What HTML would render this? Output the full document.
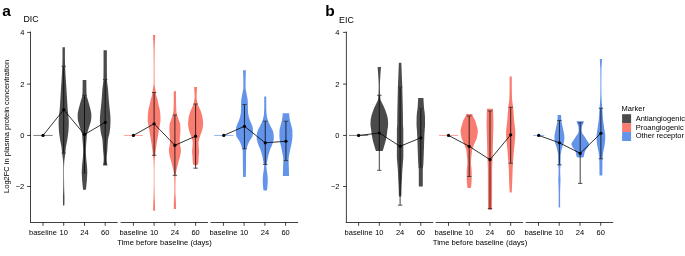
<!DOCTYPE html>
<html><head><meta charset="utf-8"><style>
html,body{margin:0;padding:0;background:#fff;overflow:hidden;}
svg{display:block;will-change:transform;}
text{font-family:"Liberation Sans",sans-serif;fill:#000;}
</style></head><body>
<svg width="685" height="256" viewBox="0 0 685 256">
<rect width="685" height="256" fill="#fff"/>
<line x1="33.30" y1="135.45" x2="52.70" y2="135.45" stroke="#4b4b4b" stroke-width="0.7"/>
<path d="M64.95,47.20 L64.94,47.60 L64.94,48.00 L64.93,48.40 L64.93,48.80 L64.92,49.20 L64.92,49.60 L64.92,50.00 L64.91,50.40 L64.91,50.80 L64.91,51.20 L64.91,51.60 L64.90,52.00 L64.90,52.40 L64.90,52.80 L64.90,53.20 L64.90,53.60 L64.90,54.00 L64.90,54.40 L64.90,54.80 L64.90,55.20 L64.90,55.60 L64.90,56.00 L64.90,56.40 L64.91,56.80 L64.91,57.20 L64.92,57.60 L64.92,58.00 L64.93,58.40 L64.93,58.80 L64.94,59.20 L64.95,59.60 L64.95,60.00 L64.96,60.40 L64.97,60.80 L64.98,61.20 L64.99,61.60 L65.00,62.00 L65.01,62.40 L65.02,62.80 L65.03,63.20 L65.04,63.60 L65.05,64.00 L65.06,64.40 L65.07,64.80 L65.08,65.20 L65.09,65.60 L65.10,66.00 L65.11,66.40 L65.12,66.80 L65.14,67.20 L65.15,67.60 L65.17,68.00 L65.19,68.40 L65.20,68.80 L65.22,69.20 L65.24,69.60 L65.26,70.00 L65.28,70.40 L65.30,70.80 L65.32,71.20 L65.35,71.60 L65.37,72.00 L65.39,72.40 L65.42,72.80 L65.44,73.20 L65.46,73.60 L65.49,74.00 L65.51,74.40 L65.53,74.80 L65.55,75.20 L65.58,75.60 L65.60,76.00 L65.62,76.40 L65.65,76.80 L65.67,77.20 L65.69,77.60 L65.72,78.00 L65.74,78.40 L65.77,78.80 L65.79,79.20 L65.82,79.60 L65.84,80.00 L65.87,80.40 L65.89,80.80 L65.92,81.20 L65.95,81.60 L65.97,82.00 L66.00,82.40 L66.03,82.80 L66.05,83.20 L66.08,83.60 L66.11,84.00 L66.13,84.40 L66.16,84.80 L66.19,85.20 L66.21,85.60 L66.24,86.00 L66.27,86.40 L66.29,86.80 L66.32,87.20 L66.35,87.60 L66.37,88.00 L66.40,88.40 L66.42,88.80 L66.45,89.20 L66.48,89.60 L66.50,90.00 L66.52,90.40 L66.55,90.80 L66.57,91.20 L66.60,91.60 L66.62,92.00 L66.65,92.40 L66.67,92.80 L66.69,93.20 L66.72,93.60 L66.74,94.00 L66.77,94.40 L66.79,94.80 L66.81,95.20 L66.84,95.60 L66.86,96.00 L66.88,96.40 L66.91,96.80 L66.93,97.20 L66.96,97.60 L66.98,98.00 L67.00,98.40 L67.03,98.80 L67.05,99.20 L67.08,99.60 L67.10,100.00 L67.12,100.40 L67.15,100.80 L67.17,101.20 L67.20,101.60 L67.22,102.00 L67.24,102.40 L67.27,102.80 L67.29,103.20 L67.31,103.60 L67.34,104.00 L67.36,104.40 L67.38,104.80 L67.41,105.20 L67.43,105.60 L67.46,106.00 L67.49,106.40 L67.51,106.80 L67.54,107.20 L67.57,107.60 L67.60,108.00 L67.63,108.40 L67.66,108.80 L67.70,109.20 L67.73,109.60 L67.77,110.00 L67.81,110.40 L67.85,110.80 L67.89,111.20 L67.93,111.60 L67.97,112.00 L68.01,112.40 L68.05,112.80 L68.09,113.20 L68.13,113.60 L68.17,114.00 L68.21,114.40 L68.24,114.80 L68.28,115.20 L68.32,115.60 L68.35,116.00 L68.38,116.40 L68.42,116.80 L68.46,117.20 L68.50,117.60 L68.54,118.00 L68.58,118.40 L68.62,118.80 L68.66,119.20 L68.69,119.60 L68.72,120.00 L68.75,120.40 L68.77,120.80 L68.79,121.20 L68.80,121.60 L68.80,122.00 L68.80,122.40 L68.80,122.80 L68.79,123.20 L68.78,123.60 L68.78,124.00 L68.77,124.40 L68.75,124.80 L68.74,125.20 L68.73,125.60 L68.71,126.00 L68.69,126.40 L68.68,126.80 L68.66,127.20 L68.64,127.60 L68.62,128.00 L68.60,128.40 L68.58,128.80 L68.56,129.20 L68.54,129.60 L68.52,130.00 L68.49,130.40 L68.46,130.80 L68.42,131.20 L68.39,131.60 L68.35,132.00 L68.30,132.40 L68.26,132.80 L68.21,133.20 L68.17,133.60 L68.12,134.00 L68.06,134.40 L68.01,134.80 L67.96,135.20 L67.90,135.60 L67.84,136.00 L67.79,136.40 L67.73,136.80 L67.67,137.20 L67.61,137.60 L67.56,138.00 L67.50,138.40 L67.44,138.80 L67.38,139.20 L67.32,139.60 L67.25,140.00 L67.18,140.40 L67.11,140.80 L67.04,141.20 L66.96,141.60 L66.88,142.00 L66.80,142.40 L66.72,142.80 L66.64,143.20 L66.56,143.60 L66.48,144.00 L66.40,144.40 L66.32,144.80 L66.25,145.20 L66.17,145.60 L66.10,146.00 L66.03,146.40 L65.97,146.80 L65.91,147.20 L65.85,147.60 L65.80,148.00 L65.75,148.40 L65.71,148.80 L65.67,149.20 L65.63,149.60 L65.59,150.00 L65.55,150.40 L65.51,150.80 L65.48,151.20 L65.44,151.60 L65.40,152.00 L65.36,152.40 L65.32,152.80 L65.28,153.20 L65.23,153.60 L65.18,154.00 L65.13,154.40 L65.08,154.80 L65.03,155.20 L64.97,155.60 L64.92,156.00 L64.87,156.40 L64.82,156.80 L64.78,157.20 L64.73,157.60 L64.68,158.00 L64.62,158.40 L64.57,158.80 L64.52,159.20 L64.47,159.60 L64.42,160.00 L64.38,160.40 L64.34,160.80 L64.30,161.20 L64.27,161.60 L64.25,162.00 L64.23,162.40 L64.21,162.80 L64.19,163.20 L64.17,163.60 L64.15,164.00 L64.14,164.40 L64.12,164.80 L64.10,165.20 L64.09,165.60 L64.07,166.00 L64.06,166.40 L64.05,166.80 L64.04,167.20 L64.03,167.60 L64.02,168.00 L64.01,168.40 L64.01,168.80 L64.00,169.20 L64.00,169.60 L64.00,170.00 L64.00,170.40 L64.00,170.80 L64.00,171.20 L64.00,171.60 L64.00,172.00 L64.00,172.40 L64.01,172.80 L64.01,173.20 L64.01,173.60 L64.01,174.00 L64.01,174.40 L64.01,174.80 L64.02,175.20 L64.02,175.60 L64.02,176.00 L64.02,176.40 L64.03,176.80 L64.03,177.20 L64.03,177.60 L64.04,178.00 L64.04,178.40 L64.04,178.80 L64.04,179.20 L64.05,179.60 L64.05,180.00 L64.05,180.40 L64.06,180.80 L64.06,181.20 L64.06,181.60 L64.07,182.00 L64.07,182.40 L64.08,182.80 L64.08,183.20 L64.09,183.60 L64.09,184.00 L64.10,184.40 L64.11,184.80 L64.11,185.20 L64.12,185.60 L64.12,186.00 L64.13,186.40 L64.14,186.80 L64.15,187.20 L64.15,187.60 L64.16,188.00 L64.17,188.40 L64.18,188.80 L64.18,189.20 L64.19,189.60 L64.20,190.00 L64.21,190.40 L64.22,190.80 L64.23,191.20 L64.25,191.60 L64.26,192.00 L64.28,192.40 L64.29,192.80 L64.31,193.20 L64.33,193.60 L64.35,194.00 L64.36,194.40 L64.38,194.80 L64.39,195.20 L64.41,195.60 L64.42,196.00 L64.43,196.40 L64.44,196.80 L64.44,197.20 L64.45,197.60 L64.45,198.00 L64.45,198.40 L64.45,198.80 L64.45,199.20 L64.45,199.60 L64.45,200.00 L64.44,200.40 L64.44,200.80 L64.44,201.20 L64.44,201.60 L64.43,202.00 L64.43,202.40 L64.42,202.80 L64.41,203.20 L64.40,203.60 L64.40,204.00 L64.39,204.40 L64.38,204.80 L64.36,205.20 L64.35,205.60 L63.05,205.60 L63.04,205.20 L63.02,204.80 L63.01,204.40 L63.00,204.00 L63.00,203.60 L62.99,203.20 L62.98,202.80 L62.97,202.40 L62.97,202.00 L62.96,201.60 L62.96,201.20 L62.96,200.80 L62.96,200.40 L62.95,200.00 L62.95,199.60 L62.95,199.20 L62.95,198.80 L62.95,198.40 L62.95,198.00 L62.95,197.60 L62.96,197.20 L62.96,196.80 L62.97,196.40 L62.98,196.00 L62.99,195.60 L63.01,195.20 L63.02,194.80 L63.04,194.40 L63.05,194.00 L63.07,193.60 L63.09,193.20 L63.11,192.80 L63.12,192.40 L63.14,192.00 L63.15,191.60 L63.17,191.20 L63.18,190.80 L63.19,190.40 L63.20,190.00 L63.21,189.60 L63.22,189.20 L63.22,188.80 L63.23,188.40 L63.24,188.00 L63.25,187.60 L63.25,187.20 L63.26,186.80 L63.27,186.40 L63.28,186.00 L63.28,185.60 L63.29,185.20 L63.29,184.80 L63.30,184.40 L63.31,184.00 L63.31,183.60 L63.32,183.20 L63.32,182.80 L63.33,182.40 L63.33,182.00 L63.34,181.60 L63.34,181.20 L63.34,180.80 L63.35,180.40 L63.35,180.00 L63.35,179.60 L63.36,179.20 L63.36,178.80 L63.36,178.40 L63.36,178.00 L63.37,177.60 L63.37,177.20 L63.37,176.80 L63.38,176.40 L63.38,176.00 L63.38,175.60 L63.38,175.20 L63.39,174.80 L63.39,174.40 L63.39,174.00 L63.39,173.60 L63.39,173.20 L63.39,172.80 L63.40,172.40 L63.40,172.00 L63.40,171.60 L63.40,171.20 L63.40,170.80 L63.40,170.40 L63.40,170.00 L63.40,169.60 L63.40,169.20 L63.39,168.80 L63.39,168.40 L63.38,168.00 L63.37,167.60 L63.36,167.20 L63.35,166.80 L63.34,166.40 L63.33,166.00 L63.31,165.60 L63.30,165.20 L63.28,164.80 L63.26,164.40 L63.25,164.00 L63.23,163.60 L63.21,163.20 L63.19,162.80 L63.17,162.40 L63.15,162.00 L63.13,161.60 L63.10,161.20 L63.06,160.80 L63.02,160.40 L62.98,160.00 L62.93,159.60 L62.88,159.20 L62.83,158.80 L62.78,158.40 L62.72,158.00 L62.67,157.60 L62.62,157.20 L62.58,156.80 L62.53,156.40 L62.48,156.00 L62.43,155.60 L62.37,155.20 L62.32,154.80 L62.27,154.40 L62.22,154.00 L62.17,153.60 L62.12,153.20 L62.08,152.80 L62.04,152.40 L62.00,152.00 L61.96,151.60 L61.92,151.20 L61.89,150.80 L61.85,150.40 L61.81,150.00 L61.77,149.60 L61.73,149.20 L61.69,148.80 L61.65,148.40 L61.60,148.00 L61.55,147.60 L61.49,147.20 L61.43,146.80 L61.37,146.40 L61.30,146.00 L61.23,145.60 L61.15,145.20 L61.08,144.80 L61.00,144.40 L60.92,144.00 L60.84,143.60 L60.76,143.20 L60.68,142.80 L60.60,142.40 L60.52,142.00 L60.44,141.60 L60.36,141.20 L60.29,140.80 L60.22,140.40 L60.15,140.00 L60.08,139.60 L60.02,139.20 L59.96,138.80 L59.90,138.40 L59.84,138.00 L59.79,137.60 L59.73,137.20 L59.67,136.80 L59.61,136.40 L59.56,136.00 L59.50,135.60 L59.44,135.20 L59.39,134.80 L59.34,134.40 L59.28,134.00 L59.23,133.60 L59.19,133.20 L59.14,132.80 L59.10,132.40 L59.05,132.00 L59.01,131.60 L58.98,131.20 L58.94,130.80 L58.91,130.40 L58.88,130.00 L58.86,129.60 L58.84,129.20 L58.82,128.80 L58.80,128.40 L58.78,128.00 L58.76,127.60 L58.74,127.20 L58.72,126.80 L58.71,126.40 L58.69,126.00 L58.67,125.60 L58.66,125.20 L58.65,124.80 L58.63,124.40 L58.62,124.00 L58.62,123.60 L58.61,123.20 L58.60,122.80 L58.60,122.40 L58.60,122.00 L58.60,121.60 L58.61,121.20 L58.63,120.80 L58.65,120.40 L58.68,120.00 L58.71,119.60 L58.74,119.20 L58.78,118.80 L58.82,118.40 L58.86,118.00 L58.90,117.60 L58.94,117.20 L58.98,116.80 L59.02,116.40 L59.05,116.00 L59.08,115.60 L59.12,115.20 L59.16,114.80 L59.19,114.40 L59.23,114.00 L59.27,113.60 L59.31,113.20 L59.35,112.80 L59.39,112.40 L59.43,112.00 L59.47,111.60 L59.51,111.20 L59.55,110.80 L59.59,110.40 L59.63,110.00 L59.67,109.60 L59.70,109.20 L59.74,108.80 L59.77,108.40 L59.80,108.00 L59.83,107.60 L59.86,107.20 L59.89,106.80 L59.91,106.40 L59.94,106.00 L59.97,105.60 L59.99,105.20 L60.02,104.80 L60.04,104.40 L60.06,104.00 L60.09,103.60 L60.11,103.20 L60.13,102.80 L60.16,102.40 L60.18,102.00 L60.20,101.60 L60.23,101.20 L60.25,100.80 L60.28,100.40 L60.30,100.00 L60.32,99.60 L60.35,99.20 L60.37,98.80 L60.40,98.40 L60.42,98.00 L60.44,97.60 L60.47,97.20 L60.49,96.80 L60.52,96.40 L60.54,96.00 L60.56,95.60 L60.59,95.20 L60.61,94.80 L60.63,94.40 L60.66,94.00 L60.68,93.60 L60.71,93.20 L60.73,92.80 L60.75,92.40 L60.78,92.00 L60.80,91.60 L60.83,91.20 L60.85,90.80 L60.88,90.40 L60.90,90.00 L60.92,89.60 L60.95,89.20 L60.98,88.80 L61.00,88.40 L61.03,88.00 L61.05,87.60 L61.08,87.20 L61.11,86.80 L61.13,86.40 L61.16,86.00 L61.19,85.60 L61.21,85.20 L61.24,84.80 L61.27,84.40 L61.29,84.00 L61.32,83.60 L61.35,83.20 L61.37,82.80 L61.40,82.40 L61.43,82.00 L61.45,81.60 L61.48,81.20 L61.51,80.80 L61.53,80.40 L61.56,80.00 L61.58,79.60 L61.61,79.20 L61.63,78.80 L61.66,78.40 L61.68,78.00 L61.71,77.60 L61.73,77.20 L61.75,76.80 L61.78,76.40 L61.80,76.00 L61.82,75.60 L61.85,75.20 L61.87,74.80 L61.89,74.40 L61.91,74.00 L61.94,73.60 L61.96,73.20 L61.98,72.80 L62.01,72.40 L62.03,72.00 L62.05,71.60 L62.08,71.20 L62.10,70.80 L62.12,70.40 L62.14,70.00 L62.16,69.60 L62.18,69.20 L62.20,68.80 L62.21,68.40 L62.23,68.00 L62.25,67.60 L62.26,67.20 L62.28,66.80 L62.29,66.40 L62.30,66.00 L62.31,65.60 L62.32,65.20 L62.33,64.80 L62.34,64.40 L62.35,64.00 L62.36,63.60 L62.37,63.20 L62.38,62.80 L62.39,62.40 L62.40,62.00 L62.41,61.60 L62.42,61.20 L62.43,60.80 L62.44,60.40 L62.45,60.00 L62.45,59.60 L62.46,59.20 L62.47,58.80 L62.47,58.40 L62.48,58.00 L62.48,57.60 L62.49,57.20 L62.49,56.80 L62.50,56.40 L62.50,56.00 L62.50,55.60 L62.50,55.20 L62.50,54.80 L62.50,54.40 L62.50,54.00 L62.50,53.60 L62.50,53.20 L62.50,52.80 L62.50,52.40 L62.50,52.00 L62.49,51.60 L62.49,51.20 L62.49,50.80 L62.49,50.40 L62.48,50.00 L62.48,49.60 L62.48,49.20 L62.47,48.80 L62.47,48.40 L62.46,48.00 L62.46,47.60 L62.45,47.20Z" fill="#4b4b4b"/>
<path d="M86.35,80.00 L86.35,80.40 L86.35,80.80 L86.35,81.20 L86.35,81.60 L86.36,82.00 L86.36,82.40 L86.36,82.80 L86.36,83.20 L86.37,83.60 L86.37,84.00 L86.37,84.40 L86.38,84.80 L86.38,85.20 L86.39,85.60 L86.39,86.00 L86.40,86.40 L86.40,86.80 L86.41,87.20 L86.41,87.60 L86.42,88.00 L86.42,88.40 L86.43,88.80 L86.44,89.20 L86.44,89.60 L86.45,90.00 L86.46,90.40 L86.46,90.80 L86.47,91.20 L86.48,91.60 L86.49,92.00 L86.51,92.40 L86.52,92.80 L86.53,93.20 L86.55,93.60 L86.57,94.00 L86.59,94.40 L86.61,94.80 L86.64,95.20 L86.67,95.60 L86.72,96.00 L86.80,96.40 L86.89,96.80 L87.00,97.20 L87.12,97.60 L87.25,98.00 L87.39,98.40 L87.52,98.80 L87.66,99.20 L87.78,99.60 L87.90,100.00 L88.01,100.40 L88.12,100.80 L88.23,101.20 L88.35,101.60 L88.46,102.00 L88.57,102.40 L88.68,102.80 L88.80,103.20 L88.91,103.60 L89.02,104.00 L89.13,104.40 L89.24,104.80 L89.36,105.20 L89.47,105.60 L89.58,106.00 L89.69,106.40 L89.80,106.80 L89.91,107.20 L90.02,107.60 L90.13,108.00 L90.23,108.40 L90.33,108.80 L90.43,109.20 L90.52,109.60 L90.60,110.00 L90.68,110.40 L90.76,110.80 L90.84,111.20 L90.92,111.60 L91.00,112.00 L91.08,112.40 L91.15,112.80 L91.21,113.20 L91.26,113.60 L91.30,114.00 L91.33,114.40 L91.35,114.80 L91.35,115.20 L91.35,115.60 L91.34,116.00 L91.34,116.40 L91.33,116.80 L91.32,117.20 L91.31,117.60 L91.30,118.00 L91.28,118.40 L91.25,118.80 L91.20,119.20 L91.14,119.60 L91.08,120.00 L91.01,120.40 L90.94,120.80 L90.86,121.20 L90.78,121.60 L90.68,122.00 L90.56,122.40 L90.45,122.80 L90.32,123.20 L90.19,123.60 L90.06,124.00 L89.93,124.40 L89.81,124.80 L89.69,125.20 L89.57,125.60 L89.45,126.00 L89.33,126.40 L89.20,126.80 L89.08,127.20 L88.95,127.60 L88.83,128.00 L88.71,128.40 L88.58,128.80 L88.46,129.20 L88.34,129.60 L88.21,130.00 L88.07,130.40 L87.93,130.80 L87.78,131.20 L87.64,131.60 L87.50,132.00 L87.37,132.40 L87.24,132.80 L87.13,133.20 L87.04,133.60 L86.96,134.00 L86.90,134.40 L86.86,134.80 L86.82,135.20 L86.78,135.60 L86.75,136.00 L86.72,136.40 L86.70,136.80 L86.67,137.20 L86.65,137.60 L86.63,138.00 L86.60,138.40 L86.58,138.80 L86.56,139.20 L86.53,139.60 L86.50,140.00 L86.47,140.40 L86.44,140.80 L86.40,141.20 L86.37,141.60 L86.33,142.00 L86.30,142.40 L86.26,142.80 L86.23,143.20 L86.20,143.60 L86.17,144.00 L86.14,144.40 L86.11,144.80 L86.09,145.20 L86.06,145.60 L86.04,146.00 L86.02,146.40 L85.99,146.80 L85.97,147.20 L85.95,147.60 L85.93,148.00 L85.91,148.40 L85.90,148.80 L85.88,149.20 L85.88,149.60 L85.88,150.00 L85.88,150.40 L85.88,150.80 L85.88,151.20 L85.89,151.60 L85.90,152.00 L85.91,152.40 L85.92,152.80 L85.94,153.20 L85.95,153.60 L85.96,154.00 L85.98,154.40 L85.99,154.80 L86.01,155.20 L86.03,155.60 L86.05,156.00 L86.07,156.40 L86.10,156.80 L86.13,157.20 L86.17,157.60 L86.20,158.00 L86.23,158.40 L86.27,158.80 L86.30,159.20 L86.34,159.60 L86.38,160.00 L86.41,160.40 L86.45,160.80 L86.49,161.20 L86.53,161.60 L86.58,162.00 L86.62,162.40 L86.67,162.80 L86.71,163.20 L86.75,163.60 L86.79,164.00 L86.83,164.40 L86.86,164.80 L86.89,165.20 L86.92,165.60 L86.95,166.00 L86.98,166.40 L87.01,166.80 L87.04,167.20 L87.06,167.60 L87.09,168.00 L87.12,168.40 L87.14,168.80 L87.17,169.20 L87.19,169.60 L87.20,170.00 L87.22,170.40 L87.23,170.80 L87.24,171.20 L87.25,171.60 L87.25,172.00 L87.25,172.40 L87.24,172.80 L87.23,173.20 L87.22,173.60 L87.21,174.00 L87.19,174.40 L87.18,174.80 L87.16,175.20 L87.14,175.60 L87.11,176.00 L87.09,176.40 L87.07,176.80 L87.05,177.20 L87.02,177.60 L87.00,178.00 L86.98,178.40 L86.95,178.80 L86.92,179.20 L86.89,179.60 L86.86,180.00 L86.83,180.40 L86.79,180.80 L86.76,181.20 L86.72,181.60 L86.68,182.00 L86.65,182.40 L86.61,182.80 L86.57,183.20 L86.54,183.60 L86.50,184.00 L86.46,184.40 L86.43,184.80 L86.39,185.20 L86.35,185.60 L86.32,186.00 L86.28,186.40 L86.24,186.80 L86.20,187.20 L86.16,187.60 L86.12,188.00 L86.08,188.40 L86.04,188.80 L86.00,189.20 L85.96,189.60 L85.95,189.70 L83.05,189.70 L83.04,189.60 L83.00,189.20 L82.96,188.80 L82.92,188.40 L82.88,188.00 L82.84,187.60 L82.80,187.20 L82.76,186.80 L82.72,186.40 L82.68,186.00 L82.65,185.60 L82.61,185.20 L82.57,184.80 L82.54,184.40 L82.50,184.00 L82.46,183.60 L82.43,183.20 L82.39,182.80 L82.35,182.40 L82.32,182.00 L82.28,181.60 L82.24,181.20 L82.21,180.80 L82.17,180.40 L82.14,180.00 L82.11,179.60 L82.08,179.20 L82.05,178.80 L82.02,178.40 L82.00,178.00 L81.98,177.60 L81.95,177.20 L81.93,176.80 L81.91,176.40 L81.89,176.00 L81.86,175.60 L81.84,175.20 L81.82,174.80 L81.81,174.40 L81.79,174.00 L81.78,173.60 L81.77,173.20 L81.76,172.80 L81.75,172.40 L81.75,172.00 L81.75,171.60 L81.76,171.20 L81.77,170.80 L81.78,170.40 L81.80,170.00 L81.81,169.60 L81.83,169.20 L81.86,168.80 L81.88,168.40 L81.91,168.00 L81.94,167.60 L81.96,167.20 L81.99,166.80 L82.02,166.40 L82.05,166.00 L82.08,165.60 L82.11,165.20 L82.14,164.80 L82.17,164.40 L82.21,164.00 L82.25,163.60 L82.29,163.20 L82.33,162.80 L82.38,162.40 L82.42,162.00 L82.47,161.60 L82.51,161.20 L82.55,160.80 L82.59,160.40 L82.62,160.00 L82.66,159.60 L82.70,159.20 L82.73,158.80 L82.77,158.40 L82.80,158.00 L82.83,157.60 L82.87,157.20 L82.90,156.80 L82.93,156.40 L82.95,156.00 L82.97,155.60 L82.99,155.20 L83.01,154.80 L83.02,154.40 L83.04,154.00 L83.05,153.60 L83.06,153.20 L83.08,152.80 L83.09,152.40 L83.10,152.00 L83.11,151.60 L83.12,151.20 L83.12,150.80 L83.12,150.40 L83.12,150.00 L83.12,149.60 L83.12,149.20 L83.10,148.80 L83.09,148.40 L83.07,148.00 L83.05,147.60 L83.03,147.20 L83.01,146.80 L82.98,146.40 L82.96,146.00 L82.94,145.60 L82.91,145.20 L82.89,144.80 L82.86,144.40 L82.83,144.00 L82.80,143.60 L82.77,143.20 L82.74,142.80 L82.70,142.40 L82.67,142.00 L82.63,141.60 L82.60,141.20 L82.56,140.80 L82.53,140.40 L82.50,140.00 L82.47,139.60 L82.44,139.20 L82.42,138.80 L82.40,138.40 L82.37,138.00 L82.35,137.60 L82.33,137.20 L82.30,136.80 L82.28,136.40 L82.25,136.00 L82.22,135.60 L82.18,135.20 L82.14,134.80 L82.10,134.40 L82.04,134.00 L81.96,133.60 L81.87,133.20 L81.76,132.80 L81.63,132.40 L81.50,132.00 L81.36,131.60 L81.22,131.20 L81.07,130.80 L80.93,130.40 L80.79,130.00 L80.66,129.60 L80.54,129.20 L80.42,128.80 L80.29,128.40 L80.17,128.00 L80.05,127.60 L79.92,127.20 L79.80,126.80 L79.67,126.40 L79.55,126.00 L79.43,125.60 L79.31,125.20 L79.19,124.80 L79.07,124.40 L78.94,124.00 L78.81,123.60 L78.68,123.20 L78.55,122.80 L78.44,122.40 L78.32,122.00 L78.22,121.60 L78.14,121.20 L78.06,120.80 L77.99,120.40 L77.92,120.00 L77.86,119.60 L77.80,119.20 L77.75,118.80 L77.72,118.40 L77.70,118.00 L77.69,117.60 L77.68,117.20 L77.67,116.80 L77.66,116.40 L77.66,116.00 L77.65,115.60 L77.65,115.20 L77.65,114.80 L77.67,114.40 L77.70,114.00 L77.74,113.60 L77.79,113.20 L77.85,112.80 L77.92,112.40 L78.00,112.00 L78.08,111.60 L78.16,111.20 L78.24,110.80 L78.32,110.40 L78.40,110.00 L78.48,109.60 L78.57,109.20 L78.67,108.80 L78.77,108.40 L78.87,108.00 L78.98,107.60 L79.09,107.20 L79.20,106.80 L79.31,106.40 L79.42,106.00 L79.53,105.60 L79.64,105.20 L79.76,104.80 L79.87,104.40 L79.98,104.00 L80.09,103.60 L80.20,103.20 L80.32,102.80 L80.43,102.40 L80.54,102.00 L80.65,101.60 L80.77,101.20 L80.88,100.80 L80.99,100.40 L81.10,100.00 L81.22,99.60 L81.34,99.20 L81.48,98.80 L81.61,98.40 L81.75,98.00 L81.88,97.60 L82.00,97.20 L82.11,96.80 L82.20,96.40 L82.28,96.00 L82.33,95.60 L82.36,95.20 L82.39,94.80 L82.41,94.40 L82.43,94.00 L82.45,93.60 L82.47,93.20 L82.48,92.80 L82.49,92.40 L82.51,92.00 L82.52,91.60 L82.53,91.20 L82.54,90.80 L82.54,90.40 L82.55,90.00 L82.56,89.60 L82.56,89.20 L82.57,88.80 L82.58,88.40 L82.58,88.00 L82.59,87.60 L82.59,87.20 L82.60,86.80 L82.60,86.40 L82.61,86.00 L82.61,85.60 L82.62,85.20 L82.62,84.80 L82.63,84.40 L82.63,84.00 L82.63,83.60 L82.64,83.20 L82.64,82.80 L82.64,82.40 L82.64,82.00 L82.65,81.60 L82.65,81.20 L82.65,80.80 L82.65,80.40 L82.65,80.00Z" fill="#4b4b4b"/>
<path d="M106.85,50.30 L106.85,50.70 L106.85,51.10 L106.85,51.50 L106.85,51.90 L106.85,52.30 L106.85,52.70 L106.85,53.10 L106.85,53.50 L106.85,53.90 L106.85,54.30 L106.85,54.70 L106.85,55.10 L106.85,55.50 L106.85,55.90 L106.85,56.30 L106.85,56.70 L106.85,57.10 L106.85,57.50 L106.85,57.90 L106.85,58.30 L106.85,58.70 L106.85,59.10 L106.85,59.50 L106.85,59.90 L106.85,60.30 L106.85,60.70 L106.85,61.10 L106.85,61.50 L106.85,61.90 L106.85,62.30 L106.85,62.70 L106.85,63.10 L106.85,63.50 L106.85,63.90 L106.85,64.30 L106.85,64.70 L106.85,65.10 L106.85,65.50 L106.85,65.90 L106.85,66.30 L106.85,66.70 L106.86,67.10 L106.86,67.50 L106.86,67.90 L106.86,68.30 L106.87,68.70 L106.87,69.10 L106.87,69.50 L106.88,69.90 L106.88,70.30 L106.89,70.70 L106.89,71.10 L106.90,71.50 L106.90,71.90 L106.90,72.30 L106.91,72.70 L106.91,73.10 L106.92,73.50 L106.92,73.90 L106.93,74.30 L106.93,74.70 L106.94,75.10 L106.94,75.50 L106.95,75.90 L106.95,76.30 L106.96,76.70 L106.96,77.10 L106.97,77.50 L106.97,77.90 L106.98,78.30 L106.98,78.70 L106.99,79.10 L107.00,79.50 L107.01,79.90 L107.03,80.30 L107.05,80.70 L107.08,81.10 L107.11,81.50 L107.14,81.90 L107.18,82.30 L107.22,82.70 L107.26,83.10 L107.30,83.50 L107.35,83.90 L107.40,84.30 L107.45,84.70 L107.50,85.10 L107.55,85.50 L107.60,85.90 L107.66,86.30 L107.71,86.70 L107.76,87.10 L107.81,87.50 L107.86,87.90 L107.90,88.30 L107.95,88.70 L107.99,89.10 L108.03,89.50 L108.07,89.90 L108.10,90.30 L108.13,90.70 L108.16,91.10 L108.19,91.50 L108.22,91.90 L108.25,92.30 L108.28,92.70 L108.31,93.10 L108.34,93.50 L108.37,93.90 L108.39,94.30 L108.42,94.70 L108.45,95.10 L108.47,95.50 L108.50,95.90 L108.53,96.30 L108.55,96.70 L108.58,97.10 L108.61,97.50 L108.64,97.90 L108.67,98.30 L108.70,98.70 L108.73,99.10 L108.76,99.50 L108.79,99.90 L108.83,100.30 L108.86,100.70 L108.90,101.10 L108.93,101.50 L108.97,101.90 L109.01,102.30 L109.04,102.70 L109.08,103.10 L109.12,103.50 L109.16,103.90 L109.20,104.30 L109.24,104.70 L109.28,105.10 L109.32,105.50 L109.36,105.90 L109.40,106.30 L109.44,106.70 L109.48,107.10 L109.52,107.50 L109.56,107.90 L109.61,108.30 L109.65,108.70 L109.69,109.10 L109.74,109.50 L109.78,109.90 L109.83,110.30 L109.88,110.70 L109.92,111.10 L109.97,111.50 L110.01,111.90 L110.05,112.30 L110.09,112.70 L110.13,113.10 L110.16,113.50 L110.19,113.90 L110.22,114.30 L110.25,114.70 L110.28,115.10 L110.30,115.50 L110.33,115.90 L110.36,116.30 L110.38,116.70 L110.41,117.10 L110.43,117.50 L110.45,117.90 L110.46,118.30 L110.48,118.70 L110.49,119.10 L110.50,119.50 L110.50,119.90 L110.50,120.30 L110.50,120.70 L110.49,121.10 L110.48,121.50 L110.47,121.90 L110.46,122.30 L110.45,122.70 L110.43,123.10 L110.42,123.50 L110.40,123.90 L110.38,124.30 L110.36,124.70 L110.35,125.10 L110.33,125.50 L110.31,125.90 L110.28,126.30 L110.26,126.70 L110.23,127.10 L110.20,127.50 L110.16,127.90 L110.12,128.30 L110.08,128.70 L110.03,129.10 L109.98,129.50 L109.94,129.90 L109.88,130.30 L109.83,130.70 L109.78,131.10 L109.72,131.50 L109.66,131.90 L109.60,132.30 L109.54,132.70 L109.48,133.10 L109.40,133.50 L109.31,133.90 L109.22,134.30 L109.12,134.70 L109.02,135.10 L108.92,135.50 L108.81,135.90 L108.71,136.30 L108.60,136.70 L108.50,137.10 L108.40,137.50 L108.31,137.90 L108.22,138.30 L108.14,138.70 L108.07,139.10 L108.01,139.50 L107.96,139.90 L107.92,140.30 L107.88,140.70 L107.85,141.10 L107.82,141.50 L107.79,141.90 L107.76,142.30 L107.73,142.70 L107.71,143.10 L107.68,143.50 L107.66,143.90 L107.64,144.30 L107.62,144.70 L107.59,145.10 L107.57,145.50 L107.55,145.90 L107.53,146.30 L107.51,146.70 L107.49,147.10 L107.47,147.50 L107.45,147.90 L107.43,148.30 L107.41,148.70 L107.38,149.10 L107.36,149.50 L107.33,149.90 L107.30,150.30 L107.27,150.70 L107.24,151.10 L107.20,151.50 L107.16,151.90 L107.12,152.30 L107.08,152.70 L107.04,153.10 L106.99,153.50 L106.95,153.90 L106.91,154.30 L106.88,154.70 L106.84,155.10 L106.81,155.50 L106.78,155.90 L106.75,156.30 L106.73,156.70 L106.72,157.10 L106.70,157.50 L106.70,157.90 L106.70,158.30 L106.70,158.70 L106.71,159.10 L106.71,159.50 L106.72,159.90 L106.73,160.30 L106.75,160.70 L106.76,161.10 L106.78,161.50 L106.80,161.90 L106.83,162.30 L106.91,162.70 L107.01,163.10 L107.11,163.50 L107.18,163.90 L107.19,164.30 L106.96,164.70 L106.70,165.00 L103.70,165.00 L103.44,164.70 L103.21,164.30 L103.22,163.90 L103.29,163.50 L103.39,163.10 L103.49,162.70 L103.57,162.30 L103.60,161.90 L103.62,161.50 L103.64,161.10 L103.65,160.70 L103.67,160.30 L103.68,159.90 L103.69,159.50 L103.69,159.10 L103.70,158.70 L103.70,158.30 L103.70,157.90 L103.70,157.50 L103.68,157.10 L103.67,156.70 L103.65,156.30 L103.62,155.90 L103.59,155.50 L103.56,155.10 L103.52,154.70 L103.49,154.30 L103.45,153.90 L103.41,153.50 L103.36,153.10 L103.32,152.70 L103.28,152.30 L103.24,151.90 L103.20,151.50 L103.16,151.10 L103.13,150.70 L103.10,150.30 L103.07,149.90 L103.04,149.50 L103.02,149.10 L102.99,148.70 L102.97,148.30 L102.95,147.90 L102.93,147.50 L102.91,147.10 L102.89,146.70 L102.87,146.30 L102.85,145.90 L102.83,145.50 L102.81,145.10 L102.78,144.70 L102.76,144.30 L102.74,143.90 L102.72,143.50 L102.69,143.10 L102.67,142.70 L102.64,142.30 L102.61,141.90 L102.58,141.50 L102.55,141.10 L102.52,140.70 L102.48,140.30 L102.44,139.90 L102.39,139.50 L102.33,139.10 L102.26,138.70 L102.18,138.30 L102.09,137.90 L102.00,137.50 L101.90,137.10 L101.80,136.70 L101.69,136.30 L101.59,135.90 L101.48,135.50 L101.38,135.10 L101.28,134.70 L101.18,134.30 L101.09,133.90 L101.00,133.50 L100.92,133.10 L100.86,132.70 L100.80,132.30 L100.74,131.90 L100.68,131.50 L100.62,131.10 L100.57,130.70 L100.52,130.30 L100.46,129.90 L100.42,129.50 L100.37,129.10 L100.32,128.70 L100.28,128.30 L100.24,127.90 L100.20,127.50 L100.17,127.10 L100.14,126.70 L100.12,126.30 L100.09,125.90 L100.07,125.50 L100.05,125.10 L100.04,124.70 L100.02,124.30 L100.00,123.90 L99.98,123.50 L99.97,123.10 L99.95,122.70 L99.94,122.30 L99.93,121.90 L99.92,121.50 L99.91,121.10 L99.90,120.70 L99.90,120.30 L99.90,119.90 L99.90,119.50 L99.91,119.10 L99.92,118.70 L99.94,118.30 L99.95,117.90 L99.97,117.50 L99.99,117.10 L100.02,116.70 L100.04,116.30 L100.07,115.90 L100.10,115.50 L100.12,115.10 L100.15,114.70 L100.18,114.30 L100.21,113.90 L100.24,113.50 L100.27,113.10 L100.31,112.70 L100.35,112.30 L100.39,111.90 L100.43,111.50 L100.48,111.10 L100.52,110.70 L100.57,110.30 L100.62,109.90 L100.66,109.50 L100.71,109.10 L100.75,108.70 L100.79,108.30 L100.84,107.90 L100.88,107.50 L100.92,107.10 L100.96,106.70 L101.00,106.30 L101.04,105.90 L101.08,105.50 L101.12,105.10 L101.16,104.70 L101.20,104.30 L101.24,103.90 L101.28,103.50 L101.32,103.10 L101.36,102.70 L101.39,102.30 L101.43,101.90 L101.47,101.50 L101.50,101.10 L101.54,100.70 L101.57,100.30 L101.61,99.90 L101.64,99.50 L101.67,99.10 L101.70,98.70 L101.73,98.30 L101.76,97.90 L101.79,97.50 L101.82,97.10 L101.85,96.70 L101.87,96.30 L101.90,95.90 L101.93,95.50 L101.95,95.10 L101.98,94.70 L102.01,94.30 L102.03,93.90 L102.06,93.50 L102.09,93.10 L102.12,92.70 L102.15,92.30 L102.18,91.90 L102.21,91.50 L102.24,91.10 L102.27,90.70 L102.30,90.30 L102.33,89.90 L102.37,89.50 L102.41,89.10 L102.45,88.70 L102.50,88.30 L102.54,87.90 L102.59,87.50 L102.64,87.10 L102.69,86.70 L102.74,86.30 L102.80,85.90 L102.85,85.50 L102.90,85.10 L102.95,84.70 L103.00,84.30 L103.05,83.90 L103.10,83.50 L103.14,83.10 L103.18,82.70 L103.22,82.30 L103.26,81.90 L103.29,81.50 L103.32,81.10 L103.35,80.70 L103.37,80.30 L103.39,79.90 L103.40,79.50 L103.41,79.10 L103.42,78.70 L103.42,78.30 L103.43,77.90 L103.43,77.50 L103.44,77.10 L103.44,76.70 L103.45,76.30 L103.45,75.90 L103.46,75.50 L103.46,75.10 L103.47,74.70 L103.47,74.30 L103.48,73.90 L103.48,73.50 L103.49,73.10 L103.49,72.70 L103.50,72.30 L103.50,71.90 L103.50,71.50 L103.51,71.10 L103.51,70.70 L103.52,70.30 L103.52,69.90 L103.53,69.50 L103.53,69.10 L103.53,68.70 L103.54,68.30 L103.54,67.90 L103.54,67.50 L103.54,67.10 L103.55,66.70 L103.55,66.30 L103.55,65.90 L103.55,65.50 L103.55,65.10 L103.55,64.70 L103.55,64.30 L103.55,63.90 L103.55,63.50 L103.55,63.10 L103.55,62.70 L103.55,62.30 L103.55,61.90 L103.55,61.50 L103.55,61.10 L103.55,60.70 L103.55,60.30 L103.55,59.90 L103.55,59.50 L103.55,59.10 L103.55,58.70 L103.55,58.30 L103.55,57.90 L103.55,57.50 L103.55,57.10 L103.55,56.70 L103.55,56.30 L103.55,55.90 L103.55,55.50 L103.55,55.10 L103.55,54.70 L103.55,54.30 L103.55,53.90 L103.55,53.50 L103.55,53.10 L103.55,52.70 L103.55,52.30 L103.55,51.90 L103.55,51.50 L103.55,51.10 L103.55,50.70 L103.55,50.30Z" fill="#4b4b4b"/>
<line x1="123.80" y1="135.45" x2="143.00" y2="135.45" stroke="#F97C70" stroke-width="0.7"/>
<path d="M155.30,35.00 L155.27,35.40 L155.25,35.80 L155.22,36.20 L155.19,36.60 L155.17,37.00 L155.14,37.40 L155.12,37.80 L155.09,38.20 L155.07,38.60 L155.05,39.00 L155.03,39.40 L155.01,39.80 L154.99,40.20 L154.97,40.60 L154.95,41.00 L154.94,41.40 L154.92,41.80 L154.90,42.20 L154.88,42.60 L154.87,43.00 L154.85,43.40 L154.83,43.80 L154.82,44.20 L154.80,44.60 L154.78,45.00 L154.77,45.40 L154.76,45.80 L154.74,46.20 L154.73,46.60 L154.72,47.00 L154.70,47.40 L154.69,47.80 L154.68,48.20 L154.67,48.60 L154.67,49.00 L154.66,49.40 L154.65,49.80 L154.65,50.20 L154.64,50.60 L154.64,51.00 L154.63,51.40 L154.63,51.80 L154.62,52.20 L154.62,52.60 L154.61,53.00 L154.61,53.40 L154.60,53.80 L154.60,54.20 L154.59,54.60 L154.59,55.00 L154.58,55.40 L154.58,55.80 L154.58,56.20 L154.57,56.60 L154.57,57.00 L154.56,57.40 L154.56,57.80 L154.56,58.20 L154.55,58.60 L154.55,59.00 L154.55,59.40 L154.54,59.80 L154.54,60.20 L154.54,60.60 L154.53,61.00 L154.53,61.40 L154.53,61.80 L154.53,62.20 L154.52,62.60 L154.52,63.00 L154.52,63.40 L154.52,63.80 L154.51,64.20 L154.51,64.60 L154.51,65.00 L154.51,65.40 L154.51,65.80 L154.51,66.20 L154.51,66.60 L154.50,67.00 L154.50,67.40 L154.50,67.80 L154.50,68.20 L154.50,68.60 L154.50,69.00 L154.50,69.40 L154.50,69.80 L154.50,70.20 L154.50,70.60 L154.50,71.00 L154.50,71.40 L154.50,71.80 L154.50,72.20 L154.50,72.60 L154.50,73.00 L154.50,73.40 L154.50,73.80 L154.50,74.20 L154.50,74.60 L154.51,75.00 L154.51,75.40 L154.51,75.80 L154.51,76.20 L154.51,76.60 L154.51,77.00 L154.51,77.40 L154.52,77.80 L154.52,78.20 L154.52,78.60 L154.52,79.00 L154.52,79.40 L154.53,79.80 L154.53,80.20 L154.53,80.60 L154.53,81.00 L154.54,81.40 L154.54,81.80 L154.54,82.20 L154.55,82.60 L154.55,83.00 L154.56,83.40 L154.58,83.80 L154.61,84.20 L154.65,84.60 L154.69,85.00 L154.73,85.40 L154.78,85.80 L154.82,86.20 L154.88,86.60 L154.94,87.00 L155.02,87.40 L155.09,87.80 L155.16,88.20 L155.23,88.60 L155.30,89.00 L155.36,89.40 L155.42,89.80 L155.47,90.20 L155.53,90.60 L155.58,91.00 L155.64,91.40 L155.70,91.80 L155.75,92.20 L155.82,92.60 L155.88,93.00 L155.94,93.40 L156.00,93.80 L156.07,94.20 L156.13,94.60 L156.20,95.00 L156.28,95.40 L156.36,95.80 L156.45,96.20 L156.55,96.60 L156.66,97.00 L156.79,97.40 L156.92,97.80 L157.05,98.20 L157.19,98.60 L157.32,99.00 L157.44,99.40 L157.55,99.80 L157.65,100.20 L157.74,100.60 L157.82,101.00 L157.91,101.40 L157.98,101.80 L158.06,102.20 L158.13,102.60 L158.21,103.00 L158.28,103.40 L158.36,103.80 L158.43,104.20 L158.52,104.60 L158.60,105.00 L158.69,105.40 L158.79,105.80 L158.89,106.20 L159.00,106.60 L159.11,107.00 L159.22,107.40 L159.33,107.80 L159.43,108.20 L159.53,108.60 L159.62,109.00 L159.70,109.40 L159.77,109.80 L159.83,110.20 L159.88,110.60 L159.94,111.00 L159.99,111.40 L160.04,111.80 L160.09,112.20 L160.14,112.60 L160.18,113.00 L160.22,113.40 L160.26,113.80 L160.29,114.20 L160.32,114.60 L160.35,115.00 L160.37,115.40 L160.39,115.80 L160.41,116.20 L160.42,116.60 L160.44,117.00 L160.45,117.40 L160.46,117.80 L160.47,118.20 L160.48,118.60 L160.49,119.00 L160.49,119.40 L160.50,119.80 L160.50,120.20 L160.49,120.60 L160.47,121.00 L160.42,121.40 L160.37,121.80 L160.30,122.20 L160.23,122.60 L160.15,123.00 L160.08,123.40 L160.01,123.80 L159.94,124.20 L159.88,124.60 L159.81,125.00 L159.74,125.40 L159.67,125.80 L159.60,126.20 L159.53,126.60 L159.46,127.00 L159.38,127.40 L159.31,127.80 L159.24,128.20 L159.17,128.60 L159.10,129.00 L159.03,129.40 L158.96,129.80 L158.90,130.20 L158.83,130.60 L158.76,131.00 L158.70,131.40 L158.63,131.80 L158.57,132.20 L158.50,132.60 L158.43,133.00 L158.37,133.40 L158.30,133.80 L158.23,134.20 L158.17,134.60 L158.10,135.00 L158.03,135.40 L157.96,135.80 L157.90,136.20 L157.83,136.60 L157.76,137.00 L157.69,137.40 L157.62,137.80 L157.55,138.20 L157.48,138.60 L157.42,139.00 L157.35,139.40 L157.28,139.80 L157.22,140.20 L157.15,140.60 L157.09,141.00 L157.02,141.40 L156.96,141.80 L156.90,142.20 L156.84,142.60 L156.77,143.00 L156.71,143.40 L156.65,143.80 L156.59,144.20 L156.53,144.60 L156.48,145.00 L156.42,145.40 L156.36,145.80 L156.30,146.20 L156.25,146.60 L156.19,147.00 L156.14,147.40 L156.08,147.80 L156.03,148.20 L155.98,148.60 L155.93,149.00 L155.88,149.40 L155.82,149.80 L155.78,150.20 L155.73,150.60 L155.68,151.00 L155.63,151.40 L155.59,151.80 L155.54,152.20 L155.50,152.60 L155.45,153.00 L155.41,153.40 L155.36,153.80 L155.32,154.20 L155.27,154.60 L155.23,155.00 L155.17,155.40 L155.12,155.80 L155.07,156.20 L155.01,156.60 L154.96,157.00 L154.91,157.40 L154.87,157.80 L154.83,158.20 L154.80,158.60 L154.77,159.00 L154.74,159.40 L154.71,159.80 L154.69,160.20 L154.67,160.60 L154.64,161.00 L154.62,161.40 L154.61,161.80 L154.59,162.20 L154.58,162.60 L154.56,163.00 L154.55,163.40 L154.53,163.80 L154.52,164.20 L154.51,164.60 L154.49,165.00 L154.48,165.40 L154.47,165.80 L154.46,166.20 L154.45,166.60 L154.44,167.00 L154.43,167.40 L154.42,167.80 L154.41,168.20 L154.41,168.60 L154.40,169.00 L154.40,169.40 L154.40,169.80 L154.40,170.20 L154.40,170.60 L154.40,171.00 L154.40,171.40 L154.40,171.80 L154.40,172.20 L154.40,172.60 L154.40,173.00 L154.40,173.40 L154.40,173.80 L154.40,174.20 L154.40,174.60 L154.40,175.00 L154.40,175.40 L154.40,175.80 L154.40,176.20 L154.40,176.60 L154.40,177.00 L154.40,177.40 L154.40,177.80 L154.40,178.20 L154.40,178.60 L154.40,179.00 L154.40,179.40 L154.40,179.80 L154.40,180.20 L154.40,180.60 L154.40,181.00 L154.40,181.40 L154.40,181.80 L154.41,182.20 L154.41,182.60 L154.41,183.00 L154.41,183.40 L154.42,183.80 L154.42,184.20 L154.42,184.60 L154.43,185.00 L154.43,185.40 L154.44,185.80 L154.44,186.20 L154.45,186.60 L154.45,187.00 L154.46,187.40 L154.47,187.80 L154.47,188.20 L154.48,188.60 L154.48,189.00 L154.49,189.40 L154.50,189.80 L154.51,190.20 L154.51,190.60 L154.52,191.00 L154.53,191.40 L154.54,191.80 L154.54,192.20 L154.55,192.60 L154.56,193.00 L154.57,193.40 L154.58,193.80 L154.58,194.20 L154.59,194.60 L154.60,195.00 L154.61,195.40 L154.62,195.80 L154.63,196.20 L154.65,196.60 L154.66,197.00 L154.68,197.40 L154.69,197.80 L154.71,198.20 L154.73,198.60 L154.75,199.00 L154.77,199.40 L154.79,199.80 L154.81,200.20 L154.83,200.60 L154.85,201.00 L154.86,201.40 L154.88,201.80 L154.90,202.20 L154.92,202.60 L154.94,203.00 L154.95,203.40 L154.97,203.80 L154.98,204.20 L154.99,204.60 L155.00,205.00 L155.01,205.40 L155.02,205.80 L155.03,206.20 L155.04,206.60 L155.04,207.00 L155.05,207.40 L155.06,207.80 L155.07,208.20 L155.07,208.60 L155.08,209.00 L155.08,209.40 L155.09,209.80 L155.09,210.20 L155.10,210.60 L155.10,210.80 L153.10,210.80 L153.10,210.60 L153.11,210.20 L153.11,209.80 L153.12,209.40 L153.12,209.00 L153.13,208.60 L153.13,208.20 L153.14,207.80 L153.15,207.40 L153.16,207.00 L153.16,206.60 L153.17,206.20 L153.18,205.80 L153.19,205.40 L153.20,205.00 L153.21,204.60 L153.22,204.20 L153.23,203.80 L153.25,203.40 L153.26,203.00 L153.28,202.60 L153.30,202.20 L153.32,201.80 L153.34,201.40 L153.35,201.00 L153.37,200.60 L153.39,200.20 L153.41,199.80 L153.43,199.40 L153.45,199.00 L153.47,198.60 L153.49,198.20 L153.51,197.80 L153.52,197.40 L153.54,197.00 L153.55,196.60 L153.57,196.20 L153.58,195.80 L153.59,195.40 L153.60,195.00 L153.61,194.60 L153.62,194.20 L153.62,193.80 L153.63,193.40 L153.64,193.00 L153.65,192.60 L153.66,192.20 L153.66,191.80 L153.67,191.40 L153.68,191.00 L153.69,190.60 L153.69,190.20 L153.70,189.80 L153.71,189.40 L153.72,189.00 L153.72,188.60 L153.73,188.20 L153.73,187.80 L153.74,187.40 L153.75,187.00 L153.75,186.60 L153.76,186.20 L153.76,185.80 L153.77,185.40 L153.77,185.00 L153.78,184.60 L153.78,184.20 L153.78,183.80 L153.79,183.40 L153.79,183.00 L153.79,182.60 L153.79,182.20 L153.80,181.80 L153.80,181.40 L153.80,181.00 L153.80,180.60 L153.80,180.20 L153.80,179.80 L153.80,179.40 L153.80,179.00 L153.80,178.60 L153.80,178.20 L153.80,177.80 L153.80,177.40 L153.80,177.00 L153.80,176.60 L153.80,176.20 L153.80,175.80 L153.80,175.40 L153.80,175.00 L153.80,174.60 L153.80,174.20 L153.80,173.80 L153.80,173.40 L153.80,173.00 L153.80,172.60 L153.80,172.20 L153.80,171.80 L153.80,171.40 L153.80,171.00 L153.80,170.60 L153.80,170.20 L153.80,169.80 L153.80,169.40 L153.80,169.00 L153.79,168.60 L153.79,168.20 L153.78,167.80 L153.77,167.40 L153.76,167.00 L153.75,166.60 L153.74,166.20 L153.73,165.80 L153.72,165.40 L153.71,165.00 L153.69,164.60 L153.68,164.20 L153.67,163.80 L153.65,163.40 L153.64,163.00 L153.62,162.60 L153.61,162.20 L153.59,161.80 L153.58,161.40 L153.56,161.00 L153.53,160.60 L153.51,160.20 L153.49,159.80 L153.46,159.40 L153.43,159.00 L153.40,158.60 L153.37,158.20 L153.33,157.80 L153.29,157.40 L153.24,157.00 L153.19,156.60 L153.13,156.20 L153.08,155.80 L153.03,155.40 L152.97,155.00 L152.93,154.60 L152.88,154.20 L152.84,153.80 L152.79,153.40 L152.75,153.00 L152.70,152.60 L152.66,152.20 L152.61,151.80 L152.57,151.40 L152.52,151.00 L152.47,150.60 L152.42,150.20 L152.38,149.80 L152.32,149.40 L152.27,149.00 L152.22,148.60 L152.17,148.20 L152.12,147.80 L152.06,147.40 L152.01,147.00 L151.95,146.60 L151.90,146.20 L151.84,145.80 L151.78,145.40 L151.72,145.00 L151.67,144.60 L151.61,144.20 L151.55,143.80 L151.49,143.40 L151.43,143.00 L151.36,142.60 L151.30,142.20 L151.24,141.80 L151.18,141.40 L151.11,141.00 L151.05,140.60 L150.98,140.20 L150.92,139.80 L150.85,139.40 L150.78,139.00 L150.72,138.60 L150.65,138.20 L150.58,137.80 L150.51,137.40 L150.44,137.00 L150.37,136.60 L150.30,136.20 L150.24,135.80 L150.17,135.40 L150.10,135.00 L150.03,134.60 L149.97,134.20 L149.90,133.80 L149.83,133.40 L149.77,133.00 L149.70,132.60 L149.63,132.20 L149.57,131.80 L149.50,131.40 L149.44,131.00 L149.37,130.60 L149.30,130.20 L149.24,129.80 L149.17,129.40 L149.10,129.00 L149.03,128.60 L148.96,128.20 L148.89,127.80 L148.82,127.40 L148.74,127.00 L148.67,126.60 L148.60,126.20 L148.53,125.80 L148.46,125.40 L148.39,125.00 L148.32,124.60 L148.26,124.20 L148.19,123.80 L148.12,123.40 L148.05,123.00 L147.97,122.60 L147.90,122.20 L147.83,121.80 L147.78,121.40 L147.73,121.00 L147.71,120.60 L147.70,120.20 L147.70,119.80 L147.71,119.40 L147.71,119.00 L147.72,118.60 L147.73,118.20 L147.74,117.80 L147.75,117.40 L147.76,117.00 L147.78,116.60 L147.79,116.20 L147.81,115.80 L147.83,115.40 L147.85,115.00 L147.88,114.60 L147.91,114.20 L147.94,113.80 L147.98,113.40 L148.02,113.00 L148.06,112.60 L148.11,112.20 L148.16,111.80 L148.21,111.40 L148.26,111.00 L148.32,110.60 L148.37,110.20 L148.43,109.80 L148.50,109.40 L148.58,109.00 L148.67,108.60 L148.77,108.20 L148.87,107.80 L148.98,107.40 L149.09,107.00 L149.20,106.60 L149.31,106.20 L149.41,105.80 L149.51,105.40 L149.60,105.00 L149.68,104.60 L149.77,104.20 L149.84,103.80 L149.92,103.40 L149.99,103.00 L150.07,102.60 L150.14,102.20 L150.22,101.80 L150.29,101.40 L150.38,101.00 L150.46,100.60 L150.55,100.20 L150.65,99.80 L150.76,99.40 L150.88,99.00 L151.01,98.60 L151.15,98.20 L151.28,97.80 L151.41,97.40 L151.54,97.00 L151.65,96.60 L151.75,96.20 L151.84,95.80 L151.92,95.40 L152.00,95.00 L152.07,94.60 L152.13,94.20 L152.20,93.80 L152.26,93.40 L152.32,93.00 L152.38,92.60 L152.45,92.20 L152.50,91.80 L152.56,91.40 L152.62,91.00 L152.67,90.60 L152.73,90.20 L152.78,89.80 L152.84,89.40 L152.90,89.00 L152.97,88.60 L153.04,88.20 L153.11,87.80 L153.18,87.40 L153.26,87.00 L153.32,86.60 L153.38,86.20 L153.42,85.80 L153.47,85.40 L153.51,85.00 L153.55,84.60 L153.59,84.20 L153.62,83.80 L153.64,83.40 L153.65,83.00 L153.65,82.60 L153.66,82.20 L153.66,81.80 L153.66,81.40 L153.67,81.00 L153.67,80.60 L153.67,80.20 L153.67,79.80 L153.68,79.40 L153.68,79.00 L153.68,78.60 L153.68,78.20 L153.68,77.80 L153.69,77.40 L153.69,77.00 L153.69,76.60 L153.69,76.20 L153.69,75.80 L153.69,75.40 L153.69,75.00 L153.70,74.60 L153.70,74.20 L153.70,73.80 L153.70,73.40 L153.70,73.00 L153.70,72.60 L153.70,72.20 L153.70,71.80 L153.70,71.40 L153.70,71.00 L153.70,70.60 L153.70,70.20 L153.70,69.80 L153.70,69.40 L153.70,69.00 L153.70,68.60 L153.70,68.20 L153.70,67.80 L153.70,67.40 L153.70,67.00 L153.69,66.60 L153.69,66.20 L153.69,65.80 L153.69,65.40 L153.69,65.00 L153.69,64.60 L153.69,64.20 L153.68,63.80 L153.68,63.40 L153.68,63.00 L153.68,62.60 L153.67,62.20 L153.67,61.80 L153.67,61.40 L153.67,61.00 L153.66,60.60 L153.66,60.20 L153.66,59.80 L153.65,59.40 L153.65,59.00 L153.65,58.60 L153.64,58.20 L153.64,57.80 L153.64,57.40 L153.63,57.00 L153.63,56.60 L153.62,56.20 L153.62,55.80 L153.62,55.40 L153.61,55.00 L153.61,54.60 L153.60,54.20 L153.60,53.80 L153.59,53.40 L153.59,53.00 L153.58,52.60 L153.58,52.20 L153.57,51.80 L153.57,51.40 L153.56,51.00 L153.56,50.60 L153.55,50.20 L153.55,49.80 L153.54,49.40 L153.53,49.00 L153.53,48.60 L153.52,48.20 L153.51,47.80 L153.50,47.40 L153.48,47.00 L153.47,46.60 L153.46,46.20 L153.44,45.80 L153.43,45.40 L153.42,45.00 L153.40,44.60 L153.38,44.20 L153.37,43.80 L153.35,43.40 L153.33,43.00 L153.32,42.60 L153.30,42.20 L153.28,41.80 L153.26,41.40 L153.25,41.00 L153.23,40.60 L153.21,40.20 L153.19,39.80 L153.17,39.40 L153.15,39.00 L153.13,38.60 L153.11,38.20 L153.08,37.80 L153.06,37.40 L153.03,37.00 L153.01,36.60 L152.98,36.20 L152.95,35.80 L152.93,35.40 L152.90,35.00Z" fill="#F97C70"/>
<path d="M176.00,91.25 L176.00,91.65 L176.00,92.05 L176.00,92.45 L176.00,92.85 L176.00,93.25 L176.01,93.65 L176.01,94.05 L176.01,94.45 L176.01,94.85 L176.01,95.25 L176.02,95.65 L176.02,96.05 L176.02,96.45 L176.02,96.85 L176.03,97.25 L176.03,97.65 L176.03,98.05 L176.04,98.45 L176.04,98.85 L176.04,99.25 L176.05,99.65 L176.05,100.05 L176.05,100.45 L176.06,100.85 L176.06,101.25 L176.07,101.65 L176.07,102.05 L176.08,102.45 L176.08,102.85 L176.09,103.25 L176.10,103.65 L176.10,104.05 L176.11,104.45 L176.12,104.85 L176.13,105.25 L176.14,105.65 L176.14,106.05 L176.16,106.45 L176.17,106.85 L176.18,107.25 L176.19,107.65 L176.20,108.05 L176.22,108.45 L176.24,108.85 L176.26,109.25 L176.29,109.65 L176.32,110.05 L176.35,110.45 L176.39,110.85 L176.42,111.25 L176.46,111.65 L176.51,112.05 L176.55,112.45 L176.60,112.85 L176.66,113.25 L176.73,113.65 L176.80,114.05 L176.88,114.45 L176.97,114.85 L177.06,115.25 L177.19,115.65 L177.34,116.05 L177.51,116.45 L177.68,116.85 L177.86,117.25 L178.02,117.65 L178.17,118.05 L178.30,118.45 L178.43,118.85 L178.56,119.25 L178.68,119.65 L178.81,120.05 L178.93,120.45 L179.05,120.85 L179.18,121.25 L179.31,121.65 L179.46,122.05 L179.63,122.45 L179.83,122.85 L180.01,123.25 L180.14,123.65 L180.20,124.05 L180.23,124.45 L180.26,124.85 L180.28,125.25 L180.30,125.65 L180.32,126.05 L180.33,126.45 L180.35,126.85 L180.36,127.25 L180.37,127.65 L180.38,128.05 L180.39,128.45 L180.39,128.85 L180.40,129.25 L180.40,129.65 L180.40,130.05 L180.40,130.45 L180.39,130.85 L180.37,131.25 L180.36,131.65 L180.34,132.05 L180.32,132.45 L180.29,132.85 L180.26,133.25 L180.24,133.65 L180.21,134.05 L180.18,134.45 L180.16,134.85 L180.13,135.25 L180.10,135.65 L180.07,136.05 L180.03,136.45 L179.99,136.85 L179.95,137.25 L179.91,137.65 L179.87,138.05 L179.84,138.45 L179.81,138.85 L179.79,139.25 L179.78,139.65 L179.78,140.05 L179.78,140.45 L179.79,140.85 L179.81,141.25 L179.83,141.65 L179.85,142.05 L179.88,142.45 L179.91,142.85 L179.95,143.25 L179.99,143.65 L180.03,144.05 L180.06,144.45 L180.11,144.85 L180.15,145.25 L180.19,145.65 L180.25,146.05 L180.33,146.45 L180.41,146.85 L180.50,147.25 L180.58,147.65 L180.67,148.05 L180.74,148.45 L180.81,148.85 L180.86,149.25 L180.89,149.65 L180.90,150.05 L180.89,150.45 L180.88,150.85 L180.85,151.25 L180.82,151.65 L180.78,152.05 L180.73,152.45 L180.68,152.85 L180.62,153.25 L180.56,153.65 L180.50,154.05 L180.43,154.45 L180.36,154.85 L180.28,155.25 L180.21,155.65 L180.14,156.05 L180.06,156.45 L179.96,156.85 L179.85,157.25 L179.73,157.65 L179.61,158.05 L179.48,158.45 L179.35,158.85 L179.22,159.25 L179.10,159.65 L178.99,160.05 L178.88,160.45 L178.77,160.85 L178.66,161.25 L178.56,161.65 L178.45,162.05 L178.35,162.45 L178.24,162.85 L178.14,163.25 L178.04,163.65 L177.94,164.05 L177.84,164.45 L177.74,164.85 L177.64,165.25 L177.54,165.65 L177.43,166.05 L177.33,166.45 L177.23,166.85 L177.13,167.25 L177.03,167.65 L176.93,168.05 L176.83,168.45 L176.74,168.85 L176.65,169.25 L176.57,169.65 L176.49,170.05 L176.41,170.45 L176.33,170.85 L176.25,171.25 L176.18,171.65 L176.10,172.05 L176.03,172.45 L175.96,172.85 L175.90,173.25 L175.84,173.65 L175.79,174.05 L175.74,174.45 L175.71,174.85 L175.68,175.25 L175.66,175.65 L175.64,176.05 L175.62,176.45 L175.60,176.85 L175.58,177.25 L175.56,177.65 L175.55,178.05 L175.54,178.45 L175.53,178.85 L175.52,179.25 L175.51,179.65 L175.50,180.05 L175.49,180.45 L175.49,180.85 L175.48,181.25 L175.47,181.65 L175.47,182.05 L175.46,182.45 L175.46,182.85 L175.45,183.25 L175.44,183.65 L175.44,184.05 L175.43,184.45 L175.43,184.85 L175.43,185.25 L175.42,185.65 L175.42,186.05 L175.41,186.45 L175.41,186.85 L175.41,187.25 L175.41,187.65 L175.40,188.05 L175.40,188.45 L175.40,188.85 L175.40,189.25 L175.40,189.65 L175.40,190.05 L175.40,190.45 L175.41,190.85 L175.41,191.25 L175.42,191.65 L175.43,192.05 L175.44,192.45 L175.45,192.85 L175.47,193.25 L175.48,193.65 L175.50,194.05 L175.52,194.45 L175.54,194.85 L175.56,195.25 L175.58,195.65 L175.60,196.05 L175.62,196.45 L175.64,196.85 L175.66,197.25 L175.68,197.65 L175.70,198.05 L175.72,198.45 L175.74,198.85 L175.76,199.25 L175.78,199.65 L175.80,200.05 L175.82,200.45 L175.85,200.85 L175.87,201.25 L175.90,201.65 L175.92,202.05 L175.95,202.45 L175.97,202.85 L176.00,203.25 L176.02,203.65 L176.03,204.05 L176.04,204.45 L176.05,204.85 L176.05,205.25 L176.05,205.65 L176.05,206.05 L176.05,206.45 L176.04,206.85 L176.04,207.25 L176.03,207.65 L176.03,208.05 L176.02,208.45 L176.00,208.85 L176.00,208.90 L173.80,208.90 L173.80,208.85 L173.78,208.45 L173.77,208.05 L173.77,207.65 L173.76,207.25 L173.76,206.85 L173.75,206.45 L173.75,206.05 L173.75,205.65 L173.75,205.25 L173.75,204.85 L173.76,204.45 L173.77,204.05 L173.78,203.65 L173.80,203.25 L173.83,202.85 L173.85,202.45 L173.88,202.05 L173.90,201.65 L173.93,201.25 L173.95,200.85 L173.98,200.45 L174.00,200.05 L174.02,199.65 L174.04,199.25 L174.06,198.85 L174.08,198.45 L174.10,198.05 L174.12,197.65 L174.14,197.25 L174.16,196.85 L174.18,196.45 L174.20,196.05 L174.22,195.65 L174.24,195.25 L174.26,194.85 L174.28,194.45 L174.30,194.05 L174.32,193.65 L174.33,193.25 L174.35,192.85 L174.36,192.45 L174.37,192.05 L174.38,191.65 L174.39,191.25 L174.39,190.85 L174.40,190.45 L174.40,190.05 L174.40,189.65 L174.40,189.25 L174.40,188.85 L174.40,188.45 L174.40,188.05 L174.39,187.65 L174.39,187.25 L174.39,186.85 L174.39,186.45 L174.38,186.05 L174.38,185.65 L174.37,185.25 L174.37,184.85 L174.37,184.45 L174.36,184.05 L174.36,183.65 L174.35,183.25 L174.34,182.85 L174.34,182.45 L174.33,182.05 L174.33,181.65 L174.32,181.25 L174.31,180.85 L174.31,180.45 L174.30,180.05 L174.29,179.65 L174.28,179.25 L174.27,178.85 L174.26,178.45 L174.25,178.05 L174.24,177.65 L174.22,177.25 L174.20,176.85 L174.18,176.45 L174.16,176.05 L174.14,175.65 L174.12,175.25 L174.09,174.85 L174.06,174.45 L174.01,174.05 L173.96,173.65 L173.90,173.25 L173.84,172.85 L173.77,172.45 L173.70,172.05 L173.62,171.65 L173.55,171.25 L173.47,170.85 L173.39,170.45 L173.31,170.05 L173.23,169.65 L173.15,169.25 L173.06,168.85 L172.97,168.45 L172.87,168.05 L172.77,167.65 L172.67,167.25 L172.57,166.85 L172.47,166.45 L172.37,166.05 L172.26,165.65 L172.16,165.25 L172.06,164.85 L171.96,164.45 L171.86,164.05 L171.76,163.65 L171.66,163.25 L171.56,162.85 L171.45,162.45 L171.35,162.05 L171.24,161.65 L171.14,161.25 L171.03,160.85 L170.92,160.45 L170.81,160.05 L170.70,159.65 L170.58,159.25 L170.45,158.85 L170.32,158.45 L170.19,158.05 L170.07,157.65 L169.95,157.25 L169.84,156.85 L169.74,156.45 L169.66,156.05 L169.59,155.65 L169.52,155.25 L169.44,154.85 L169.37,154.45 L169.30,154.05 L169.24,153.65 L169.18,153.25 L169.12,152.85 L169.07,152.45 L169.02,152.05 L168.98,151.65 L168.95,151.25 L168.92,150.85 L168.91,150.45 L168.90,150.05 L168.91,149.65 L168.94,149.25 L168.99,148.85 L169.06,148.45 L169.13,148.05 L169.22,147.65 L169.30,147.25 L169.39,146.85 L169.47,146.45 L169.55,146.05 L169.61,145.65 L169.65,145.25 L169.69,144.85 L169.74,144.45 L169.77,144.05 L169.81,143.65 L169.85,143.25 L169.89,142.85 L169.92,142.45 L169.95,142.05 L169.97,141.65 L169.99,141.25 L170.01,140.85 L170.02,140.45 L170.02,140.05 L170.02,139.65 L170.01,139.25 L169.99,138.85 L169.96,138.45 L169.93,138.05 L169.89,137.65 L169.85,137.25 L169.81,136.85 L169.77,136.45 L169.73,136.05 L169.70,135.65 L169.67,135.25 L169.64,134.85 L169.62,134.45 L169.59,134.05 L169.56,133.65 L169.54,133.25 L169.51,132.85 L169.48,132.45 L169.46,132.05 L169.44,131.65 L169.43,131.25 L169.41,130.85 L169.40,130.45 L169.40,130.05 L169.40,129.65 L169.40,129.25 L169.41,128.85 L169.41,128.45 L169.42,128.05 L169.43,127.65 L169.44,127.25 L169.45,126.85 L169.47,126.45 L169.48,126.05 L169.50,125.65 L169.52,125.25 L169.54,124.85 L169.57,124.45 L169.60,124.05 L169.66,123.65 L169.79,123.25 L169.97,122.85 L170.17,122.45 L170.34,122.05 L170.49,121.65 L170.62,121.25 L170.75,120.85 L170.87,120.45 L170.99,120.05 L171.12,119.65 L171.24,119.25 L171.37,118.85 L171.50,118.45 L171.63,118.05 L171.78,117.65 L171.94,117.25 L172.12,116.85 L172.29,116.45 L172.46,116.05 L172.61,115.65 L172.74,115.25 L172.83,114.85 L172.92,114.45 L173.00,114.05 L173.07,113.65 L173.14,113.25 L173.20,112.85 L173.25,112.45 L173.29,112.05 L173.34,111.65 L173.38,111.25 L173.41,110.85 L173.45,110.45 L173.48,110.05 L173.51,109.65 L173.54,109.25 L173.56,108.85 L173.58,108.45 L173.60,108.05 L173.61,107.65 L173.62,107.25 L173.63,106.85 L173.64,106.45 L173.66,106.05 L173.66,105.65 L173.67,105.25 L173.68,104.85 L173.69,104.45 L173.70,104.05 L173.70,103.65 L173.71,103.25 L173.72,102.85 L173.72,102.45 L173.73,102.05 L173.73,101.65 L173.74,101.25 L173.74,100.85 L173.75,100.45 L173.75,100.05 L173.75,99.65 L173.76,99.25 L173.76,98.85 L173.76,98.45 L173.77,98.05 L173.77,97.65 L173.77,97.25 L173.78,96.85 L173.78,96.45 L173.78,96.05 L173.78,95.65 L173.79,95.25 L173.79,94.85 L173.79,94.45 L173.79,94.05 L173.79,93.65 L173.80,93.25 L173.80,92.85 L173.80,92.45 L173.80,92.05 L173.80,91.65 L173.80,91.25Z" fill="#F97C70"/>
<path d="M197.15,86.90 L197.12,87.30 L197.08,87.70 L197.05,88.10 L197.02,88.50 L196.99,88.90 L196.96,89.30 L196.94,89.70 L196.91,90.10 L196.88,90.50 L196.86,90.90 L196.84,91.30 L196.82,91.70 L196.79,92.10 L196.77,92.50 L196.75,92.90 L196.73,93.30 L196.71,93.70 L196.69,94.10 L196.67,94.50 L196.65,94.90 L196.63,95.30 L196.62,95.70 L196.61,96.10 L196.60,96.50 L196.60,96.90 L196.60,97.30 L196.62,97.70 L196.66,98.10 L196.70,98.50 L196.76,98.90 L196.82,99.30 L196.88,99.70 L196.95,100.10 L197.02,100.50 L197.08,100.90 L197.15,101.30 L197.21,101.70 L197.28,102.10 L197.36,102.50 L197.44,102.90 L197.53,103.30 L197.62,103.70 L197.73,104.10 L197.85,104.50 L197.99,104.90 L198.15,105.30 L198.31,105.70 L198.49,106.10 L198.67,106.50 L198.86,106.90 L199.04,107.30 L199.22,107.70 L199.39,108.10 L199.57,108.50 L199.75,108.90 L199.94,109.30 L200.13,109.70 L200.32,110.10 L200.51,110.50 L200.68,110.90 L200.85,111.30 L201.00,111.70 L201.13,112.10 L201.26,112.50 L201.39,112.90 L201.51,113.30 L201.63,113.70 L201.75,114.10 L201.86,114.50 L201.97,114.90 L202.08,115.30 L202.17,115.70 L202.27,116.10 L202.35,116.50 L202.43,116.90 L202.50,117.30 L202.56,117.70 L202.61,118.10 L202.66,118.50 L202.71,118.90 L202.76,119.30 L202.81,119.70 L202.85,120.10 L202.89,120.50 L202.93,120.90 L202.97,121.30 L203.00,121.70 L203.03,122.10 L203.06,122.50 L203.08,122.90 L203.09,123.30 L203.10,123.70 L203.10,124.10 L203.09,124.50 L203.07,124.90 L203.04,125.30 L203.00,125.70 L202.96,126.10 L202.90,126.50 L202.84,126.90 L202.78,127.30 L202.71,127.70 L202.63,128.10 L202.55,128.50 L202.47,128.90 L202.39,129.30 L202.31,129.70 L202.23,130.10 L202.13,130.50 L202.02,130.90 L201.89,131.30 L201.75,131.70 L201.60,132.10 L201.44,132.50 L201.28,132.90 L201.11,133.30 L200.95,133.70 L200.78,134.10 L200.62,134.50 L200.47,134.90 L200.32,135.30 L200.19,135.70 L200.07,136.10 L199.95,136.50 L199.83,136.90 L199.70,137.30 L199.57,137.70 L199.44,138.10 L199.31,138.50 L199.19,138.90 L199.07,139.30 L198.95,139.70 L198.85,140.10 L198.75,140.50 L198.67,140.90 L198.60,141.30 L198.54,141.70 L198.50,142.10 L198.48,142.50 L198.48,142.90 L198.48,143.30 L198.49,143.70 L198.51,144.10 L198.53,144.50 L198.55,144.90 L198.58,145.30 L198.61,145.70 L198.64,146.10 L198.67,146.50 L198.69,146.90 L198.72,147.30 L198.76,147.70 L198.80,148.10 L198.85,148.50 L198.90,148.90 L198.94,149.30 L198.99,149.70 L199.03,150.10 L199.06,150.50 L199.09,150.90 L199.10,151.30 L199.10,151.70 L199.09,152.10 L199.06,152.50 L199.03,152.90 L198.99,153.30 L198.95,153.70 L198.90,154.10 L198.86,154.50 L198.82,154.90 L198.78,155.30 L198.74,155.70 L198.72,156.10 L198.70,156.50 L198.68,156.90 L198.67,157.30 L198.65,157.70 L198.64,158.10 L198.63,158.50 L198.62,158.90 L198.61,159.30 L198.60,159.70 L198.58,160.10 L198.56,160.50 L198.55,160.90 L198.52,161.30 L198.50,161.70 L198.47,162.10 L198.43,162.50 L198.37,162.90 L198.28,163.30 L198.17,163.70 L198.03,164.10 L197.83,164.50 L197.21,164.90 L196.60,165.20 L194.60,165.20 L193.99,164.90 L193.37,164.50 L193.17,164.10 L193.03,163.70 L192.92,163.30 L192.83,162.90 L192.77,162.50 L192.73,162.10 L192.70,161.70 L192.68,161.30 L192.65,160.90 L192.64,160.50 L192.62,160.10 L192.60,159.70 L192.59,159.30 L192.58,158.90 L192.57,158.50 L192.56,158.10 L192.55,157.70 L192.53,157.30 L192.52,156.90 L192.50,156.50 L192.48,156.10 L192.46,155.70 L192.42,155.30 L192.38,154.90 L192.34,154.50 L192.30,154.10 L192.25,153.70 L192.21,153.30 L192.17,152.90 L192.14,152.50 L192.11,152.10 L192.10,151.70 L192.10,151.30 L192.11,150.90 L192.14,150.50 L192.17,150.10 L192.21,149.70 L192.26,149.30 L192.30,148.90 L192.35,148.50 L192.40,148.10 L192.44,147.70 L192.48,147.30 L192.51,146.90 L192.53,146.50 L192.56,146.10 L192.59,145.70 L192.62,145.30 L192.65,144.90 L192.67,144.50 L192.69,144.10 L192.71,143.70 L192.72,143.30 L192.72,142.90 L192.72,142.50 L192.70,142.10 L192.66,141.70 L192.60,141.30 L192.53,140.90 L192.45,140.50 L192.35,140.10 L192.25,139.70 L192.13,139.30 L192.01,138.90 L191.89,138.50 L191.76,138.10 L191.63,137.70 L191.50,137.30 L191.37,136.90 L191.25,136.50 L191.13,136.10 L191.01,135.70 L190.88,135.30 L190.73,134.90 L190.58,134.50 L190.42,134.10 L190.25,133.70 L190.09,133.30 L189.92,132.90 L189.76,132.50 L189.60,132.10 L189.45,131.70 L189.31,131.30 L189.18,130.90 L189.07,130.50 L188.97,130.10 L188.89,129.70 L188.81,129.30 L188.73,128.90 L188.65,128.50 L188.57,128.10 L188.49,127.70 L188.42,127.30 L188.36,126.90 L188.30,126.50 L188.24,126.10 L188.20,125.70 L188.16,125.30 L188.13,124.90 L188.11,124.50 L188.10,124.10 L188.10,123.70 L188.11,123.30 L188.12,122.90 L188.14,122.50 L188.17,122.10 L188.20,121.70 L188.23,121.30 L188.27,120.90 L188.31,120.50 L188.35,120.10 L188.39,119.70 L188.44,119.30 L188.49,118.90 L188.54,118.50 L188.59,118.10 L188.64,117.70 L188.70,117.30 L188.77,116.90 L188.85,116.50 L188.93,116.10 L189.03,115.70 L189.12,115.30 L189.23,114.90 L189.34,114.50 L189.45,114.10 L189.57,113.70 L189.69,113.30 L189.81,112.90 L189.94,112.50 L190.07,112.10 L190.20,111.70 L190.35,111.30 L190.52,110.90 L190.69,110.50 L190.88,110.10 L191.07,109.70 L191.26,109.30 L191.45,108.90 L191.63,108.50 L191.81,108.10 L191.98,107.70 L192.16,107.30 L192.34,106.90 L192.53,106.50 L192.71,106.10 L192.89,105.70 L193.05,105.30 L193.21,104.90 L193.35,104.50 L193.47,104.10 L193.58,103.70 L193.67,103.30 L193.76,102.90 L193.84,102.50 L193.92,102.10 L193.99,101.70 L194.05,101.30 L194.12,100.90 L194.18,100.50 L194.25,100.10 L194.32,99.70 L194.38,99.30 L194.44,98.90 L194.50,98.50 L194.54,98.10 L194.58,97.70 L194.60,97.30 L194.60,96.90 L194.60,96.50 L194.59,96.10 L194.58,95.70 L194.57,95.30 L194.55,94.90 L194.53,94.50 L194.51,94.10 L194.49,93.70 L194.47,93.30 L194.45,92.90 L194.43,92.50 L194.41,92.10 L194.38,91.70 L194.36,91.30 L194.34,90.90 L194.32,90.50 L194.29,90.10 L194.26,89.70 L194.24,89.30 L194.21,88.90 L194.18,88.50 L194.15,88.10 L194.12,87.70 L194.08,87.30 L194.05,86.90Z" fill="#F97C70"/>
<line x1="214.15" y1="135.45" x2="233.35" y2="135.45" stroke="#6394EA" stroke-width="0.7"/>
<path d="M245.85,70.30 L245.84,70.70 L245.83,71.10 L245.82,71.50 L245.81,71.90 L245.80,72.30 L245.79,72.70 L245.78,73.10 L245.76,73.50 L245.75,73.90 L245.74,74.30 L245.73,74.70 L245.72,75.10 L245.71,75.50 L245.70,75.90 L245.69,76.30 L245.68,76.70 L245.67,77.10 L245.65,77.50 L245.64,77.90 L245.63,78.30 L245.62,78.70 L245.60,79.10 L245.59,79.50 L245.58,79.90 L245.57,80.30 L245.56,80.70 L245.56,81.10 L245.55,81.50 L245.55,81.90 L245.55,82.30 L245.55,82.70 L245.55,83.10 L245.55,83.50 L245.55,83.90 L245.56,84.30 L245.56,84.70 L245.56,85.10 L245.57,85.50 L245.57,85.90 L245.58,86.30 L245.58,86.70 L245.59,87.10 L245.59,87.50 L245.60,87.90 L245.61,88.30 L245.64,88.70 L245.69,89.10 L245.75,89.50 L245.83,89.90 L245.91,90.30 L245.99,90.70 L246.07,91.10 L246.16,91.50 L246.23,91.90 L246.30,92.30 L246.38,92.70 L246.45,93.10 L246.53,93.50 L246.61,93.90 L246.68,94.30 L246.76,94.70 L246.84,95.10 L246.91,95.50 L246.98,95.90 L247.05,96.30 L247.13,96.70 L247.21,97.10 L247.28,97.50 L247.36,97.90 L247.43,98.30 L247.50,98.70 L247.56,99.10 L247.61,99.50 L247.64,99.90 L247.67,100.30 L247.69,100.70 L247.72,101.10 L247.74,101.50 L247.75,101.90 L247.77,102.30 L247.79,102.70 L247.80,103.10 L247.81,103.50 L247.82,103.90 L247.83,104.30 L247.84,104.70 L247.85,105.10 L247.86,105.50 L247.86,105.90 L247.87,106.30 L247.88,106.70 L247.88,107.10 L247.89,107.50 L247.90,107.90 L247.91,108.30 L247.91,108.70 L247.92,109.10 L247.93,109.50 L247.94,109.90 L247.95,110.30 L247.96,110.70 L247.97,111.10 L247.98,111.50 L248.00,111.90 L248.02,112.30 L248.05,112.70 L248.10,113.10 L248.16,113.50 L248.22,113.90 L248.30,114.30 L248.38,114.70 L248.46,115.10 L248.54,115.50 L248.63,115.90 L248.71,116.30 L248.81,116.70 L248.91,117.10 L249.01,117.50 L249.13,117.90 L249.25,118.30 L249.37,118.70 L249.50,119.10 L249.63,119.50 L249.77,119.90 L249.91,120.30 L250.06,120.70 L250.23,121.10 L250.41,121.50 L250.59,121.90 L250.78,122.30 L250.96,122.70 L251.14,123.10 L251.30,123.50 L251.46,123.90 L251.61,124.30 L251.77,124.70 L251.93,125.10 L252.10,125.50 L252.25,125.90 L252.40,126.30 L252.53,126.70 L252.64,127.10 L252.73,127.50 L252.79,127.90 L252.83,128.30 L252.86,128.70 L252.89,129.10 L252.91,129.50 L252.94,129.90 L252.96,130.30 L252.98,130.70 L252.99,131.10 L253.00,131.50 L253.00,131.90 L253.00,132.30 L252.98,132.70 L252.96,133.10 L252.92,133.50 L252.88,133.90 L252.83,134.30 L252.77,134.70 L252.71,135.10 L252.64,135.50 L252.57,135.90 L252.47,136.30 L252.32,136.70 L252.12,137.10 L251.87,137.50 L251.60,137.90 L251.31,138.30 L251.02,138.70 L250.73,139.10 L250.45,139.50 L250.21,139.90 L249.98,140.30 L249.76,140.70 L249.54,141.10 L249.31,141.50 L249.10,141.90 L248.88,142.30 L248.68,142.70 L248.49,143.10 L248.31,143.50 L248.14,143.90 L247.99,144.30 L247.84,144.70 L247.71,145.10 L247.58,145.50 L247.46,145.90 L247.35,146.30 L247.23,146.70 L247.12,147.10 L247.00,147.50 L246.88,147.90 L246.75,148.30 L246.60,148.70 L246.45,149.10 L246.33,149.50 L246.26,149.90 L246.23,150.30 L246.21,150.70 L246.19,151.10 L246.18,151.50 L246.16,151.90 L246.15,152.30 L246.14,152.70 L246.13,153.10 L246.12,153.50 L246.12,153.90 L246.11,154.30 L246.10,154.70 L246.10,155.10 L246.09,155.50 L246.09,155.90 L246.08,156.30 L246.08,156.70 L246.08,157.10 L246.07,157.50 L246.07,157.90 L246.07,158.30 L246.06,158.70 L246.06,159.10 L246.05,159.50 L246.05,159.90 L246.05,160.30 L246.04,160.70 L246.04,161.10 L246.04,161.50 L246.03,161.90 L246.03,162.30 L246.03,162.70 L246.02,163.10 L246.02,163.50 L246.02,163.90 L246.01,164.30 L246.01,164.70 L246.01,165.10 L246.00,165.50 L246.00,165.90 L245.99,166.30 L245.99,166.70 L245.99,167.10 L245.98,167.50 L245.98,167.90 L245.97,168.30 L245.97,168.70 L245.96,169.10 L245.96,169.50 L245.95,169.90 L245.95,170.30 L245.94,170.70 L245.93,171.10 L245.92,171.50 L245.91,171.90 L245.90,172.30 L245.89,172.70 L245.88,173.10 L245.87,173.50 L245.85,173.90 L245.84,174.30 L245.83,174.70 L245.81,175.10 L245.80,175.50 L245.79,175.90 L245.77,176.30 L245.76,176.70 L245.75,176.90 L243.15,176.90 L243.14,176.70 L243.13,176.30 L243.11,175.90 L243.10,175.50 L243.09,175.10 L243.07,174.70 L243.06,174.30 L243.05,173.90 L243.03,173.50 L243.02,173.10 L243.01,172.70 L243.00,172.30 L242.99,171.90 L242.98,171.50 L242.97,171.10 L242.96,170.70 L242.95,170.30 L242.95,169.90 L242.94,169.50 L242.94,169.10 L242.93,168.70 L242.93,168.30 L242.92,167.90 L242.92,167.50 L242.91,167.10 L242.91,166.70 L242.91,166.30 L242.90,165.90 L242.90,165.50 L242.89,165.10 L242.89,164.70 L242.89,164.30 L242.88,163.90 L242.88,163.50 L242.88,163.10 L242.87,162.70 L242.87,162.30 L242.87,161.90 L242.86,161.50 L242.86,161.10 L242.86,160.70 L242.85,160.30 L242.85,159.90 L242.85,159.50 L242.84,159.10 L242.84,158.70 L242.83,158.30 L242.83,157.90 L242.83,157.50 L242.82,157.10 L242.82,156.70 L242.82,156.30 L242.81,155.90 L242.81,155.50 L242.80,155.10 L242.80,154.70 L242.79,154.30 L242.78,153.90 L242.78,153.50 L242.77,153.10 L242.76,152.70 L242.75,152.30 L242.74,151.90 L242.72,151.50 L242.71,151.10 L242.69,150.70 L242.67,150.30 L242.64,149.90 L242.57,149.50 L242.45,149.10 L242.30,148.70 L242.15,148.30 L242.02,147.90 L241.90,147.50 L241.78,147.10 L241.67,146.70 L241.55,146.30 L241.44,145.90 L241.32,145.50 L241.19,145.10 L241.06,144.70 L240.91,144.30 L240.76,143.90 L240.59,143.50 L240.41,143.10 L240.22,142.70 L240.02,142.30 L239.80,141.90 L239.59,141.50 L239.36,141.10 L239.14,140.70 L238.92,140.30 L238.69,139.90 L238.45,139.50 L238.17,139.10 L237.88,138.70 L237.59,138.30 L237.30,137.90 L237.03,137.50 L236.78,137.10 L236.58,136.70 L236.43,136.30 L236.33,135.90 L236.26,135.50 L236.19,135.10 L236.13,134.70 L236.07,134.30 L236.02,133.90 L235.98,133.50 L235.94,133.10 L235.92,132.70 L235.90,132.30 L235.90,131.90 L235.90,131.50 L235.91,131.10 L235.92,130.70 L235.94,130.30 L235.96,129.90 L235.99,129.50 L236.01,129.10 L236.04,128.70 L236.07,128.30 L236.11,127.90 L236.17,127.50 L236.26,127.10 L236.37,126.70 L236.50,126.30 L236.65,125.90 L236.80,125.50 L236.97,125.10 L237.13,124.70 L237.29,124.30 L237.44,123.90 L237.60,123.50 L237.76,123.10 L237.94,122.70 L238.12,122.30 L238.31,121.90 L238.49,121.50 L238.67,121.10 L238.84,120.70 L238.99,120.30 L239.13,119.90 L239.27,119.50 L239.40,119.10 L239.53,118.70 L239.65,118.30 L239.77,117.90 L239.89,117.50 L239.99,117.10 L240.09,116.70 L240.19,116.30 L240.27,115.90 L240.36,115.50 L240.44,115.10 L240.52,114.70 L240.60,114.30 L240.68,113.90 L240.74,113.50 L240.80,113.10 L240.85,112.70 L240.88,112.30 L240.90,111.90 L240.92,111.50 L240.93,111.10 L240.94,110.70 L240.95,110.30 L240.96,109.90 L240.97,109.50 L240.98,109.10 L240.99,108.70 L240.99,108.30 L241.00,107.90 L241.01,107.50 L241.02,107.10 L241.02,106.70 L241.03,106.30 L241.04,105.90 L241.04,105.50 L241.05,105.10 L241.06,104.70 L241.07,104.30 L241.08,103.90 L241.09,103.50 L241.10,103.10 L241.11,102.70 L241.13,102.30 L241.15,101.90 L241.16,101.50 L241.18,101.10 L241.21,100.70 L241.23,100.30 L241.26,99.90 L241.29,99.50 L241.34,99.10 L241.40,98.70 L241.47,98.30 L241.54,97.90 L241.62,97.50 L241.69,97.10 L241.77,96.70 L241.85,96.30 L241.92,95.90 L241.99,95.50 L242.06,95.10 L242.14,94.70 L242.22,94.30 L242.29,93.90 L242.37,93.50 L242.45,93.10 L242.52,92.70 L242.60,92.30 L242.67,91.90 L242.74,91.50 L242.83,91.10 L242.91,90.70 L242.99,90.30 L243.07,89.90 L243.15,89.50 L243.21,89.10 L243.26,88.70 L243.29,88.30 L243.30,87.90 L243.31,87.50 L243.31,87.10 L243.32,86.70 L243.32,86.30 L243.33,85.90 L243.33,85.50 L243.34,85.10 L243.34,84.70 L243.34,84.30 L243.35,83.90 L243.35,83.50 L243.35,83.10 L243.35,82.70 L243.35,82.30 L243.35,81.90 L243.35,81.50 L243.34,81.10 L243.34,80.70 L243.33,80.30 L243.32,79.90 L243.31,79.50 L243.30,79.10 L243.28,78.70 L243.27,78.30 L243.26,77.90 L243.25,77.50 L243.23,77.10 L243.22,76.70 L243.21,76.30 L243.20,75.90 L243.19,75.50 L243.18,75.10 L243.17,74.70 L243.16,74.30 L243.15,73.90 L243.14,73.50 L243.12,73.10 L243.11,72.70 L243.10,72.30 L243.09,71.90 L243.08,71.50 L243.07,71.10 L243.06,70.70 L243.05,70.30Z" fill="#6394EA"/>
<path d="M266.25,96.60 L266.25,97.00 L266.25,97.40 L266.25,97.80 L266.25,98.20 L266.25,98.60 L266.25,99.00 L266.25,99.40 L266.25,99.80 L266.25,100.20 L266.25,100.60 L266.25,101.00 L266.25,101.40 L266.25,101.80 L266.25,102.20 L266.25,102.60 L266.25,103.00 L266.25,103.40 L266.25,103.80 L266.25,104.20 L266.25,104.60 L266.25,105.00 L266.25,105.40 L266.25,105.80 L266.26,106.20 L266.26,106.60 L266.27,107.00 L266.27,107.40 L266.28,107.80 L266.29,108.20 L266.30,108.60 L266.31,109.00 L266.33,109.40 L266.34,109.80 L266.36,110.20 L266.37,110.60 L266.39,111.00 L266.41,111.40 L266.43,111.80 L266.45,112.20 L266.47,112.60 L266.49,113.00 L266.51,113.40 L266.54,113.80 L266.56,114.20 L266.60,114.60 L266.65,115.00 L266.71,115.40 L266.78,115.80 L266.86,116.20 L266.94,116.60 L267.03,117.00 L267.11,117.40 L267.20,117.80 L267.30,118.20 L267.40,118.60 L267.51,119.00 L267.62,119.40 L267.75,119.80 L267.88,120.20 L268.02,120.60 L268.16,121.00 L268.31,121.40 L268.46,121.80 L268.63,122.20 L268.82,122.60 L269.00,123.00 L269.19,123.40 L269.39,123.80 L269.58,124.20 L269.77,124.60 L269.95,125.00 L270.13,125.40 L270.33,125.80 L270.53,126.20 L270.74,126.60 L270.95,127.00 L271.16,127.40 L271.38,127.80 L271.59,128.20 L271.80,128.60 L272.01,129.00 L272.21,129.40 L272.40,129.80 L272.58,130.20 L272.75,130.60 L272.90,131.00 L273.04,131.40 L273.16,131.80 L273.26,132.20 L273.34,132.60 L273.40,133.00 L273.46,133.40 L273.52,133.80 L273.57,134.20 L273.62,134.60 L273.66,135.00 L273.71,135.40 L273.74,135.80 L273.78,136.20 L273.81,136.60 L273.83,137.00 L273.84,137.40 L273.85,137.80 L273.85,138.20 L273.82,138.60 L273.78,139.00 L273.72,139.40 L273.64,139.80 L273.55,140.20 L273.45,140.60 L273.34,141.00 L273.22,141.40 L273.10,141.80 L272.98,142.20 L272.86,142.60 L272.75,143.00 L272.63,143.40 L272.50,143.80 L272.36,144.20 L272.22,144.60 L272.06,145.00 L271.90,145.40 L271.73,145.80 L271.56,146.20 L271.38,146.60 L271.20,147.00 L271.03,147.40 L270.85,147.80 L270.68,148.20 L270.51,148.60 L270.34,149.00 L270.18,149.40 L270.03,149.80 L269.88,150.20 L269.75,150.60 L269.62,151.00 L269.50,151.40 L269.37,151.80 L269.25,152.20 L269.13,152.60 L269.01,153.00 L268.90,153.40 L268.79,153.80 L268.68,154.20 L268.57,154.60 L268.47,155.00 L268.37,155.40 L268.27,155.80 L268.18,156.20 L268.09,156.60 L268.00,157.00 L267.92,157.40 L267.84,157.80 L267.76,158.20 L267.69,158.60 L267.62,159.00 L267.55,159.40 L267.49,159.80 L267.42,160.20 L267.36,160.60 L267.29,161.00 L267.23,161.40 L267.16,161.80 L267.09,162.20 L267.02,162.60 L266.95,163.00 L266.86,163.40 L266.76,163.80 L266.66,164.20 L266.55,164.60 L266.46,165.00 L266.39,165.40 L266.36,165.80 L266.35,166.20 L266.37,166.60 L266.39,167.00 L266.43,167.40 L266.47,167.80 L266.52,168.20 L266.57,168.60 L266.62,169.00 L266.68,169.40 L266.73,169.80 L266.77,170.20 L266.83,170.60 L266.89,171.00 L266.95,171.40 L267.01,171.80 L267.08,172.20 L267.14,172.60 L267.21,173.00 L267.27,173.40 L267.32,173.80 L267.37,174.20 L267.42,174.60 L267.45,175.00 L267.48,175.40 L267.51,175.80 L267.54,176.20 L267.57,176.60 L267.59,177.00 L267.62,177.40 L267.64,177.80 L267.67,178.20 L267.69,178.60 L267.71,179.00 L267.72,179.40 L267.73,179.80 L267.74,180.20 L267.75,180.60 L267.75,181.00 L267.75,181.40 L267.74,181.80 L267.72,182.20 L267.70,182.60 L267.68,183.00 L267.65,183.40 L267.62,183.80 L267.59,184.20 L267.56,184.60 L267.53,185.00 L267.50,185.40 L267.47,185.80 L267.43,186.20 L267.40,186.60 L267.37,187.00 L267.33,187.40 L267.30,187.80 L267.26,188.20 L267.22,188.60 L267.18,189.00 L267.13,189.40 L267.09,189.80 L267.05,190.20 L267.00,190.60 L263.50,190.60 L263.45,190.20 L263.41,189.80 L263.37,189.40 L263.32,189.00 L263.28,188.60 L263.24,188.20 L263.20,187.80 L263.17,187.40 L263.13,187.00 L263.10,186.60 L263.07,186.20 L263.03,185.80 L263.00,185.40 L262.97,185.00 L262.94,184.60 L262.91,184.20 L262.88,183.80 L262.85,183.40 L262.82,183.00 L262.80,182.60 L262.78,182.20 L262.76,181.80 L262.75,181.40 L262.75,181.00 L262.75,180.60 L262.76,180.20 L262.77,179.80 L262.78,179.40 L262.79,179.00 L262.81,178.60 L262.83,178.20 L262.86,177.80 L262.88,177.40 L262.91,177.00 L262.93,176.60 L262.96,176.20 L262.99,175.80 L263.02,175.40 L263.05,175.00 L263.08,174.60 L263.13,174.20 L263.18,173.80 L263.23,173.40 L263.29,173.00 L263.36,172.60 L263.42,172.20 L263.49,171.80 L263.55,171.40 L263.61,171.00 L263.67,170.60 L263.73,170.20 L263.77,169.80 L263.82,169.40 L263.88,169.00 L263.93,168.60 L263.98,168.20 L264.03,167.80 L264.07,167.40 L264.11,167.00 L264.13,166.60 L264.15,166.20 L264.14,165.80 L264.11,165.40 L264.04,165.00 L263.95,164.60 L263.84,164.20 L263.74,163.80 L263.64,163.40 L263.55,163.00 L263.48,162.60 L263.41,162.20 L263.34,161.80 L263.27,161.40 L263.21,161.00 L263.14,160.60 L263.08,160.20 L263.01,159.80 L262.95,159.40 L262.88,159.00 L262.81,158.60 L262.74,158.20 L262.66,157.80 L262.58,157.40 L262.50,157.00 L262.41,156.60 L262.32,156.20 L262.23,155.80 L262.13,155.40 L262.03,155.00 L261.93,154.60 L261.82,154.20 L261.71,153.80 L261.60,153.40 L261.49,153.00 L261.37,152.60 L261.25,152.20 L261.13,151.80 L261.00,151.40 L260.88,151.00 L260.75,150.60 L260.62,150.20 L260.47,149.80 L260.32,149.40 L260.16,149.00 L259.99,148.60 L259.82,148.20 L259.65,147.80 L259.47,147.40 L259.30,147.00 L259.12,146.60 L258.94,146.20 L258.77,145.80 L258.60,145.40 L258.44,145.00 L258.28,144.60 L258.14,144.20 L258.00,143.80 L257.87,143.40 L257.75,143.00 L257.64,142.60 L257.52,142.20 L257.40,141.80 L257.28,141.40 L257.16,141.00 L257.05,140.60 L256.95,140.20 L256.86,139.80 L256.78,139.40 L256.72,139.00 L256.68,138.60 L256.65,138.20 L256.65,137.80 L256.66,137.40 L256.67,137.00 L256.69,136.60 L256.72,136.20 L256.76,135.80 L256.79,135.40 L256.84,135.00 L256.88,134.60 L256.93,134.20 L256.98,133.80 L257.04,133.40 L257.10,133.00 L257.16,132.60 L257.24,132.20 L257.34,131.80 L257.46,131.40 L257.60,131.00 L257.75,130.60 L257.92,130.20 L258.10,129.80 L258.29,129.40 L258.49,129.00 L258.70,128.60 L258.91,128.20 L259.12,127.80 L259.34,127.40 L259.55,127.00 L259.76,126.60 L259.97,126.20 L260.17,125.80 L260.37,125.40 L260.55,125.00 L260.73,124.60 L260.92,124.20 L261.11,123.80 L261.31,123.40 L261.50,123.00 L261.68,122.60 L261.87,122.20 L262.04,121.80 L262.19,121.40 L262.34,121.00 L262.48,120.60 L262.62,120.20 L262.75,119.80 L262.88,119.40 L262.99,119.00 L263.10,118.60 L263.20,118.20 L263.30,117.80 L263.39,117.40 L263.47,117.00 L263.56,116.60 L263.64,116.20 L263.72,115.80 L263.79,115.40 L263.85,115.00 L263.90,114.60 L263.94,114.20 L263.96,113.80 L263.99,113.40 L264.01,113.00 L264.03,112.60 L264.05,112.20 L264.07,111.80 L264.09,111.40 L264.11,111.00 L264.13,110.60 L264.14,110.20 L264.16,109.80 L264.17,109.40 L264.19,109.00 L264.20,108.60 L264.21,108.20 L264.22,107.80 L264.23,107.40 L264.23,107.00 L264.24,106.60 L264.24,106.20 L264.25,105.80 L264.25,105.40 L264.25,105.00 L264.25,104.60 L264.25,104.20 L264.25,103.80 L264.25,103.40 L264.25,103.00 L264.25,102.60 L264.25,102.20 L264.25,101.80 L264.25,101.40 L264.25,101.00 L264.25,100.60 L264.25,100.20 L264.25,99.80 L264.25,99.40 L264.25,99.00 L264.25,98.60 L264.25,98.20 L264.25,97.80 L264.25,97.40 L264.25,97.00 L264.25,96.60Z" fill="#6394EA"/>
<path d="M289.20,113.30 L289.21,113.70 L289.23,114.10 L289.25,114.50 L289.27,114.90 L289.30,115.30 L289.33,115.70 L289.37,116.10 L289.40,116.50 L289.44,116.90 L289.48,117.30 L289.53,117.70 L289.59,118.10 L289.65,118.50 L289.72,118.90 L289.80,119.30 L289.88,119.70 L289.96,120.10 L290.04,120.50 L290.13,120.90 L290.21,121.30 L290.30,121.70 L290.40,122.10 L290.50,122.50 L290.61,122.90 L290.73,123.30 L290.84,123.70 L290.95,124.10 L291.07,124.50 L291.18,124.90 L291.28,125.30 L291.38,125.70 L291.47,126.10 L291.57,126.50 L291.67,126.90 L291.77,127.30 L291.87,127.70 L291.97,128.10 L292.07,128.50 L292.16,128.90 L292.24,129.30 L292.31,129.70 L292.37,130.10 L292.41,130.50 L292.44,130.90 L292.45,131.30 L292.45,131.70 L292.45,132.10 L292.45,132.50 L292.45,132.90 L292.45,133.30 L292.45,133.70 L292.45,134.10 L292.45,134.50 L292.45,134.90 L292.45,135.30 L292.45,135.70 L292.45,136.10 L292.44,136.50 L292.43,136.90 L292.40,137.30 L292.37,137.70 L292.34,138.10 L292.30,138.50 L292.25,138.90 L292.20,139.30 L292.15,139.70 L292.10,140.10 L292.05,140.50 L291.99,140.90 L291.94,141.30 L291.89,141.70 L291.83,142.10 L291.76,142.50 L291.69,142.90 L291.61,143.30 L291.53,143.70 L291.45,144.10 L291.36,144.50 L291.27,144.90 L291.18,145.30 L291.08,145.70 L290.99,146.10 L290.89,146.50 L290.80,146.90 L290.70,147.30 L290.61,147.70 L290.52,148.10 L290.42,148.50 L290.34,148.90 L290.25,149.30 L290.17,149.70 L290.09,150.10 L290.02,150.50 L289.95,150.90 L289.87,151.30 L289.80,151.70 L289.72,152.10 L289.64,152.50 L289.56,152.90 L289.48,153.30 L289.40,153.70 L289.32,154.10 L289.24,154.50 L289.17,154.90 L289.10,155.30 L289.03,155.70 L288.96,156.10 L288.90,156.50 L288.84,156.90 L288.78,157.30 L288.74,157.70 L288.70,158.10 L288.66,158.50 L288.63,158.90 L288.61,159.30 L288.60,159.70 L288.60,160.10 L288.60,160.50 L288.61,160.90 L288.61,161.30 L288.62,161.70 L288.63,162.10 L288.64,162.50 L288.66,162.90 L288.67,163.30 L288.69,163.70 L288.70,164.10 L288.72,164.50 L288.73,164.90 L288.75,165.30 L288.77,165.70 L288.78,166.10 L288.80,166.50 L288.81,166.90 L288.83,167.30 L288.84,167.70 L288.85,168.10 L288.86,168.50 L288.87,168.90 L288.89,169.30 L288.90,169.70 L288.91,170.10 L288.92,170.50 L288.93,170.90 L288.94,171.30 L288.95,171.70 L288.96,172.10 L288.97,172.50 L288.98,172.90 L288.99,173.30 L289.00,173.70 L289.01,174.10 L289.02,174.50 L289.03,174.90 L289.03,175.30 L289.04,175.70 L289.05,176.00 L282.85,176.00 L282.86,175.70 L282.87,175.30 L282.87,174.90 L282.88,174.50 L282.89,174.10 L282.90,173.70 L282.91,173.30 L282.92,172.90 L282.93,172.50 L282.94,172.10 L282.95,171.70 L282.96,171.30 L282.97,170.90 L282.98,170.50 L282.99,170.10 L283.00,169.70 L283.01,169.30 L283.03,168.90 L283.04,168.50 L283.05,168.10 L283.06,167.70 L283.07,167.30 L283.09,166.90 L283.10,166.50 L283.12,166.10 L283.13,165.70 L283.15,165.30 L283.17,164.90 L283.18,164.50 L283.20,164.10 L283.21,163.70 L283.23,163.30 L283.24,162.90 L283.26,162.50 L283.27,162.10 L283.28,161.70 L283.29,161.30 L283.29,160.90 L283.30,160.50 L283.30,160.10 L283.30,159.70 L283.29,159.30 L283.27,158.90 L283.24,158.50 L283.20,158.10 L283.16,157.70 L283.12,157.30 L283.06,156.90 L283.00,156.50 L282.94,156.10 L282.87,155.70 L282.80,155.30 L282.73,154.90 L282.66,154.50 L282.58,154.10 L282.50,153.70 L282.42,153.30 L282.34,152.90 L282.26,152.50 L282.18,152.10 L282.10,151.70 L282.03,151.30 L281.95,150.90 L281.88,150.50 L281.81,150.10 L281.73,149.70 L281.65,149.30 L281.56,148.90 L281.48,148.50 L281.38,148.10 L281.29,147.70 L281.20,147.30 L281.10,146.90 L281.01,146.50 L280.91,146.10 L280.82,145.70 L280.72,145.30 L280.63,144.90 L280.54,144.50 L280.45,144.10 L280.37,143.70 L280.29,143.30 L280.21,142.90 L280.14,142.50 L280.07,142.10 L280.01,141.70 L279.96,141.30 L279.91,140.90 L279.85,140.50 L279.80,140.10 L279.75,139.70 L279.70,139.30 L279.65,138.90 L279.60,138.50 L279.56,138.10 L279.53,137.70 L279.50,137.30 L279.47,136.90 L279.46,136.50 L279.45,136.10 L279.45,135.70 L279.45,135.30 L279.45,134.90 L279.45,134.50 L279.45,134.10 L279.45,133.70 L279.45,133.30 L279.45,132.90 L279.45,132.50 L279.45,132.10 L279.45,131.70 L279.45,131.30 L279.46,130.90 L279.49,130.50 L279.53,130.10 L279.59,129.70 L279.66,129.30 L279.74,128.90 L279.83,128.50 L279.93,128.10 L280.03,127.70 L280.13,127.30 L280.23,126.90 L280.33,126.50 L280.43,126.10 L280.52,125.70 L280.62,125.30 L280.72,124.90 L280.83,124.50 L280.95,124.10 L281.06,123.70 L281.17,123.30 L281.29,122.90 L281.40,122.50 L281.50,122.10 L281.60,121.70 L281.69,121.30 L281.77,120.90 L281.86,120.50 L281.94,120.10 L282.02,119.70 L282.10,119.30 L282.18,118.90 L282.25,118.50 L282.31,118.10 L282.37,117.70 L282.42,117.30 L282.46,116.90 L282.50,116.50 L282.53,116.10 L282.57,115.70 L282.60,115.30 L282.63,114.90 L282.65,114.50 L282.67,114.10 L282.69,113.70 L282.70,113.30Z" fill="#6394EA"/>
<line x1="348.90" y1="135.45" x2="368.30" y2="135.45" stroke="#4b4b4b" stroke-width="0.7"/>
<path d="M381.00,66.90 L380.97,67.30 L380.93,67.70 L380.90,68.10 L380.86,68.50 L380.83,68.90 L380.80,69.30 L380.77,69.70 L380.74,70.10 L380.70,70.50 L380.67,70.90 L380.64,71.30 L380.62,71.70 L380.59,72.10 L380.56,72.50 L380.53,72.90 L380.50,73.30 L380.48,73.70 L380.45,74.10 L380.43,74.50 L380.41,74.90 L380.38,75.30 L380.36,75.70 L380.34,76.10 L380.31,76.50 L380.29,76.90 L380.26,77.30 L380.24,77.70 L380.21,78.10 L380.19,78.50 L380.16,78.90 L380.14,79.30 L380.12,79.70 L380.09,80.10 L380.07,80.50 L380.05,80.90 L380.03,81.30 L380.01,81.70 L379.99,82.10 L379.98,82.50 L379.96,82.90 L379.95,83.30 L379.93,83.70 L379.92,84.10 L379.92,84.50 L379.91,84.90 L379.90,85.30 L379.90,85.70 L379.90,86.10 L379.90,86.50 L379.90,86.90 L379.91,87.30 L379.91,87.70 L379.91,88.10 L379.92,88.50 L379.93,88.90 L379.93,89.30 L379.94,89.70 L379.95,90.10 L379.96,90.50 L379.97,90.90 L379.98,91.30 L379.99,91.70 L380.00,92.10 L380.02,92.50 L380.04,92.90 L380.07,93.30 L380.10,93.70 L380.13,94.10 L380.15,94.50 L380.18,94.90 L380.20,95.30 L380.22,95.70 L380.23,96.10 L380.24,96.50 L380.25,96.90 L380.26,97.30 L380.28,97.70 L380.31,98.10 L380.36,98.50 L380.43,98.90 L380.52,99.30 L380.62,99.70 L380.73,100.10 L380.86,100.50 L381.01,100.90 L381.18,101.30 L381.38,101.70 L381.58,102.10 L381.79,102.50 L382.00,102.90 L382.21,103.30 L382.41,103.70 L382.60,104.10 L382.79,104.50 L382.98,104.90 L383.17,105.30 L383.37,105.70 L383.56,106.10 L383.75,106.50 L383.94,106.90 L384.12,107.30 L384.30,107.70 L384.47,108.10 L384.63,108.50 L384.79,108.90 L384.95,109.30 L385.10,109.70 L385.25,110.10 L385.40,110.50 L385.54,110.90 L385.68,111.30 L385.82,111.70 L385.96,112.10 L386.10,112.50 L386.23,112.90 L386.37,113.30 L386.50,113.70 L386.64,114.10 L386.76,114.50 L386.88,114.90 L387.00,115.30 L387.10,115.70 L387.20,116.10 L387.29,116.50 L387.39,116.90 L387.48,117.30 L387.57,117.70 L387.65,118.10 L387.73,118.50 L387.80,118.90 L387.86,119.30 L387.90,119.70 L387.93,120.10 L387.96,120.50 L387.98,120.90 L388.00,121.30 L388.03,121.70 L388.04,122.10 L388.06,122.50 L388.08,122.90 L388.09,123.30 L388.09,123.70 L388.10,124.10 L388.10,124.50 L388.09,124.90 L388.07,125.30 L388.04,125.70 L388.00,126.10 L387.95,126.50 L387.89,126.90 L387.83,127.30 L387.77,127.70 L387.71,128.10 L387.64,128.50 L387.58,128.90 L387.52,129.30 L387.46,129.70 L387.41,130.10 L387.36,130.50 L387.32,130.90 L387.27,131.30 L387.22,131.70 L387.18,132.10 L387.13,132.50 L387.08,132.90 L387.03,133.30 L386.98,133.70 L386.93,134.10 L386.87,134.50 L386.81,134.90 L386.75,135.30 L386.69,135.70 L386.62,136.10 L386.55,136.50 L386.48,136.90 L386.41,137.30 L386.33,137.70 L386.25,138.10 L386.17,138.50 L386.09,138.90 L386.00,139.30 L385.92,139.70 L385.83,140.10 L385.73,140.50 L385.64,140.90 L385.54,141.30 L385.43,141.70 L385.32,142.10 L385.21,142.50 L385.10,142.90 L384.99,143.30 L384.87,143.70 L384.76,144.10 L384.64,144.50 L384.52,144.90 L384.40,145.30 L384.29,145.70 L384.17,146.10 L384.06,146.50 L383.95,146.90 L383.84,147.30 L383.73,147.70 L383.61,148.10 L383.50,148.50 L383.38,148.90 L383.25,149.30 L383.11,149.70 L382.96,150.10 L382.79,150.50 L382.60,150.90 L376.00,150.90 L375.81,150.50 L375.64,150.10 L375.49,149.70 L375.35,149.30 L375.22,148.90 L375.10,148.50 L374.99,148.10 L374.87,147.70 L374.76,147.30 L374.65,146.90 L374.54,146.50 L374.43,146.10 L374.31,145.70 L374.20,145.30 L374.08,144.90 L373.96,144.50 L373.84,144.10 L373.73,143.70 L373.61,143.30 L373.50,142.90 L373.39,142.50 L373.28,142.10 L373.17,141.70 L373.06,141.30 L372.96,140.90 L372.87,140.50 L372.77,140.10 L372.68,139.70 L372.60,139.30 L372.51,138.90 L372.43,138.50 L372.35,138.10 L372.27,137.70 L372.19,137.30 L372.12,136.90 L372.05,136.50 L371.98,136.10 L371.91,135.70 L371.85,135.30 L371.79,134.90 L371.73,134.50 L371.67,134.10 L371.62,133.70 L371.57,133.30 L371.52,132.90 L371.47,132.50 L371.42,132.10 L371.38,131.70 L371.33,131.30 L371.28,130.90 L371.24,130.50 L371.19,130.10 L371.14,129.70 L371.08,129.30 L371.02,128.90 L370.96,128.50 L370.89,128.10 L370.83,127.70 L370.77,127.30 L370.71,126.90 L370.65,126.50 L370.60,126.10 L370.56,125.70 L370.53,125.30 L370.51,124.90 L370.50,124.50 L370.50,124.10 L370.51,123.70 L370.51,123.30 L370.52,122.90 L370.54,122.50 L370.56,122.10 L370.57,121.70 L370.60,121.30 L370.62,120.90 L370.64,120.50 L370.67,120.10 L370.70,119.70 L370.74,119.30 L370.80,118.90 L370.87,118.50 L370.95,118.10 L371.03,117.70 L371.12,117.30 L371.21,116.90 L371.31,116.50 L371.40,116.10 L371.50,115.70 L371.60,115.30 L371.72,114.90 L371.84,114.50 L371.96,114.10 L372.10,113.70 L372.23,113.30 L372.37,112.90 L372.50,112.50 L372.64,112.10 L372.78,111.70 L372.92,111.30 L373.06,110.90 L373.20,110.50 L373.35,110.10 L373.50,109.70 L373.65,109.30 L373.81,108.90 L373.97,108.50 L374.13,108.10 L374.30,107.70 L374.48,107.30 L374.66,106.90 L374.85,106.50 L375.04,106.10 L375.23,105.70 L375.43,105.30 L375.62,104.90 L375.81,104.50 L376.00,104.10 L376.19,103.70 L376.39,103.30 L376.60,102.90 L376.81,102.50 L377.02,102.10 L377.22,101.70 L377.42,101.30 L377.59,100.90 L377.74,100.50 L377.87,100.10 L377.98,99.70 L378.08,99.30 L378.17,98.90 L378.24,98.50 L378.29,98.10 L378.32,97.70 L378.34,97.30 L378.35,96.90 L378.36,96.50 L378.37,96.10 L378.38,95.70 L378.40,95.30 L378.42,94.90 L378.45,94.50 L378.47,94.10 L378.50,93.70 L378.53,93.30 L378.56,92.90 L378.58,92.50 L378.60,92.10 L378.61,91.70 L378.62,91.30 L378.63,90.90 L378.64,90.50 L378.65,90.10 L378.66,89.70 L378.67,89.30 L378.67,88.90 L378.68,88.50 L378.69,88.10 L378.69,87.70 L378.69,87.30 L378.70,86.90 L378.70,86.50 L378.70,86.10 L378.70,85.70 L378.70,85.30 L378.69,84.90 L378.68,84.50 L378.68,84.10 L378.67,83.70 L378.65,83.30 L378.64,82.90 L378.62,82.50 L378.61,82.10 L378.59,81.70 L378.57,81.30 L378.55,80.90 L378.53,80.50 L378.51,80.10 L378.48,79.70 L378.46,79.30 L378.44,78.90 L378.41,78.50 L378.39,78.10 L378.36,77.70 L378.34,77.30 L378.31,76.90 L378.29,76.50 L378.26,76.10 L378.24,75.70 L378.22,75.30 L378.19,74.90 L378.17,74.50 L378.15,74.10 L378.12,73.70 L378.10,73.30 L378.07,72.90 L378.04,72.50 L378.01,72.10 L377.98,71.70 L377.96,71.30 L377.93,70.90 L377.90,70.50 L377.86,70.10 L377.83,69.70 L377.80,69.30 L377.77,68.90 L377.74,68.50 L377.70,68.10 L377.67,67.70 L377.63,67.30 L377.60,66.90Z" fill="#4b4b4b"/>
<path d="M401.35,62.80 L401.36,63.20 L401.38,63.60 L401.39,64.00 L401.41,64.40 L401.42,64.80 L401.44,65.20 L401.45,65.60 L401.46,66.00 L401.48,66.40 L401.49,66.80 L401.51,67.20 L401.52,67.60 L401.54,68.00 L401.55,68.40 L401.57,68.80 L401.58,69.20 L401.60,69.60 L401.61,70.00 L401.63,70.40 L401.64,70.80 L401.66,71.20 L401.67,71.60 L401.69,72.00 L401.70,72.40 L401.72,72.80 L401.73,73.20 L401.75,73.60 L401.76,74.00 L401.78,74.40 L401.79,74.80 L401.81,75.20 L401.82,75.60 L401.84,76.00 L401.86,76.40 L401.87,76.80 L401.89,77.20 L401.91,77.60 L401.92,78.00 L401.94,78.40 L401.96,78.80 L401.97,79.20 L401.99,79.60 L402.01,80.00 L402.03,80.40 L402.04,80.80 L402.06,81.20 L402.08,81.60 L402.09,82.00 L402.11,82.40 L402.13,82.80 L402.14,83.20 L402.16,83.60 L402.17,84.00 L402.19,84.40 L402.20,84.80 L402.22,85.20 L402.23,85.60 L402.24,86.00 L402.25,86.40 L402.27,86.80 L402.28,87.20 L402.29,87.60 L402.30,88.00 L402.31,88.40 L402.33,88.80 L402.34,89.20 L402.35,89.60 L402.36,90.00 L402.37,90.40 L402.38,90.80 L402.39,91.20 L402.40,91.60 L402.41,92.00 L402.42,92.40 L402.43,92.80 L402.44,93.20 L402.45,93.60 L402.46,94.00 L402.47,94.40 L402.48,94.80 L402.49,95.20 L402.50,95.60 L402.51,96.00 L402.52,96.40 L402.53,96.80 L402.54,97.20 L402.55,97.60 L402.55,98.00 L402.56,98.40 L402.57,98.80 L402.58,99.20 L402.59,99.60 L402.60,100.00 L402.61,100.40 L402.62,100.80 L402.63,101.20 L402.64,101.60 L402.65,102.00 L402.65,102.40 L402.66,102.80 L402.67,103.20 L402.68,103.60 L402.69,104.00 L402.70,104.40 L402.71,104.80 L402.72,105.20 L402.73,105.60 L402.74,106.00 L402.75,106.40 L402.76,106.80 L402.76,107.20 L402.77,107.60 L402.78,108.00 L402.79,108.40 L402.80,108.80 L402.81,109.20 L402.81,109.60 L402.82,110.00 L402.83,110.40 L402.84,110.80 L402.84,111.20 L402.85,111.60 L402.86,112.00 L402.86,112.40 L402.87,112.80 L402.88,113.20 L402.88,113.60 L402.89,114.00 L402.89,114.40 L402.90,114.80 L402.90,115.20 L402.91,115.60 L402.91,116.00 L402.91,116.40 L402.92,116.80 L402.92,117.20 L402.92,117.60 L402.92,118.00 L402.93,118.40 L402.93,118.80 L402.93,119.20 L402.93,119.60 L402.94,120.00 L402.94,120.40 L402.94,120.80 L402.94,121.20 L402.95,121.60 L402.95,122.00 L402.95,122.40 L402.96,122.80 L402.96,123.20 L402.97,123.60 L402.98,124.00 L402.98,124.40 L403.00,124.80 L403.02,125.20 L403.05,125.60 L403.07,126.00 L403.10,126.40 L403.13,126.80 L403.16,127.20 L403.19,127.60 L403.22,128.00 L403.25,128.40 L403.27,128.80 L403.29,129.20 L403.30,129.60 L403.30,130.00 L403.30,130.40 L403.30,130.80 L403.30,131.20 L403.30,131.60 L403.30,132.00 L403.30,132.40 L403.30,132.80 L403.30,133.20 L403.30,133.60 L403.30,134.00 L403.30,134.40 L403.30,134.80 L403.30,135.20 L403.30,135.60 L403.30,136.00 L403.30,136.40 L403.30,136.80 L403.30,137.20 L403.30,137.60 L403.30,138.00 L403.30,138.40 L403.30,138.80 L403.30,139.20 L403.30,139.60 L403.30,140.00 L403.30,140.40 L403.30,140.80 L403.30,141.20 L403.30,141.60 L403.30,142.00 L403.30,142.40 L403.30,142.80 L403.30,143.20 L403.30,143.60 L403.30,144.00 L403.30,144.40 L403.30,144.80 L403.30,145.20 L403.30,145.60 L403.30,146.00 L403.30,146.40 L403.30,146.80 L403.30,147.20 L403.30,147.60 L403.31,148.00 L403.31,148.40 L403.31,148.80 L403.31,149.20 L403.31,149.60 L403.32,150.00 L403.32,150.40 L403.32,150.80 L403.33,151.20 L403.33,151.60 L403.33,152.00 L403.34,152.40 L403.34,152.80 L403.34,153.20 L403.34,153.60 L403.34,154.00 L403.35,154.40 L403.35,154.80 L403.35,155.20 L403.35,155.60 L403.35,156.00 L403.35,156.40 L403.34,156.80 L403.33,157.20 L403.31,157.60 L403.29,158.00 L403.27,158.40 L403.24,158.80 L403.21,159.20 L403.18,159.60 L403.15,160.00 L403.11,160.40 L403.08,160.80 L403.04,161.20 L403.01,161.60 L402.98,162.00 L402.94,162.40 L402.91,162.80 L402.89,163.20 L402.86,163.60 L402.82,164.00 L402.79,164.40 L402.76,164.80 L402.73,165.20 L402.69,165.60 L402.66,166.00 L402.62,166.40 L402.59,166.80 L402.55,167.20 L402.52,167.60 L402.49,168.00 L402.46,168.40 L402.43,168.80 L402.40,169.20 L402.37,169.60 L402.35,170.00 L402.33,170.40 L402.31,170.80 L402.28,171.20 L402.26,171.60 L402.24,172.00 L402.22,172.40 L402.21,172.80 L402.19,173.20 L402.17,173.60 L402.15,174.00 L402.14,174.40 L402.12,174.80 L402.10,175.20 L402.09,175.60 L402.07,176.00 L402.05,176.40 L402.04,176.80 L402.02,177.20 L402.01,177.60 L401.99,178.00 L401.97,178.40 L401.95,178.80 L401.94,179.20 L401.92,179.60 L401.90,180.00 L401.88,180.40 L401.86,180.80 L401.84,181.20 L401.82,181.60 L401.80,182.00 L401.77,182.40 L401.75,182.80 L401.73,183.20 L401.71,183.60 L401.69,184.00 L401.66,184.40 L401.64,184.80 L401.62,185.20 L401.60,185.60 L401.58,186.00 L401.56,186.40 L401.55,186.80 L401.53,187.20 L401.51,187.60 L401.50,188.00 L401.49,188.40 L401.48,188.80 L401.47,189.20 L401.46,189.60 L401.45,190.00 L401.44,190.40 L401.43,190.80 L401.42,191.20 L401.42,191.60 L401.41,192.00 L401.40,192.40 L401.39,192.80 L401.38,193.20 L401.36,193.60 L401.35,194.00 L401.33,194.40 L401.31,194.80 L401.29,195.20 L401.26,195.60 L401.24,196.00 L401.21,196.40 L401.20,196.50 L399.00,196.50 L398.99,196.40 L398.96,196.00 L398.94,195.60 L398.91,195.20 L398.89,194.80 L398.87,194.40 L398.85,194.00 L398.84,193.60 L398.82,193.20 L398.81,192.80 L398.80,192.40 L398.79,192.00 L398.78,191.60 L398.78,191.20 L398.77,190.80 L398.76,190.40 L398.75,190.00 L398.74,189.60 L398.73,189.20 L398.72,188.80 L398.71,188.40 L398.70,188.00 L398.69,187.60 L398.67,187.20 L398.65,186.80 L398.64,186.40 L398.62,186.00 L398.60,185.60 L398.58,185.20 L398.56,184.80 L398.54,184.40 L398.51,184.00 L398.49,183.60 L398.47,183.20 L398.45,182.80 L398.43,182.40 L398.40,182.00 L398.38,181.60 L398.36,181.20 L398.34,180.80 L398.32,180.40 L398.30,180.00 L398.28,179.60 L398.26,179.20 L398.25,178.80 L398.23,178.40 L398.21,178.00 L398.19,177.60 L398.18,177.20 L398.16,176.80 L398.15,176.40 L398.13,176.00 L398.11,175.60 L398.10,175.20 L398.08,174.80 L398.06,174.40 L398.05,174.00 L398.03,173.60 L398.01,173.20 L397.99,172.80 L397.98,172.40 L397.96,172.00 L397.94,171.60 L397.92,171.20 L397.89,170.80 L397.87,170.40 L397.85,170.00 L397.83,169.60 L397.80,169.20 L397.77,168.80 L397.74,168.40 L397.71,168.00 L397.68,167.60 L397.65,167.20 L397.61,166.80 L397.58,166.40 L397.54,166.00 L397.51,165.60 L397.47,165.20 L397.44,164.80 L397.41,164.40 L397.38,164.00 L397.34,163.60 L397.31,163.20 L397.29,162.80 L397.26,162.40 L397.22,162.00 L397.19,161.60 L397.16,161.20 L397.12,160.80 L397.09,160.40 L397.05,160.00 L397.02,159.60 L396.99,159.20 L396.96,158.80 L396.93,158.40 L396.91,158.00 L396.89,157.60 L396.87,157.20 L396.86,156.80 L396.85,156.40 L396.85,156.00 L396.85,155.60 L396.85,155.20 L396.85,154.80 L396.85,154.40 L396.86,154.00 L396.86,153.60 L396.86,153.20 L396.86,152.80 L396.86,152.40 L396.87,152.00 L396.87,151.60 L396.87,151.20 L396.88,150.80 L396.88,150.40 L396.88,150.00 L396.89,149.60 L396.89,149.20 L396.89,148.80 L396.89,148.40 L396.89,148.00 L396.90,147.60 L396.90,147.20 L396.90,146.80 L396.90,146.40 L396.90,146.00 L396.90,145.60 L396.90,145.20 L396.90,144.80 L396.90,144.40 L396.90,144.00 L396.90,143.60 L396.90,143.20 L396.90,142.80 L396.90,142.40 L396.90,142.00 L396.90,141.60 L396.90,141.20 L396.90,140.80 L396.90,140.40 L396.90,140.00 L396.90,139.60 L396.90,139.20 L396.90,138.80 L396.90,138.40 L396.90,138.00 L396.90,137.60 L396.90,137.20 L396.90,136.80 L396.90,136.40 L396.90,136.00 L396.90,135.60 L396.90,135.20 L396.90,134.80 L396.90,134.40 L396.90,134.00 L396.90,133.60 L396.90,133.20 L396.90,132.80 L396.90,132.40 L396.90,132.00 L396.90,131.60 L396.90,131.20 L396.90,130.80 L396.90,130.40 L396.90,130.00 L396.90,129.60 L396.91,129.20 L396.93,128.80 L396.95,128.40 L396.98,128.00 L397.01,127.60 L397.04,127.20 L397.07,126.80 L397.10,126.40 L397.13,126.00 L397.15,125.60 L397.18,125.20 L397.20,124.80 L397.22,124.40 L397.23,124.00 L397.23,123.60 L397.24,123.20 L397.24,122.80 L397.25,122.40 L397.25,122.00 L397.25,121.60 L397.26,121.20 L397.26,120.80 L397.26,120.40 L397.26,120.00 L397.27,119.60 L397.27,119.20 L397.27,118.80 L397.27,118.40 L397.28,118.00 L397.28,117.60 L397.28,117.20 L397.28,116.80 L397.29,116.40 L397.29,116.00 L397.29,115.60 L397.30,115.20 L397.30,114.80 L397.31,114.40 L397.31,114.00 L397.32,113.60 L397.32,113.20 L397.33,112.80 L397.34,112.40 L397.34,112.00 L397.35,111.60 L397.36,111.20 L397.36,110.80 L397.37,110.40 L397.38,110.00 L397.39,109.60 L397.39,109.20 L397.40,108.80 L397.41,108.40 L397.42,108.00 L397.43,107.60 L397.44,107.20 L397.44,106.80 L397.45,106.40 L397.46,106.00 L397.47,105.60 L397.48,105.20 L397.49,104.80 L397.50,104.40 L397.51,104.00 L397.52,103.60 L397.53,103.20 L397.54,102.80 L397.55,102.40 L397.55,102.00 L397.56,101.60 L397.57,101.20 L397.58,100.80 L397.59,100.40 L397.60,100.00 L397.61,99.60 L397.62,99.20 L397.63,98.80 L397.64,98.40 L397.65,98.00 L397.65,97.60 L397.66,97.20 L397.67,96.80 L397.68,96.40 L397.69,96.00 L397.70,95.60 L397.71,95.20 L397.72,94.80 L397.73,94.40 L397.74,94.00 L397.75,93.60 L397.76,93.20 L397.77,92.80 L397.78,92.40 L397.79,92.00 L397.80,91.60 L397.81,91.20 L397.82,90.80 L397.83,90.40 L397.84,90.00 L397.85,89.60 L397.86,89.20 L397.87,88.80 L397.89,88.40 L397.90,88.00 L397.91,87.60 L397.92,87.20 L397.93,86.80 L397.95,86.40 L397.96,86.00 L397.97,85.60 L397.98,85.20 L398.00,84.80 L398.01,84.40 L398.03,84.00 L398.04,83.60 L398.06,83.20 L398.07,82.80 L398.09,82.40 L398.11,82.00 L398.12,81.60 L398.14,81.20 L398.16,80.80 L398.17,80.40 L398.19,80.00 L398.21,79.60 L398.23,79.20 L398.24,78.80 L398.26,78.40 L398.28,78.00 L398.29,77.60 L398.31,77.20 L398.33,76.80 L398.34,76.40 L398.36,76.00 L398.38,75.60 L398.39,75.20 L398.41,74.80 L398.42,74.40 L398.44,74.00 L398.45,73.60 L398.47,73.20 L398.48,72.80 L398.50,72.40 L398.51,72.00 L398.53,71.60 L398.54,71.20 L398.56,70.80 L398.57,70.40 L398.59,70.00 L398.60,69.60 L398.62,69.20 L398.63,68.80 L398.65,68.40 L398.66,68.00 L398.68,67.60 L398.69,67.20 L398.71,66.80 L398.72,66.40 L398.74,66.00 L398.75,65.60 L398.76,65.20 L398.78,64.80 L398.79,64.40 L398.81,64.00 L398.82,63.60 L398.84,63.20 L398.85,62.80Z" fill="#4b4b4b"/>
<path d="M423.43,98.00 L423.44,98.40 L423.47,98.80 L423.49,99.20 L423.51,99.60 L423.53,100.00 L423.55,100.40 L423.57,100.80 L423.59,101.20 L423.62,101.60 L423.64,102.00 L423.66,102.40 L423.69,102.80 L423.71,103.20 L423.74,103.60 L423.76,104.00 L423.78,104.40 L423.81,104.80 L423.83,105.20 L423.86,105.60 L423.88,106.00 L423.91,106.40 L423.94,106.80 L423.97,107.20 L424.00,107.60 L424.03,108.00 L424.07,108.40 L424.11,108.80 L424.17,109.20 L424.22,109.60 L424.28,110.00 L424.35,110.40 L424.41,110.80 L424.47,111.20 L424.53,111.60 L424.59,112.00 L424.64,112.40 L424.68,112.80 L424.72,113.20 L424.75,113.60 L424.78,114.00 L424.81,114.40 L424.84,114.80 L424.87,115.20 L424.90,115.60 L424.92,116.00 L424.94,116.40 L424.96,116.80 L424.98,117.20 L424.99,117.60 L425.00,118.00 L425.00,118.40 L425.01,118.80 L425.01,119.20 L425.02,119.60 L425.02,120.00 L425.03,120.40 L425.03,120.80 L425.03,121.20 L425.04,121.60 L425.04,122.00 L425.04,122.40 L425.04,122.80 L425.05,123.20 L425.05,123.60 L425.05,124.00 L425.05,124.40 L425.05,124.80 L425.05,125.20 L425.04,125.60 L425.02,126.00 L425.00,126.40 L424.97,126.80 L424.94,127.20 L424.90,127.60 L424.87,128.00 L424.83,128.40 L424.79,128.80 L424.76,129.20 L424.73,129.60 L424.70,130.00 L424.68,130.40 L424.65,130.80 L424.63,131.20 L424.60,131.60 L424.58,132.00 L424.56,132.40 L424.53,132.80 L424.51,133.20 L424.49,133.60 L424.47,134.00 L424.45,134.40 L424.43,134.80 L424.41,135.20 L424.39,135.60 L424.37,136.00 L424.35,136.40 L424.33,136.80 L424.31,137.20 L424.30,137.60 L424.28,138.00 L424.26,138.40 L424.25,138.80 L424.23,139.20 L424.22,139.60 L424.21,140.00 L424.19,140.40 L424.18,140.80 L424.17,141.20 L424.15,141.60 L424.14,142.00 L424.13,142.40 L424.12,142.80 L424.11,143.20 L424.09,143.60 L424.08,144.00 L424.07,144.40 L424.06,144.80 L424.05,145.20 L424.04,145.60 L424.03,146.00 L424.01,146.40 L424.00,146.80 L423.99,147.20 L423.98,147.60 L423.97,148.00 L423.95,148.40 L423.94,148.80 L423.93,149.20 L423.91,149.60 L423.90,150.00 L423.89,150.40 L423.87,150.80 L423.86,151.20 L423.84,151.60 L423.83,152.00 L423.81,152.40 L423.80,152.80 L423.78,153.20 L423.77,153.60 L423.75,154.00 L423.74,154.40 L423.72,154.80 L423.71,155.20 L423.69,155.60 L423.67,156.00 L423.66,156.40 L423.64,156.80 L423.63,157.20 L423.62,157.60 L423.60,158.00 L423.59,158.40 L423.58,158.80 L423.56,159.20 L423.55,159.60 L423.54,160.00 L423.52,160.40 L423.51,160.80 L423.49,161.20 L423.48,161.60 L423.46,162.00 L423.44,162.40 L423.43,162.80 L423.41,163.20 L423.39,163.60 L423.36,164.00 L423.34,164.40 L423.31,164.80 L423.28,165.20 L423.24,165.60 L423.19,166.00 L423.14,166.40 L423.08,166.80 L423.03,167.20 L422.99,167.60 L422.95,168.00 L422.91,168.40 L422.87,168.80 L422.83,169.20 L422.81,169.60 L422.80,170.00 L422.80,170.40 L422.80,170.80 L422.80,171.20 L422.80,171.60 L422.80,172.00 L422.80,172.40 L422.80,172.80 L422.80,173.20 L422.80,173.60 L422.80,174.00 L422.80,174.40 L422.80,174.80 L422.80,175.20 L422.80,175.60 L422.80,176.00 L422.80,176.40 L422.80,176.80 L422.80,177.20 L422.80,177.60 L422.80,178.00 L422.80,178.40 L422.80,178.80 L422.80,179.20 L422.80,179.60 L422.80,180.00 L422.80,180.40 L422.80,180.80 L422.80,181.20 L422.80,181.60 L422.80,182.00 L422.80,182.40 L422.80,182.80 L422.80,183.20 L422.80,183.60 L422.80,184.00 L422.80,184.40 L422.80,184.80 L422.80,185.20 L422.80,185.60 L422.80,186.00 L422.80,186.40 L422.80,186.50 L418.80,186.50 L418.80,186.40 L418.80,186.00 L418.80,185.60 L418.80,185.20 L418.80,184.80 L418.80,184.40 L418.80,184.00 L418.80,183.60 L418.80,183.20 L418.80,182.80 L418.80,182.40 L418.80,182.00 L418.80,181.60 L418.80,181.20 L418.80,180.80 L418.80,180.40 L418.80,180.00 L418.80,179.60 L418.80,179.20 L418.80,178.80 L418.80,178.40 L418.80,178.00 L418.80,177.60 L418.80,177.20 L418.80,176.80 L418.80,176.40 L418.80,176.00 L418.80,175.60 L418.80,175.20 L418.80,174.80 L418.80,174.40 L418.80,174.00 L418.80,173.60 L418.80,173.20 L418.80,172.80 L418.80,172.40 L418.80,172.00 L418.80,171.60 L418.80,171.20 L418.80,170.80 L418.80,170.40 L418.80,170.00 L418.79,169.60 L418.77,169.20 L418.73,168.80 L418.69,168.40 L418.65,168.00 L418.61,167.60 L418.57,167.20 L418.52,166.80 L418.46,166.40 L418.41,166.00 L418.36,165.60 L418.32,165.20 L418.29,164.80 L418.26,164.40 L418.24,164.00 L418.21,163.60 L418.19,163.20 L418.17,162.80 L418.16,162.40 L418.14,162.00 L418.12,161.60 L418.11,161.20 L418.09,160.80 L418.08,160.40 L418.06,160.00 L418.05,159.60 L418.04,159.20 L418.02,158.80 L418.01,158.40 L418.00,158.00 L417.98,157.60 L417.97,157.20 L417.96,156.80 L417.94,156.40 L417.93,156.00 L417.91,155.60 L417.89,155.20 L417.88,154.80 L417.86,154.40 L417.85,154.00 L417.83,153.60 L417.82,153.20 L417.80,152.80 L417.79,152.40 L417.77,152.00 L417.76,151.60 L417.74,151.20 L417.73,150.80 L417.71,150.40 L417.70,150.00 L417.69,149.60 L417.67,149.20 L417.66,148.80 L417.65,148.40 L417.63,148.00 L417.62,147.60 L417.61,147.20 L417.60,146.80 L417.59,146.40 L417.57,146.00 L417.56,145.60 L417.55,145.20 L417.54,144.80 L417.53,144.40 L417.52,144.00 L417.51,143.60 L417.49,143.20 L417.48,142.80 L417.47,142.40 L417.46,142.00 L417.45,141.60 L417.43,141.20 L417.42,140.80 L417.41,140.40 L417.39,140.00 L417.38,139.60 L417.37,139.20 L417.35,138.80 L417.34,138.40 L417.32,138.00 L417.30,137.60 L417.29,137.20 L417.27,136.80 L417.25,136.40 L417.23,136.00 L417.21,135.60 L417.19,135.20 L417.17,134.80 L417.15,134.40 L417.13,134.00 L417.11,133.60 L417.09,133.20 L417.07,132.80 L417.04,132.40 L417.02,132.00 L417.00,131.60 L416.97,131.20 L416.95,130.80 L416.92,130.40 L416.90,130.00 L416.87,129.60 L416.84,129.20 L416.81,128.80 L416.77,128.40 L416.73,128.00 L416.70,127.60 L416.66,127.20 L416.63,126.80 L416.60,126.40 L416.58,126.00 L416.56,125.60 L416.55,125.20 L416.55,124.80 L416.55,124.40 L416.55,124.00 L416.55,123.60 L416.55,123.20 L416.56,122.80 L416.56,122.40 L416.56,122.00 L416.56,121.60 L416.57,121.20 L416.57,120.80 L416.57,120.40 L416.58,120.00 L416.58,119.60 L416.59,119.20 L416.59,118.80 L416.60,118.40 L416.60,118.00 L416.61,117.60 L416.62,117.20 L416.64,116.80 L416.66,116.40 L416.68,116.00 L416.70,115.60 L416.73,115.20 L416.76,114.80 L416.79,114.40 L416.82,114.00 L416.85,113.60 L416.88,113.20 L416.92,112.80 L416.96,112.40 L417.01,112.00 L417.07,111.60 L417.13,111.20 L417.19,110.80 L417.25,110.40 L417.32,110.00 L417.38,109.60 L417.43,109.20 L417.49,108.80 L417.53,108.40 L417.57,108.00 L417.60,107.60 L417.63,107.20 L417.66,106.80 L417.69,106.40 L417.72,106.00 L417.74,105.60 L417.77,105.20 L417.79,104.80 L417.82,104.40 L417.84,104.00 L417.86,103.60 L417.89,103.20 L417.91,102.80 L417.94,102.40 L417.96,102.00 L417.98,101.60 L418.01,101.20 L418.03,100.80 L418.05,100.40 L418.07,100.00 L418.09,99.60 L418.11,99.20 L418.13,98.80 L418.16,98.40 L418.18,98.00Z" fill="#4b4b4b"/>
<line x1="439.00" y1="135.45" x2="458.00" y2="135.45" stroke="#F97C70" stroke-width="0.7"/>
<path d="M472.30,114.00 L472.37,114.40 L472.47,114.80 L472.57,115.20 L472.69,115.60 L472.82,116.00 L472.96,116.40 L473.12,116.80 L473.32,117.20 L473.55,117.60 L473.80,118.00 L474.06,118.40 L474.31,118.80 L474.55,119.20 L474.77,119.60 L474.95,120.00 L475.10,120.40 L475.25,120.80 L475.38,121.20 L475.51,121.60 L475.63,122.00 L475.74,122.40 L475.86,122.80 L475.97,123.20 L476.08,123.60 L476.20,124.00 L476.32,124.40 L476.45,124.80 L476.57,125.20 L476.70,125.60 L476.82,126.00 L476.94,126.40 L477.05,126.80 L477.16,127.20 L477.26,127.60 L477.35,128.00 L477.44,128.40 L477.53,128.80 L477.62,129.20 L477.70,129.60 L477.77,130.00 L477.82,130.40 L477.85,130.80 L477.85,131.20 L477.83,131.60 L477.80,132.00 L477.76,132.40 L477.70,132.80 L477.64,133.20 L477.58,133.60 L477.51,134.00 L477.45,134.40 L477.38,134.80 L477.32,135.20 L477.26,135.60 L477.20,136.00 L477.13,136.40 L477.06,136.80 L476.98,137.20 L476.90,137.60 L476.80,138.00 L476.69,138.40 L476.55,138.80 L476.39,139.20 L476.22,139.60 L476.04,140.00 L475.85,140.40 L475.65,140.80 L475.46,141.20 L475.28,141.60 L475.10,142.00 L474.93,142.40 L474.75,142.80 L474.57,143.20 L474.39,143.60 L474.21,144.00 L474.04,144.40 L473.87,144.80 L473.70,145.20 L473.55,145.60 L473.40,146.00 L473.26,146.40 L473.12,146.80 L472.98,147.20 L472.85,147.60 L472.72,148.00 L472.60,148.40 L472.48,148.80 L472.38,149.20 L472.28,149.60 L472.20,150.00 L472.13,150.40 L472.06,150.80 L472.01,151.20 L471.95,151.60 L471.90,152.00 L471.85,152.40 L471.80,152.80 L471.75,153.20 L471.70,153.60 L471.66,154.00 L471.61,154.40 L471.57,154.80 L471.53,155.20 L471.49,155.60 L471.45,156.00 L471.41,156.40 L471.37,156.80 L471.32,157.20 L471.28,157.60 L471.24,158.00 L471.20,158.40 L471.16,158.80 L471.13,159.20 L471.11,159.60 L471.10,160.00 L471.09,160.40 L471.08,160.80 L471.08,161.20 L471.07,161.60 L471.06,162.00 L471.06,162.40 L471.06,162.80 L471.05,163.20 L471.05,163.60 L471.05,164.00 L471.06,164.40 L471.08,164.80 L471.12,165.20 L471.16,165.60 L471.21,166.00 L471.26,166.40 L471.32,166.80 L471.37,167.20 L471.41,167.60 L471.45,168.00 L471.48,168.40 L471.52,168.80 L471.55,169.20 L471.58,169.60 L471.61,170.00 L471.64,170.40 L471.67,170.80 L471.68,171.20 L471.70,171.60 L471.70,172.00 L471.70,172.40 L471.70,172.80 L471.70,173.20 L471.70,173.60 L471.70,174.00 L471.70,174.40 L471.70,174.80 L471.70,175.20 L471.70,175.60 L471.70,176.00 L471.70,176.40 L471.69,176.80 L471.69,177.20 L471.68,177.60 L471.67,178.00 L471.66,178.40 L471.64,178.80 L471.63,179.20 L471.61,179.60 L471.60,180.00 L471.59,180.40 L471.57,180.80 L471.55,181.20 L471.53,181.60 L471.51,182.00 L471.49,182.40 L471.47,182.80 L471.44,183.20 L471.41,183.60 L471.38,184.00 L471.35,184.40 L471.32,184.80 L471.28,185.20 L471.25,185.60 L471.20,186.00 L471.15,186.40 L471.09,186.80 L471.00,187.20 L470.86,187.60 L470.54,188.00 L470.45,188.10 L467.95,188.10 L467.86,188.00 L467.54,187.60 L467.40,187.20 L467.31,186.80 L467.25,186.40 L467.20,186.00 L467.15,185.60 L467.12,185.20 L467.08,184.80 L467.05,184.40 L467.02,184.00 L466.99,183.60 L466.96,183.20 L466.93,182.80 L466.91,182.40 L466.89,182.00 L466.87,181.60 L466.85,181.20 L466.83,180.80 L466.81,180.40 L466.80,180.00 L466.79,179.60 L466.77,179.20 L466.76,178.80 L466.74,178.40 L466.73,178.00 L466.72,177.60 L466.71,177.20 L466.71,176.80 L466.70,176.40 L466.70,176.00 L466.70,175.60 L466.70,175.20 L466.70,174.80 L466.70,174.40 L466.70,174.00 L466.70,173.60 L466.70,173.20 L466.70,172.80 L466.70,172.40 L466.70,172.00 L466.70,171.60 L466.72,171.20 L466.73,170.80 L466.76,170.40 L466.79,170.00 L466.82,169.60 L466.85,169.20 L466.88,168.80 L466.92,168.40 L466.95,168.00 L466.99,167.60 L467.03,167.20 L467.08,166.80 L467.14,166.40 L467.19,166.00 L467.24,165.60 L467.28,165.20 L467.32,164.80 L467.34,164.40 L467.35,164.00 L467.35,163.60 L467.35,163.20 L467.34,162.80 L467.34,162.40 L467.34,162.00 L467.33,161.60 L467.32,161.20 L467.32,160.80 L467.31,160.40 L467.30,160.00 L467.29,159.60 L467.27,159.20 L467.24,158.80 L467.20,158.40 L467.16,158.00 L467.12,157.60 L467.08,157.20 L467.03,156.80 L466.99,156.40 L466.95,156.00 L466.91,155.60 L466.87,155.20 L466.83,154.80 L466.79,154.40 L466.74,154.00 L466.70,153.60 L466.65,153.20 L466.60,152.80 L466.55,152.40 L466.50,152.00 L466.45,151.60 L466.39,151.20 L466.34,150.80 L466.27,150.40 L466.20,150.00 L466.12,149.60 L466.02,149.20 L465.92,148.80 L465.80,148.40 L465.68,148.00 L465.55,147.60 L465.42,147.20 L465.28,146.80 L465.14,146.40 L465.00,146.00 L464.85,145.60 L464.70,145.20 L464.53,144.80 L464.36,144.40 L464.19,144.00 L464.01,143.60 L463.83,143.20 L463.65,142.80 L463.47,142.40 L463.30,142.00 L463.12,141.60 L462.94,141.20 L462.75,140.80 L462.55,140.40 L462.36,140.00 L462.18,139.60 L462.01,139.20 L461.85,138.80 L461.71,138.40 L461.60,138.00 L461.50,137.60 L461.42,137.20 L461.34,136.80 L461.27,136.40 L461.20,136.00 L461.14,135.60 L461.08,135.20 L461.02,134.80 L460.95,134.40 L460.89,134.00 L460.82,133.60 L460.76,133.20 L460.70,132.80 L460.64,132.40 L460.60,132.00 L460.57,131.60 L460.55,131.20 L460.55,130.80 L460.58,130.40 L460.63,130.00 L460.70,129.60 L460.78,129.20 L460.87,128.80 L460.96,128.40 L461.05,128.00 L461.14,127.60 L461.24,127.20 L461.35,126.80 L461.46,126.40 L461.58,126.00 L461.70,125.60 L461.83,125.20 L461.95,124.80 L462.08,124.40 L462.20,124.00 L462.32,123.60 L462.43,123.20 L462.54,122.80 L462.66,122.40 L462.77,122.00 L462.89,121.60 L463.02,121.20 L463.15,120.80 L463.30,120.40 L463.45,120.00 L463.63,119.60 L463.85,119.20 L464.09,118.80 L464.34,118.40 L464.60,118.00 L464.85,117.60 L465.08,117.20 L465.28,116.80 L465.44,116.40 L465.58,116.00 L465.71,115.60 L465.83,115.20 L465.93,114.80 L466.03,114.40 L466.10,114.00Z" fill="#F97C70"/>
<path d="M492.95,108.75 L492.99,109.15 L493.02,109.55 L493.06,109.95 L493.10,110.35 L493.13,110.75 L493.16,111.15 L493.18,111.55 L493.20,111.95 L493.21,112.35 L493.22,112.75 L493.23,113.15 L493.24,113.55 L493.25,113.95 L493.26,114.35 L493.27,114.75 L493.28,115.15 L493.29,115.55 L493.30,115.95 L493.31,116.35 L493.32,116.75 L493.32,117.15 L493.33,117.55 L493.34,117.95 L493.35,118.35 L493.35,118.75 L493.36,119.15 L493.36,119.55 L493.37,119.95 L493.37,120.35 L493.38,120.75 L493.38,121.15 L493.39,121.55 L493.39,121.95 L493.39,122.35 L493.39,122.75 L493.40,123.15 L493.40,123.55 L493.40,123.95 L493.40,124.35 L493.40,124.75 L493.40,125.15 L493.40,125.55 L493.40,125.95 L493.39,126.35 L493.39,126.75 L493.38,127.15 L493.37,127.55 L493.37,127.95 L493.36,128.35 L493.35,128.75 L493.34,129.15 L493.33,129.55 L493.31,129.95 L493.30,130.35 L493.29,130.75 L493.28,131.15 L493.26,131.55 L493.25,131.95 L493.24,132.35 L493.22,132.75 L493.21,133.15 L493.20,133.55 L493.18,133.95 L493.17,134.35 L493.16,134.75 L493.15,135.15 L493.14,135.55 L493.13,135.95 L493.12,136.35 L493.11,136.75 L493.10,137.15 L493.09,137.55 L493.08,137.95 L493.07,138.35 L493.06,138.75 L493.05,139.15 L493.04,139.55 L493.03,139.95 L493.02,140.35 L493.01,140.75 L493.00,141.15 L492.99,141.55 L492.98,141.95 L492.97,142.35 L492.96,142.75 L492.95,143.15 L492.94,143.55 L492.93,143.95 L492.92,144.35 L492.91,144.75 L492.90,145.15 L492.89,145.55 L492.88,145.95 L492.87,146.35 L492.86,146.75 L492.85,147.15 L492.84,147.55 L492.83,147.95 L492.82,148.35 L492.81,148.75 L492.80,149.15 L492.79,149.55 L492.78,149.95 L492.77,150.35 L492.76,150.75 L492.75,151.15 L492.74,151.55 L492.73,151.95 L492.72,152.35 L492.71,152.75 L492.70,153.15 L492.69,153.55 L492.68,153.95 L492.67,154.35 L492.66,154.75 L492.65,155.15 L492.64,155.55 L492.62,155.95 L492.61,156.35 L492.60,156.75 L492.59,157.15 L492.58,157.55 L492.57,157.95 L492.55,158.35 L492.54,158.75 L492.53,159.15 L492.52,159.55 L492.50,159.95 L492.49,160.35 L492.47,160.75 L492.45,161.15 L492.43,161.55 L492.41,161.95 L492.39,162.35 L492.37,162.75 L492.34,163.15 L492.32,163.55 L492.30,163.95 L492.28,164.35 L492.26,164.75 L492.24,165.15 L492.22,165.55 L492.20,165.95 L492.18,166.35 L492.17,166.75 L492.16,167.15 L492.15,167.55 L492.15,167.95 L492.15,168.35 L492.15,168.75 L492.14,169.15 L492.14,169.55 L492.14,169.95 L492.14,170.35 L492.14,170.75 L492.14,171.15 L492.14,171.55 L492.13,171.95 L492.13,172.35 L492.13,172.75 L492.13,173.15 L492.13,173.55 L492.13,173.95 L492.13,174.35 L492.13,174.75 L492.13,175.15 L492.13,175.55 L492.12,175.95 L492.12,176.35 L492.12,176.75 L492.12,177.15 L492.12,177.55 L492.12,177.95 L492.12,178.35 L492.12,178.75 L492.12,179.15 L492.12,179.55 L492.12,179.95 L492.12,180.35 L492.12,180.75 L492.12,181.15 L492.12,181.55 L492.12,181.95 L492.12,182.35 L492.12,182.75 L492.11,183.15 L492.11,183.55 L492.11,183.95 L492.11,184.35 L492.11,184.75 L492.11,185.15 L492.11,185.55 L492.11,185.95 L492.11,186.35 L492.11,186.75 L492.11,187.15 L492.11,187.55 L492.11,187.95 L492.10,188.35 L492.10,188.75 L492.10,189.15 L492.10,189.55 L492.10,189.95 L492.10,190.35 L492.10,190.75 L492.10,191.15 L492.09,191.55 L492.09,191.95 L492.09,192.35 L492.09,192.75 L492.09,193.15 L492.09,193.55 L492.09,193.95 L492.08,194.35 L492.08,194.75 L492.08,195.15 L492.08,195.55 L492.08,195.95 L492.07,196.35 L492.07,196.75 L492.07,197.15 L492.07,197.55 L492.06,197.95 L492.06,198.35 L492.06,198.75 L492.06,199.15 L492.05,199.55 L492.05,199.95 L492.05,200.35 L492.04,200.75 L492.04,201.15 L492.04,201.55 L492.03,201.95 L492.03,202.35 L492.02,202.75 L492.02,203.15 L492.01,203.55 L492.01,203.95 L492.00,204.35 L491.99,204.75 L491.99,205.15 L491.98,205.55 L491.97,205.95 L491.96,206.35 L491.95,206.75 L491.93,207.15 L491.92,207.55 L491.90,207.95 L491.87,208.35 L491.80,208.75 L491.71,209.15 L491.61,209.55 L491.51,209.95 L491.50,210.00 L488.50,210.00 L488.49,209.95 L488.39,209.55 L488.29,209.15 L488.20,208.75 L488.13,208.35 L488.10,207.95 L488.08,207.55 L488.07,207.15 L488.05,206.75 L488.04,206.35 L488.03,205.95 L488.02,205.55 L488.01,205.15 L488.01,204.75 L488.00,204.35 L487.99,203.95 L487.99,203.55 L487.98,203.15 L487.98,202.75 L487.97,202.35 L487.97,201.95 L487.96,201.55 L487.96,201.15 L487.96,200.75 L487.95,200.35 L487.95,199.95 L487.95,199.55 L487.94,199.15 L487.94,198.75 L487.94,198.35 L487.94,197.95 L487.93,197.55 L487.93,197.15 L487.93,196.75 L487.93,196.35 L487.92,195.95 L487.92,195.55 L487.92,195.15 L487.92,194.75 L487.92,194.35 L487.91,193.95 L487.91,193.55 L487.91,193.15 L487.91,192.75 L487.91,192.35 L487.91,191.95 L487.91,191.55 L487.90,191.15 L487.90,190.75 L487.90,190.35 L487.90,189.95 L487.90,189.55 L487.90,189.15 L487.90,188.75 L487.90,188.35 L487.89,187.95 L487.89,187.55 L487.89,187.15 L487.89,186.75 L487.89,186.35 L487.89,185.95 L487.89,185.55 L487.89,185.15 L487.89,184.75 L487.89,184.35 L487.89,183.95 L487.89,183.55 L487.89,183.15 L487.88,182.75 L487.88,182.35 L487.88,181.95 L487.88,181.55 L487.88,181.15 L487.88,180.75 L487.88,180.35 L487.88,179.95 L487.88,179.55 L487.88,179.15 L487.88,178.75 L487.88,178.35 L487.88,177.95 L487.88,177.55 L487.88,177.15 L487.88,176.75 L487.88,176.35 L487.88,175.95 L487.87,175.55 L487.87,175.15 L487.87,174.75 L487.87,174.35 L487.87,173.95 L487.87,173.55 L487.87,173.15 L487.87,172.75 L487.87,172.35 L487.87,171.95 L487.86,171.55 L487.86,171.15 L487.86,170.75 L487.86,170.35 L487.86,169.95 L487.86,169.55 L487.86,169.15 L487.85,168.75 L487.85,168.35 L487.85,167.95 L487.85,167.55 L487.84,167.15 L487.83,166.75 L487.82,166.35 L487.80,165.95 L487.78,165.55 L487.76,165.15 L487.74,164.75 L487.72,164.35 L487.70,163.95 L487.68,163.55 L487.66,163.15 L487.63,162.75 L487.61,162.35 L487.59,161.95 L487.57,161.55 L487.55,161.15 L487.53,160.75 L487.51,160.35 L487.50,159.95 L487.48,159.55 L487.47,159.15 L487.46,158.75 L487.45,158.35 L487.43,157.95 L487.42,157.55 L487.41,157.15 L487.40,156.75 L487.39,156.35 L487.38,155.95 L487.36,155.55 L487.35,155.15 L487.34,154.75 L487.33,154.35 L487.32,153.95 L487.31,153.55 L487.30,153.15 L487.29,152.75 L487.28,152.35 L487.27,151.95 L487.26,151.55 L487.25,151.15 L487.24,150.75 L487.23,150.35 L487.22,149.95 L487.21,149.55 L487.20,149.15 L487.19,148.75 L487.18,148.35 L487.17,147.95 L487.16,147.55 L487.15,147.15 L487.14,146.75 L487.13,146.35 L487.12,145.95 L487.11,145.55 L487.10,145.15 L487.09,144.75 L487.08,144.35 L487.07,143.95 L487.06,143.55 L487.05,143.15 L487.04,142.75 L487.03,142.35 L487.02,141.95 L487.01,141.55 L487.00,141.15 L486.99,140.75 L486.98,140.35 L486.97,139.95 L486.96,139.55 L486.95,139.15 L486.94,138.75 L486.93,138.35 L486.92,137.95 L486.91,137.55 L486.90,137.15 L486.89,136.75 L486.88,136.35 L486.87,135.95 L486.86,135.55 L486.85,135.15 L486.84,134.75 L486.83,134.35 L486.82,133.95 L486.80,133.55 L486.79,133.15 L486.78,132.75 L486.76,132.35 L486.75,131.95 L486.74,131.55 L486.72,131.15 L486.71,130.75 L486.70,130.35 L486.69,129.95 L486.67,129.55 L486.66,129.15 L486.65,128.75 L486.64,128.35 L486.63,127.95 L486.63,127.55 L486.62,127.15 L486.61,126.75 L486.61,126.35 L486.60,125.95 L486.60,125.55 L486.60,125.15 L486.60,124.75 L486.60,124.35 L486.60,123.95 L486.60,123.55 L486.60,123.15 L486.61,122.75 L486.61,122.35 L486.61,121.95 L486.61,121.55 L486.62,121.15 L486.62,120.75 L486.63,120.35 L486.63,119.95 L486.64,119.55 L486.64,119.15 L486.65,118.75 L486.65,118.35 L486.66,117.95 L486.67,117.55 L486.68,117.15 L486.68,116.75 L486.69,116.35 L486.70,115.95 L486.71,115.55 L486.72,115.15 L486.73,114.75 L486.74,114.35 L486.75,113.95 L486.76,113.55 L486.77,113.15 L486.78,112.75 L486.79,112.35 L486.80,111.95 L486.82,111.55 L486.84,111.15 L486.87,110.75 L486.90,110.35 L486.94,109.95 L486.98,109.55 L487.01,109.15 L487.05,108.75Z" fill="#F97C70"/>
<path d="M511.80,76.50 L511.80,76.90 L511.80,77.30 L511.80,77.70 L511.80,78.10 L511.80,78.50 L511.80,78.90 L511.80,79.30 L511.80,79.70 L511.80,80.10 L511.80,80.50 L511.80,80.90 L511.80,81.30 L511.80,81.70 L511.80,82.10 L511.80,82.50 L511.80,82.90 L511.80,83.30 L511.80,83.70 L511.80,84.10 L511.80,84.50 L511.80,84.90 L511.80,85.30 L511.80,85.70 L511.80,86.10 L511.80,86.50 L511.81,86.90 L511.81,87.30 L511.81,87.70 L511.82,88.10 L511.82,88.50 L511.83,88.90 L511.83,89.30 L511.84,89.70 L511.85,90.10 L511.85,90.50 L511.86,90.90 L511.87,91.30 L511.88,91.70 L511.88,92.10 L511.89,92.50 L511.90,92.90 L511.91,93.30 L511.92,93.70 L511.93,94.10 L511.94,94.50 L511.95,94.90 L511.96,95.30 L511.97,95.70 L511.98,96.10 L512.00,96.50 L512.02,96.90 L512.04,97.30 L512.06,97.70 L512.08,98.10 L512.10,98.50 L512.13,98.90 L512.15,99.30 L512.18,99.70 L512.21,100.10 L512.24,100.50 L512.29,100.90 L512.33,101.30 L512.39,101.70 L512.44,102.10 L512.50,102.50 L512.55,102.90 L512.61,103.30 L512.66,103.70 L512.71,104.10 L512.76,104.50 L512.80,104.90 L512.85,105.30 L512.90,105.70 L512.94,106.10 L512.99,106.50 L513.03,106.90 L513.08,107.30 L513.12,107.70 L513.17,108.10 L513.23,108.50 L513.28,108.90 L513.33,109.30 L513.37,109.70 L513.41,110.10 L513.44,110.50 L513.47,110.90 L513.50,111.30 L513.53,111.70 L513.56,112.10 L513.58,112.50 L513.61,112.90 L513.63,113.30 L513.65,113.70 L513.67,114.10 L513.70,114.50 L513.72,114.90 L513.74,115.30 L513.77,115.70 L513.79,116.10 L513.82,116.50 L513.84,116.90 L513.87,117.30 L513.90,117.70 L513.93,118.10 L513.96,118.50 L513.99,118.90 L514.02,119.30 L514.05,119.70 L514.08,120.10 L514.12,120.50 L514.16,120.90 L514.20,121.30 L514.24,121.70 L514.28,122.10 L514.32,122.50 L514.36,122.90 L514.41,123.30 L514.45,123.70 L514.50,124.10 L514.54,124.50 L514.59,124.90 L514.64,125.30 L514.69,125.70 L514.74,126.10 L514.80,126.50 L514.86,126.90 L514.92,127.30 L514.97,127.70 L515.03,128.10 L515.08,128.50 L515.12,128.90 L515.16,129.30 L515.18,129.70 L515.20,130.10 L515.22,130.50 L515.23,130.90 L515.25,131.30 L515.26,131.70 L515.27,132.10 L515.28,132.50 L515.29,132.90 L515.30,133.30 L515.30,133.70 L515.30,134.10 L515.29,134.50 L515.28,134.90 L515.27,135.30 L515.25,135.70 L515.22,136.10 L515.19,136.50 L515.16,136.90 L515.13,137.30 L515.10,137.70 L515.07,138.10 L515.04,138.50 L515.01,138.90 L514.98,139.30 L514.95,139.70 L514.92,140.10 L514.89,140.50 L514.86,140.90 L514.83,141.30 L514.79,141.70 L514.76,142.10 L514.73,142.50 L514.69,142.90 L514.66,143.30 L514.62,143.70 L514.58,144.10 L514.55,144.50 L514.51,144.90 L514.47,145.30 L514.43,145.70 L514.38,146.10 L514.34,146.50 L514.29,146.90 L514.24,147.30 L514.20,147.70 L514.15,148.10 L514.10,148.50 L514.06,148.90 L514.02,149.30 L513.98,149.70 L513.94,150.10 L513.91,150.50 L513.88,150.90 L513.84,151.30 L513.81,151.70 L513.79,152.10 L513.76,152.50 L513.73,152.90 L513.70,153.30 L513.68,153.70 L513.65,154.10 L513.63,154.50 L513.60,154.90 L513.57,155.30 L513.54,155.70 L513.52,156.10 L513.49,156.50 L513.46,156.90 L513.43,157.30 L513.39,157.70 L513.36,158.10 L513.32,158.50 L513.29,158.90 L513.25,159.30 L513.22,159.70 L513.18,160.10 L513.14,160.50 L513.11,160.90 L513.08,161.30 L513.04,161.70 L513.01,162.10 L512.98,162.50 L512.96,162.90 L512.93,163.30 L512.91,163.70 L512.89,164.10 L512.86,164.50 L512.84,164.90 L512.82,165.30 L512.80,165.70 L512.78,166.10 L512.76,166.50 L512.75,166.90 L512.73,167.30 L512.71,167.70 L512.70,168.10 L512.68,168.50 L512.66,168.90 L512.65,169.30 L512.63,169.70 L512.62,170.10 L512.61,170.50 L512.59,170.90 L512.58,171.30 L512.57,171.70 L512.55,172.10 L512.54,172.50 L512.53,172.90 L512.52,173.30 L512.50,173.70 L512.49,174.10 L512.48,174.50 L512.47,174.90 L512.46,175.30 L512.44,175.70 L512.43,176.10 L512.42,176.50 L512.41,176.90 L512.39,177.30 L512.38,177.70 L512.37,178.10 L512.35,178.50 L512.34,178.90 L512.33,179.30 L512.31,179.70 L512.30,180.10 L512.28,180.50 L512.27,180.90 L512.25,181.30 L512.23,181.70 L512.22,182.10 L512.20,182.50 L512.18,182.90 L512.17,183.30 L512.15,183.70 L512.13,184.10 L512.11,184.50 L512.10,184.90 L512.08,185.30 L512.06,185.70 L512.04,186.10 L512.02,186.50 L512.00,186.90 L511.98,187.30 L511.96,187.70 L511.95,188.10 L511.92,188.50 L511.90,188.90 L511.88,189.30 L511.86,189.70 L511.84,190.10 L511.82,190.50 L511.79,190.90 L511.77,191.30 L511.75,191.70 L511.72,192.10 L511.70,192.50 L509.70,192.50 L509.68,192.10 L509.65,191.70 L509.63,191.30 L509.61,190.90 L509.58,190.50 L509.56,190.10 L509.54,189.70 L509.52,189.30 L509.50,188.90 L509.48,188.50 L509.45,188.10 L509.44,187.70 L509.42,187.30 L509.40,186.90 L509.38,186.50 L509.36,186.10 L509.34,185.70 L509.32,185.30 L509.30,184.90 L509.29,184.50 L509.27,184.10 L509.25,183.70 L509.23,183.30 L509.22,182.90 L509.20,182.50 L509.18,182.10 L509.17,181.70 L509.15,181.30 L509.13,180.90 L509.12,180.50 L509.10,180.10 L509.09,179.70 L509.07,179.30 L509.06,178.90 L509.05,178.50 L509.03,178.10 L509.02,177.70 L509.01,177.30 L508.99,176.90 L508.98,176.50 L508.97,176.10 L508.96,175.70 L508.94,175.30 L508.93,174.90 L508.92,174.50 L508.91,174.10 L508.90,173.70 L508.88,173.30 L508.87,172.90 L508.86,172.50 L508.85,172.10 L508.83,171.70 L508.82,171.30 L508.81,170.90 L508.79,170.50 L508.78,170.10 L508.77,169.70 L508.75,169.30 L508.74,168.90 L508.72,168.50 L508.70,168.10 L508.69,167.70 L508.67,167.30 L508.65,166.90 L508.64,166.50 L508.62,166.10 L508.60,165.70 L508.58,165.30 L508.56,164.90 L508.54,164.50 L508.51,164.10 L508.49,163.70 L508.47,163.30 L508.44,162.90 L508.42,162.50 L508.39,162.10 L508.36,161.70 L508.32,161.30 L508.29,160.90 L508.26,160.50 L508.22,160.10 L508.18,159.70 L508.15,159.30 L508.11,158.90 L508.08,158.50 L508.04,158.10 L508.01,157.70 L507.97,157.30 L507.94,156.90 L507.91,156.50 L507.88,156.10 L507.86,155.70 L507.83,155.30 L507.80,154.90 L507.77,154.50 L507.75,154.10 L507.72,153.70 L507.70,153.30 L507.67,152.90 L507.64,152.50 L507.61,152.10 L507.59,151.70 L507.56,151.30 L507.52,150.90 L507.49,150.50 L507.46,150.10 L507.42,149.70 L507.38,149.30 L507.34,148.90 L507.30,148.50 L507.25,148.10 L507.20,147.70 L507.16,147.30 L507.11,146.90 L507.06,146.50 L507.02,146.10 L506.97,145.70 L506.93,145.30 L506.89,144.90 L506.85,144.50 L506.82,144.10 L506.78,143.70 L506.74,143.30 L506.71,142.90 L506.67,142.50 L506.64,142.10 L506.61,141.70 L506.57,141.30 L506.54,140.90 L506.51,140.50 L506.48,140.10 L506.45,139.70 L506.42,139.30 L506.39,138.90 L506.36,138.50 L506.33,138.10 L506.30,137.70 L506.27,137.30 L506.24,136.90 L506.21,136.50 L506.18,136.10 L506.15,135.70 L506.13,135.30 L506.12,134.90 L506.11,134.50 L506.10,134.10 L506.10,133.70 L506.10,133.30 L506.11,132.90 L506.12,132.50 L506.13,132.10 L506.14,131.70 L506.15,131.30 L506.17,130.90 L506.18,130.50 L506.20,130.10 L506.22,129.70 L506.24,129.30 L506.28,128.90 L506.32,128.50 L506.37,128.10 L506.43,127.70 L506.48,127.30 L506.54,126.90 L506.60,126.50 L506.66,126.10 L506.71,125.70 L506.76,125.30 L506.81,124.90 L506.86,124.50 L506.90,124.10 L506.95,123.70 L506.99,123.30 L507.04,122.90 L507.08,122.50 L507.12,122.10 L507.16,121.70 L507.20,121.30 L507.24,120.90 L507.28,120.50 L507.32,120.10 L507.35,119.70 L507.38,119.30 L507.41,118.90 L507.44,118.50 L507.47,118.10 L507.50,117.70 L507.53,117.30 L507.56,116.90 L507.58,116.50 L507.61,116.10 L507.63,115.70 L507.66,115.30 L507.68,114.90 L507.70,114.50 L507.73,114.10 L507.75,113.70 L507.77,113.30 L507.79,112.90 L507.82,112.50 L507.84,112.10 L507.87,111.70 L507.90,111.30 L507.93,110.90 L507.96,110.50 L507.99,110.10 L508.03,109.70 L508.07,109.30 L508.12,108.90 L508.17,108.50 L508.23,108.10 L508.28,107.70 L508.32,107.30 L508.37,106.90 L508.41,106.50 L508.46,106.10 L508.50,105.70 L508.55,105.30 L508.60,104.90 L508.64,104.50 L508.69,104.10 L508.74,103.70 L508.79,103.30 L508.85,102.90 L508.90,102.50 L508.96,102.10 L509.01,101.70 L509.07,101.30 L509.11,100.90 L509.16,100.50 L509.19,100.10 L509.22,99.70 L509.25,99.30 L509.27,98.90 L509.30,98.50 L509.32,98.10 L509.34,97.70 L509.36,97.30 L509.38,96.90 L509.40,96.50 L509.42,96.10 L509.43,95.70 L509.44,95.30 L509.45,94.90 L509.46,94.50 L509.47,94.10 L509.48,93.70 L509.49,93.30 L509.50,92.90 L509.51,92.50 L509.52,92.10 L509.52,91.70 L509.53,91.30 L509.54,90.90 L509.55,90.50 L509.55,90.10 L509.56,89.70 L509.57,89.30 L509.57,88.90 L509.58,88.50 L509.58,88.10 L509.59,87.70 L509.59,87.30 L509.59,86.90 L509.60,86.50 L509.60,86.10 L509.60,85.70 L509.60,85.30 L509.60,84.90 L509.60,84.50 L509.60,84.10 L509.60,83.70 L509.60,83.30 L509.60,82.90 L509.60,82.50 L509.60,82.10 L509.60,81.70 L509.60,81.30 L509.60,80.90 L509.60,80.50 L509.60,80.10 L509.60,79.70 L509.60,79.30 L509.60,78.90 L509.60,78.50 L509.60,78.10 L509.60,77.70 L509.60,77.30 L509.60,76.90 L509.60,76.50Z" fill="#F97C70"/>
<line x1="533.10" y1="135.45" x2="544.30" y2="135.45" stroke="#6394EA" stroke-width="0.7"/>
<path d="M561.10,115.00 L561.12,115.40 L561.14,115.80 L561.16,116.20 L561.18,116.60 L561.20,117.00 L561.22,117.40 L561.24,117.80 L561.26,118.20 L561.28,118.60 L561.30,119.00 L561.32,119.40 L561.35,119.80 L561.38,120.20 L561.41,120.60 L561.45,121.00 L561.50,121.40 L561.56,121.80 L561.63,122.20 L561.70,122.60 L561.77,123.00 L561.85,123.40 L561.94,123.80 L562.02,124.20 L562.11,124.60 L562.20,125.00 L562.28,125.40 L562.36,125.80 L562.44,126.20 L562.52,126.60 L562.60,127.00 L562.68,127.40 L562.77,127.80 L562.85,128.20 L562.94,128.60 L563.03,129.00 L563.11,129.40 L563.20,129.80 L563.28,130.20 L563.37,130.60 L563.45,131.00 L563.53,131.40 L563.61,131.80 L563.69,132.20 L563.77,132.60 L563.86,133.00 L563.94,133.40 L564.02,133.80 L564.09,134.20 L564.15,134.60 L564.20,135.00 L564.24,135.40 L564.28,135.80 L564.31,136.20 L564.34,136.60 L564.37,137.00 L564.39,137.40 L564.40,137.80 L564.40,138.20 L564.38,138.60 L564.36,139.00 L564.32,139.40 L564.27,139.80 L564.21,140.20 L564.15,140.60 L564.08,141.00 L564.01,141.40 L563.94,141.80 L563.86,142.20 L563.77,142.60 L563.66,143.00 L563.54,143.40 L563.40,143.80 L563.26,144.20 L563.12,144.60 L562.98,145.00 L562.84,145.40 L562.71,145.80 L562.59,146.20 L562.47,146.60 L562.35,147.00 L562.22,147.40 L562.10,147.80 L561.98,148.20 L561.87,148.60 L561.76,149.00 L561.66,149.40 L561.57,149.80 L561.49,150.20 L561.42,150.60 L561.35,151.00 L561.29,151.40 L561.23,151.80 L561.17,152.20 L561.09,152.60 L561.01,153.00 L560.92,153.40 L560.85,153.80 L560.78,154.20 L560.73,154.60 L560.70,155.00 L560.69,155.40 L560.67,155.80 L560.66,156.20 L560.65,156.60 L560.65,157.00 L560.64,157.40 L560.63,157.80 L560.63,158.20 L560.62,158.60 L560.62,159.00 L560.61,159.40 L560.60,159.80 L560.60,160.20 L560.59,160.60 L560.58,161.00 L560.57,161.40 L560.57,161.80 L560.56,162.20 L560.55,162.60 L560.55,163.00 L560.54,163.40 L560.53,163.80 L560.52,164.20 L560.51,164.60 L560.50,165.00 L560.48,165.40 L560.46,165.80 L560.44,166.20 L560.41,166.60 L560.37,167.00 L560.34,167.40 L560.31,167.80 L560.28,168.20 L560.25,168.60 L560.23,169.00 L560.21,169.40 L560.20,169.80 L560.20,170.20 L560.20,170.60 L560.21,171.00 L560.21,171.40 L560.22,171.80 L560.23,172.20 L560.24,172.60 L560.25,173.00 L560.26,173.40 L560.27,173.80 L560.28,174.20 L560.29,174.60 L560.30,175.00 L560.31,175.40 L560.33,175.80 L560.35,176.20 L560.37,176.60 L560.39,177.00 L560.41,177.40 L560.43,177.80 L560.45,178.20 L560.47,178.60 L560.48,179.00 L560.49,179.40 L560.50,179.80 L560.50,180.20 L560.50,180.60 L560.49,181.00 L560.48,181.40 L560.47,181.80 L560.45,182.20 L560.44,182.60 L560.42,183.00 L560.40,183.40 L560.38,183.80 L560.37,184.20 L560.35,184.60 L560.33,185.00 L560.32,185.40 L560.31,185.80 L560.29,186.20 L560.28,186.60 L560.27,187.00 L560.26,187.40 L560.25,187.80 L560.24,188.20 L560.22,188.60 L560.21,189.00 L560.20,189.40 L560.19,189.80 L560.18,190.20 L560.17,190.60 L560.16,191.00 L560.15,191.40 L560.14,191.80 L560.13,192.20 L560.12,192.60 L560.12,193.00 L560.11,193.40 L560.11,193.80 L560.10,194.20 L560.10,194.60 L560.10,195.00 L560.10,195.40 L560.10,195.80 L560.10,196.20 L560.10,196.60 L560.10,197.00 L560.10,197.40 L560.10,197.80 L560.10,198.20 L560.10,198.60 L560.10,199.00 L560.10,199.40 L560.10,199.80 L560.10,200.20 L560.10,200.60 L560.11,201.00 L560.11,201.40 L560.11,201.80 L560.11,202.20 L560.11,202.60 L560.11,203.00 L560.12,203.40 L560.12,203.80 L560.12,204.20 L560.12,204.60 L560.13,205.00 L560.13,205.40 L560.13,205.80 L560.14,206.20 L560.14,206.60 L560.14,207.00 L560.15,207.40 L560.15,207.50 L558.65,207.50 L558.65,207.40 L558.66,207.00 L558.66,206.60 L558.66,206.20 L558.67,205.80 L558.67,205.40 L558.67,205.00 L558.68,204.60 L558.68,204.20 L558.68,203.80 L558.68,203.40 L558.69,203.00 L558.69,202.60 L558.69,202.20 L558.69,201.80 L558.69,201.40 L558.69,201.00 L558.70,200.60 L558.70,200.20 L558.70,199.80 L558.70,199.40 L558.70,199.00 L558.70,198.60 L558.70,198.20 L558.70,197.80 L558.70,197.40 L558.70,197.00 L558.70,196.60 L558.70,196.20 L558.70,195.80 L558.70,195.40 L558.70,195.00 L558.70,194.60 L558.70,194.20 L558.69,193.80 L558.69,193.40 L558.68,193.00 L558.68,192.60 L558.67,192.20 L558.66,191.80 L558.65,191.40 L558.64,191.00 L558.63,190.60 L558.62,190.20 L558.61,189.80 L558.60,189.40 L558.59,189.00 L558.58,188.60 L558.56,188.20 L558.55,187.80 L558.54,187.40 L558.53,187.00 L558.52,186.60 L558.51,186.20 L558.49,185.80 L558.48,185.40 L558.47,185.00 L558.45,184.60 L558.43,184.20 L558.42,183.80 L558.40,183.40 L558.38,183.00 L558.36,182.60 L558.35,182.20 L558.33,181.80 L558.32,181.40 L558.31,181.00 L558.30,180.60 L558.30,180.20 L558.30,179.80 L558.31,179.40 L558.32,179.00 L558.33,178.60 L558.35,178.20 L558.37,177.80 L558.39,177.40 L558.41,177.00 L558.43,176.60 L558.45,176.20 L558.47,175.80 L558.49,175.40 L558.50,175.00 L558.51,174.60 L558.52,174.20 L558.53,173.80 L558.54,173.40 L558.55,173.00 L558.56,172.60 L558.57,172.20 L558.58,171.80 L558.59,171.40 L558.59,171.00 L558.60,170.60 L558.60,170.20 L558.60,169.80 L558.59,169.40 L558.57,169.00 L558.55,168.60 L558.52,168.20 L558.49,167.80 L558.46,167.40 L558.43,167.00 L558.39,166.60 L558.36,166.20 L558.34,165.80 L558.32,165.40 L558.30,165.00 L558.29,164.60 L558.28,164.20 L558.27,163.80 L558.26,163.40 L558.25,163.00 L558.25,162.60 L558.24,162.20 L558.23,161.80 L558.23,161.40 L558.22,161.00 L558.21,160.60 L558.20,160.20 L558.20,159.80 L558.19,159.40 L558.18,159.00 L558.18,158.60 L558.17,158.20 L558.17,157.80 L558.16,157.40 L558.15,157.00 L558.15,156.60 L558.14,156.20 L558.13,155.80 L558.11,155.40 L558.10,155.00 L558.07,154.60 L558.02,154.20 L557.95,153.80 L557.88,153.40 L557.79,153.00 L557.71,152.60 L557.63,152.20 L557.57,151.80 L557.51,151.40 L557.45,151.00 L557.38,150.60 L557.31,150.20 L557.23,149.80 L557.14,149.40 L557.04,149.00 L556.93,148.60 L556.82,148.20 L556.70,147.80 L556.58,147.40 L556.45,147.00 L556.33,146.60 L556.21,146.20 L556.09,145.80 L555.96,145.40 L555.82,145.00 L555.68,144.60 L555.54,144.20 L555.40,143.80 L555.26,143.40 L555.14,143.00 L555.03,142.60 L554.94,142.20 L554.86,141.80 L554.79,141.40 L554.72,141.00 L554.65,140.60 L554.59,140.20 L554.53,139.80 L554.48,139.40 L554.44,139.00 L554.42,138.60 L554.40,138.20 L554.40,137.80 L554.41,137.40 L554.43,137.00 L554.46,136.60 L554.49,136.20 L554.52,135.80 L554.56,135.40 L554.60,135.00 L554.65,134.60 L554.71,134.20 L554.78,133.80 L554.86,133.40 L554.94,133.00 L555.03,132.60 L555.11,132.20 L555.19,131.80 L555.27,131.40 L555.35,131.00 L555.43,130.60 L555.52,130.20 L555.60,129.80 L555.69,129.40 L555.77,129.00 L555.86,128.60 L555.95,128.20 L556.03,127.80 L556.12,127.40 L556.20,127.00 L556.28,126.60 L556.36,126.20 L556.44,125.80 L556.52,125.40 L556.60,125.00 L556.69,124.60 L556.78,124.20 L556.86,123.80 L556.95,123.40 L557.03,123.00 L557.10,122.60 L557.17,122.20 L557.24,121.80 L557.30,121.40 L557.35,121.00 L557.39,120.60 L557.42,120.20 L557.45,119.80 L557.48,119.40 L557.50,119.00 L557.52,118.60 L557.54,118.20 L557.56,117.80 L557.58,117.40 L557.60,117.00 L557.62,116.60 L557.64,116.20 L557.66,115.80 L557.68,115.40 L557.70,115.00Z" fill="#6394EA"/>
<path d="M583.80,121.25 L583.75,121.65 L583.67,122.05 L583.58,122.45 L583.47,122.85 L583.31,123.25 L583.12,123.65 L582.90,124.05 L582.69,124.45 L582.51,124.85 L582.36,125.25 L582.23,125.65 L582.10,126.05 L582.00,126.45 L581.92,126.85 L581.87,127.25 L581.83,127.65 L581.79,128.05 L581.76,128.45 L581.74,128.85 L581.72,129.25 L581.70,129.65 L581.70,130.05 L581.72,130.45 L581.75,130.85 L581.81,131.25 L581.88,131.65 L581.96,132.05 L582.06,132.45 L582.16,132.85 L582.28,133.25 L582.48,133.65 L582.73,134.05 L583.02,134.45 L583.33,134.85 L583.65,135.25 L583.96,135.65 L584.23,136.05 L584.49,136.45 L584.75,136.85 L585.00,137.25 L585.26,137.65 L585.51,138.05 L585.76,138.45 L586.01,138.85 L586.25,139.25 L586.49,139.65 L586.73,140.05 L586.99,140.45 L587.27,140.85 L587.57,141.25 L587.87,141.65 L588.16,142.05 L588.42,142.45 L588.64,142.85 L588.81,143.25 L588.92,143.65 L588.95,144.05 L588.92,144.45 L588.83,144.85 L588.71,145.25 L588.56,145.65 L588.39,146.05 L588.21,146.45 L588.02,146.85 L587.82,147.25 L587.55,147.65 L587.23,148.05 L586.89,148.45 L586.53,148.85 L586.20,149.25 L585.91,149.65 L585.67,150.05 L585.48,150.45 L585.30,150.85 L585.12,151.25 L584.96,151.65 L584.81,152.05 L584.67,152.45 L584.54,152.85 L584.43,153.25 L584.32,153.65 L584.24,154.05 L584.18,154.45 L584.13,154.85 L584.08,155.25 L584.03,155.65 L583.96,156.05 L583.85,156.45 L583.62,156.85 L583.05,157.25 L582.45,157.60 L577.95,157.60 L577.35,157.25 L576.78,156.85 L576.55,156.45 L576.44,156.05 L576.37,155.65 L576.32,155.25 L576.27,154.85 L576.22,154.45 L576.16,154.05 L576.08,153.65 L575.97,153.25 L575.86,152.85 L575.73,152.45 L575.59,152.05 L575.44,151.65 L575.28,151.25 L575.10,150.85 L574.92,150.45 L574.73,150.05 L574.49,149.65 L574.20,149.25 L573.87,148.85 L573.51,148.45 L573.17,148.05 L572.85,147.65 L572.58,147.25 L572.38,146.85 L572.19,146.45 L572.01,146.05 L571.84,145.65 L571.69,145.25 L571.57,144.85 L571.48,144.45 L571.45,144.05 L571.48,143.65 L571.59,143.25 L571.76,142.85 L571.98,142.45 L572.24,142.05 L572.53,141.65 L572.83,141.25 L573.13,140.85 L573.41,140.45 L573.67,140.05 L573.91,139.65 L574.15,139.25 L574.39,138.85 L574.64,138.45 L574.89,138.05 L575.14,137.65 L575.40,137.25 L575.65,136.85 L575.91,136.45 L576.17,136.05 L576.44,135.65 L576.75,135.25 L577.07,134.85 L577.38,134.45 L577.67,134.05 L577.92,133.65 L578.12,133.25 L578.24,132.85 L578.34,132.45 L578.44,132.05 L578.52,131.65 L578.59,131.25 L578.65,130.85 L578.68,130.45 L578.70,130.05 L578.70,129.65 L578.68,129.25 L578.66,128.85 L578.64,128.45 L578.61,128.05 L578.57,127.65 L578.53,127.25 L578.48,126.85 L578.40,126.45 L578.30,126.05 L578.17,125.65 L578.04,125.25 L577.89,124.85 L577.71,124.45 L577.50,124.05 L577.28,123.65 L577.09,123.25 L576.93,122.85 L576.82,122.45 L576.73,122.05 L576.65,121.65 L576.60,121.25Z" fill="#6394EA"/>
<path d="M602.00,59.00 L601.98,59.40 L601.96,59.80 L601.94,60.20 L601.92,60.60 L601.90,61.00 L601.88,61.40 L601.86,61.80 L601.84,62.20 L601.82,62.60 L601.80,63.00 L601.78,63.40 L601.76,63.80 L601.73,64.20 L601.71,64.60 L601.68,65.00 L601.66,65.40 L601.64,65.80 L601.61,66.20 L601.59,66.60 L601.56,67.00 L601.54,67.40 L601.52,67.80 L601.50,68.20 L601.49,68.60 L601.47,69.00 L601.46,69.40 L601.45,69.80 L601.45,70.20 L601.44,70.60 L601.44,71.00 L601.43,71.40 L601.43,71.80 L601.42,72.20 L601.42,72.60 L601.41,73.00 L601.41,73.40 L601.41,73.80 L601.40,74.20 L601.40,74.60 L601.40,75.00 L601.39,75.40 L601.39,75.80 L601.39,76.20 L601.38,76.60 L601.38,77.00 L601.38,77.40 L601.37,77.80 L601.37,78.20 L601.37,78.60 L601.37,79.00 L601.36,79.40 L601.36,79.80 L601.36,80.20 L601.36,80.60 L601.36,81.00 L601.36,81.40 L601.35,81.80 L601.35,82.20 L601.35,82.60 L601.35,83.00 L601.35,83.40 L601.35,83.80 L601.35,84.20 L601.35,84.60 L601.35,85.00 L601.35,85.40 L601.35,85.80 L601.35,86.20 L601.35,86.60 L601.35,87.00 L601.36,87.40 L601.36,87.80 L601.36,88.20 L601.37,88.60 L601.37,89.00 L601.37,89.40 L601.38,89.80 L601.38,90.20 L601.39,90.60 L601.39,91.00 L601.40,91.40 L601.40,91.80 L601.41,92.20 L601.41,92.60 L601.42,93.00 L601.42,93.40 L601.43,93.80 L601.44,94.20 L601.44,94.60 L601.45,95.00 L601.46,95.40 L601.47,95.80 L601.48,96.20 L601.49,96.60 L601.51,97.00 L601.52,97.40 L601.54,97.80 L601.56,98.20 L601.58,98.60 L601.60,99.00 L601.62,99.40 L601.64,99.80 L601.66,100.20 L601.68,100.60 L601.71,101.00 L601.73,101.40 L601.76,101.80 L601.79,102.20 L601.82,102.60 L601.85,103.00 L601.88,103.40 L601.91,103.80 L601.94,104.20 L601.97,104.60 L602.00,105.00 L602.03,105.40 L602.06,105.80 L602.10,106.20 L602.13,106.60 L602.16,107.00 L602.20,107.40 L602.23,107.80 L602.26,108.20 L602.29,108.60 L602.32,109.00 L602.35,109.40 L602.38,109.80 L602.40,110.20 L602.43,110.60 L602.45,111.00 L602.48,111.40 L602.50,111.80 L602.53,112.20 L602.55,112.60 L602.57,113.00 L602.60,113.40 L602.62,113.80 L602.65,114.20 L602.67,114.60 L602.70,115.00 L602.73,115.40 L602.75,115.80 L602.78,116.20 L602.80,116.60 L602.82,117.00 L602.85,117.40 L602.88,117.80 L602.90,118.20 L602.93,118.60 L602.96,119.00 L603.00,119.40 L603.03,119.80 L603.07,120.20 L603.12,120.60 L603.17,121.00 L603.23,121.40 L603.30,121.80 L603.36,122.20 L603.43,122.60 L603.50,123.00 L603.56,123.40 L603.62,123.80 L603.68,124.20 L603.73,124.60 L603.78,125.00 L603.83,125.40 L603.87,125.80 L603.92,126.20 L603.97,126.60 L604.02,127.00 L604.07,127.40 L604.12,127.80 L604.18,128.20 L604.24,128.60 L604.31,129.00 L604.37,129.40 L604.44,129.80 L604.51,130.20 L604.58,130.60 L604.65,131.00 L604.71,131.40 L604.77,131.80 L604.83,132.20 L604.89,132.60 L604.95,133.00 L605.01,133.40 L605.08,133.80 L605.13,134.20 L605.18,134.60 L605.23,135.00 L605.26,135.40 L605.27,135.80 L605.27,136.20 L605.27,136.60 L605.26,137.00 L605.25,137.40 L605.24,137.80 L605.23,138.20 L605.21,138.60 L605.20,139.00 L605.18,139.40 L605.16,139.80 L605.14,140.20 L605.12,140.60 L605.09,141.00 L605.06,141.40 L605.02,141.80 L604.98,142.20 L604.94,142.60 L604.89,143.00 L604.85,143.40 L604.80,143.80 L604.75,144.20 L604.69,144.60 L604.63,145.00 L604.57,145.40 L604.49,145.80 L604.42,146.20 L604.34,146.60 L604.26,147.00 L604.18,147.40 L604.09,147.80 L604.01,148.20 L603.93,148.60 L603.84,149.00 L603.76,149.40 L603.69,149.80 L603.61,150.20 L603.53,150.60 L603.46,151.00 L603.38,151.40 L603.30,151.80 L603.23,152.20 L603.16,152.60 L603.10,153.00 L603.04,153.40 L602.99,153.80 L602.93,154.20 L602.88,154.60 L602.83,155.00 L602.78,155.40 L602.73,155.80 L602.68,156.20 L602.64,156.60 L602.60,157.00 L602.57,157.40 L602.54,157.80 L602.52,158.20 L602.50,158.60 L602.49,159.00 L602.48,159.40 L602.47,159.80 L602.46,160.20 L602.46,160.60 L602.45,161.00 L602.44,161.40 L602.44,161.80 L602.43,162.20 L602.43,162.60 L602.42,163.00 L602.42,163.40 L602.41,163.80 L602.41,164.20 L602.40,164.60 L602.40,165.00 L602.40,165.40 L602.39,165.80 L602.39,166.20 L602.38,166.60 L602.38,167.00 L602.37,167.40 L602.37,167.80 L602.36,168.20 L602.36,168.60 L602.35,169.00 L602.35,169.40 L602.35,169.80 L602.34,170.20 L602.34,170.60 L602.33,171.00 L602.33,171.40 L602.33,171.80 L602.32,172.20 L602.32,172.60 L602.32,173.00 L602.31,173.40 L602.31,173.80 L602.31,174.20 L602.31,174.60 L602.30,175.00 L602.30,175.40 L602.30,175.50 L599.50,175.50 L599.50,175.40 L599.50,175.00 L599.49,174.60 L599.49,174.20 L599.49,173.80 L599.49,173.40 L599.48,173.00 L599.48,172.60 L599.48,172.20 L599.47,171.80 L599.47,171.40 L599.47,171.00 L599.46,170.60 L599.46,170.20 L599.45,169.80 L599.45,169.40 L599.45,169.00 L599.44,168.60 L599.44,168.20 L599.43,167.80 L599.43,167.40 L599.42,167.00 L599.42,166.60 L599.41,166.20 L599.41,165.80 L599.40,165.40 L599.40,165.00 L599.40,164.60 L599.39,164.20 L599.39,163.80 L599.38,163.40 L599.38,163.00 L599.37,162.60 L599.37,162.20 L599.36,161.80 L599.36,161.40 L599.35,161.00 L599.34,160.60 L599.34,160.20 L599.33,159.80 L599.32,159.40 L599.31,159.00 L599.30,158.60 L599.28,158.20 L599.26,157.80 L599.23,157.40 L599.20,157.00 L599.16,156.60 L599.12,156.20 L599.07,155.80 L599.02,155.40 L598.97,155.00 L598.92,154.60 L598.87,154.20 L598.81,153.80 L598.76,153.40 L598.70,153.00 L598.64,152.60 L598.57,152.20 L598.50,151.80 L598.42,151.40 L598.34,151.00 L598.27,150.60 L598.19,150.20 L598.11,149.80 L598.04,149.40 L597.96,149.00 L597.87,148.60 L597.79,148.20 L597.71,147.80 L597.62,147.40 L597.54,147.00 L597.46,146.60 L597.38,146.20 L597.31,145.80 L597.23,145.40 L597.17,145.00 L597.11,144.60 L597.05,144.20 L597.00,143.80 L596.95,143.40 L596.91,143.00 L596.86,142.60 L596.82,142.20 L596.78,141.80 L596.74,141.40 L596.71,141.00 L596.68,140.60 L596.66,140.20 L596.64,139.80 L596.62,139.40 L596.60,139.00 L596.59,138.60 L596.57,138.20 L596.56,137.80 L596.55,137.40 L596.54,137.00 L596.53,136.60 L596.53,136.20 L596.53,135.80 L596.54,135.40 L596.57,135.00 L596.62,134.60 L596.67,134.20 L596.72,133.80 L596.79,133.40 L596.85,133.00 L596.91,132.60 L596.97,132.20 L597.03,131.80 L597.09,131.40 L597.15,131.00 L597.22,130.60 L597.29,130.20 L597.36,129.80 L597.43,129.40 L597.49,129.00 L597.56,128.60 L597.62,128.20 L597.68,127.80 L597.73,127.40 L597.78,127.00 L597.83,126.60 L597.88,126.20 L597.93,125.80 L597.97,125.40 L598.02,125.00 L598.07,124.60 L598.12,124.20 L598.18,123.80 L598.24,123.40 L598.30,123.00 L598.37,122.60 L598.44,122.20 L598.50,121.80 L598.57,121.40 L598.63,121.00 L598.68,120.60 L598.73,120.20 L598.77,119.80 L598.80,119.40 L598.84,119.00 L598.87,118.60 L598.90,118.20 L598.92,117.80 L598.95,117.40 L598.98,117.00 L599.00,116.60 L599.02,116.20 L599.05,115.80 L599.07,115.40 L599.10,115.00 L599.13,114.60 L599.15,114.20 L599.18,113.80 L599.20,113.40 L599.23,113.00 L599.25,112.60 L599.27,112.20 L599.30,111.80 L599.32,111.40 L599.35,111.00 L599.37,110.60 L599.40,110.20 L599.42,109.80 L599.45,109.40 L599.48,109.00 L599.51,108.60 L599.54,108.20 L599.57,107.80 L599.60,107.40 L599.64,107.00 L599.67,106.60 L599.70,106.20 L599.74,105.80 L599.77,105.40 L599.80,105.00 L599.83,104.60 L599.86,104.20 L599.89,103.80 L599.92,103.40 L599.95,103.00 L599.98,102.60 L600.01,102.20 L600.04,101.80 L600.07,101.40 L600.09,101.00 L600.12,100.60 L600.14,100.20 L600.16,99.80 L600.18,99.40 L600.20,99.00 L600.22,98.60 L600.24,98.20 L600.26,97.80 L600.28,97.40 L600.29,97.00 L600.31,96.60 L600.32,96.20 L600.33,95.80 L600.34,95.40 L600.35,95.00 L600.36,94.60 L600.36,94.20 L600.37,93.80 L600.38,93.40 L600.38,93.00 L600.39,92.60 L600.39,92.20 L600.40,91.80 L600.40,91.40 L600.41,91.00 L600.41,90.60 L600.42,90.20 L600.42,89.80 L600.43,89.40 L600.43,89.00 L600.43,88.60 L600.44,88.20 L600.44,87.80 L600.44,87.40 L600.45,87.00 L600.45,86.60 L600.45,86.20 L600.45,85.80 L600.45,85.40 L600.45,85.00 L600.45,84.60 L600.45,84.20 L600.45,83.80 L600.45,83.40 L600.45,83.00 L600.45,82.60 L600.45,82.20 L600.45,81.80 L600.44,81.40 L600.44,81.00 L600.44,80.60 L600.44,80.20 L600.44,79.80 L600.44,79.40 L600.43,79.00 L600.43,78.60 L600.43,78.20 L600.43,77.80 L600.42,77.40 L600.42,77.00 L600.42,76.60 L600.41,76.20 L600.41,75.80 L600.41,75.40 L600.40,75.00 L600.40,74.60 L600.40,74.20 L600.39,73.80 L600.39,73.40 L600.39,73.00 L600.38,72.60 L600.38,72.20 L600.37,71.80 L600.37,71.40 L600.36,71.00 L600.36,70.60 L600.35,70.20 L600.35,69.80 L600.34,69.40 L600.33,69.00 L600.31,68.60 L600.30,68.20 L600.28,67.80 L600.26,67.40 L600.24,67.00 L600.21,66.60 L600.19,66.20 L600.16,65.80 L600.14,65.40 L600.12,65.00 L600.09,64.60 L600.07,64.20 L600.04,63.80 L600.02,63.40 L600.00,63.00 L599.98,62.60 L599.96,62.20 L599.94,61.80 L599.92,61.40 L599.90,61.00 L599.88,60.60 L599.86,60.20 L599.84,59.80 L599.82,59.40 L599.80,59.00Z" fill="#6394EA"/>
<line x1="63.70" y1="66.25" x2="63.70" y2="153.1" stroke="#000" stroke-opacity="0.75" stroke-width="1.0"/>
<line x1="61.50" y1="66.25" x2="65.90" y2="66.25" stroke="#333" stroke-width="0.85"/>
<line x1="61.50" y1="153.1" x2="65.90" y2="153.1" stroke="#333" stroke-width="0.85"/>
<line x1="84.50" y1="95.4" x2="84.50" y2="173.1" stroke="#000" stroke-opacity="0.75" stroke-width="1.0"/>
<line x1="82.30" y1="95.4" x2="86.70" y2="95.4" stroke="#333" stroke-width="0.85"/>
<line x1="82.30" y1="173.1" x2="86.70" y2="173.1" stroke="#333" stroke-width="0.85"/>
<line x1="105.20" y1="79.5" x2="105.20" y2="165.0" stroke="#000" stroke-opacity="0.75" stroke-width="1.0"/>
<line x1="103.00" y1="79.5" x2="107.40" y2="79.5" stroke="#333" stroke-width="0.85"/>
<line x1="103.00" y1="165.0" x2="107.40" y2="165.0" stroke="#333" stroke-width="0.85"/>
<line x1="154.10" y1="92.5" x2="154.10" y2="155.3" stroke="#000" stroke-opacity="0.75" stroke-width="1.0"/>
<line x1="151.90" y1="92.5" x2="156.30" y2="92.5" stroke="#333" stroke-width="0.85"/>
<line x1="151.90" y1="155.3" x2="156.30" y2="155.3" stroke="#333" stroke-width="0.85"/>
<line x1="174.90" y1="115.0" x2="174.90" y2="175.3" stroke="#000" stroke-opacity="0.75" stroke-width="1.0"/>
<line x1="172.70" y1="115.0" x2="177.10" y2="115.0" stroke="#333" stroke-width="0.85"/>
<line x1="172.70" y1="175.3" x2="177.10" y2="175.3" stroke="#333" stroke-width="0.85"/>
<line x1="195.60" y1="104.0" x2="195.60" y2="168.2" stroke="#000" stroke-opacity="0.75" stroke-width="1.0"/>
<line x1="193.40" y1="104.0" x2="197.80" y2="104.0" stroke="#333" stroke-width="0.85"/>
<line x1="193.40" y1="168.2" x2="197.80" y2="168.2" stroke="#333" stroke-width="0.85"/>
<line x1="244.45" y1="104.5" x2="244.45" y2="148.75" stroke="#000" stroke-opacity="0.75" stroke-width="1.0"/>
<line x1="242.25" y1="104.5" x2="246.65" y2="104.5" stroke="#333" stroke-width="0.85"/>
<line x1="242.25" y1="148.75" x2="246.65" y2="148.75" stroke="#333" stroke-width="0.85"/>
<line x1="265.25" y1="121.25" x2="265.25" y2="164.4" stroke="#000" stroke-opacity="0.75" stroke-width="1.0"/>
<line x1="263.05" y1="121.25" x2="267.45" y2="121.25" stroke="#333" stroke-width="0.85"/>
<line x1="263.05" y1="164.4" x2="267.45" y2="164.4" stroke="#333" stroke-width="0.85"/>
<line x1="285.95" y1="121.25" x2="285.95" y2="160.6" stroke="#000" stroke-opacity="0.75" stroke-width="1.0"/>
<line x1="283.75" y1="121.25" x2="288.15" y2="121.25" stroke="#333" stroke-width="0.85"/>
<line x1="283.75" y1="160.6" x2="288.15" y2="160.6" stroke="#333" stroke-width="0.85"/>
<line x1="379.30" y1="95.3" x2="379.30" y2="170.3" stroke="#000" stroke-opacity="0.75" stroke-width="1.0"/>
<line x1="377.10" y1="95.3" x2="381.50" y2="95.3" stroke="#333" stroke-width="0.85"/>
<line x1="377.10" y1="170.3" x2="381.50" y2="170.3" stroke="#333" stroke-width="0.85"/>
<line x1="400.10" y1="87.2" x2="400.10" y2="205.2" stroke="#000" stroke-opacity="0.75" stroke-width="1.0"/>
<line x1="397.90" y1="87.2" x2="402.30" y2="87.2" stroke="#333" stroke-width="0.85"/>
<line x1="397.90" y1="205.2" x2="402.30" y2="205.2" stroke="#333" stroke-width="0.85"/>
<line x1="420.80" y1="108.2" x2="420.80" y2="167.25" stroke="#000" stroke-opacity="0.75" stroke-width="1.0"/>
<line x1="418.60" y1="108.2" x2="423.00" y2="108.2" stroke="#333" stroke-width="0.85"/>
<line x1="418.60" y1="167.25" x2="423.00" y2="167.25" stroke="#333" stroke-width="0.85"/>
<line x1="469.20" y1="116.0" x2="469.20" y2="176.5" stroke="#000" stroke-opacity="0.75" stroke-width="1.0"/>
<line x1="467.00" y1="116.0" x2="471.40" y2="116.0" stroke="#333" stroke-width="0.85"/>
<line x1="467.00" y1="176.5" x2="471.40" y2="176.5" stroke="#333" stroke-width="0.85"/>
<line x1="490.00" y1="111.0" x2="490.00" y2="208.5" stroke="#000" stroke-opacity="0.75" stroke-width="1.0"/>
<line x1="487.80" y1="111.0" x2="492.20" y2="111.0" stroke="#333" stroke-width="0.85"/>
<line x1="487.80" y1="208.5" x2="492.20" y2="208.5" stroke="#333" stroke-width="0.85"/>
<line x1="510.70" y1="107.3" x2="510.70" y2="163.2" stroke="#000" stroke-opacity="0.75" stroke-width="1.0"/>
<line x1="508.50" y1="107.3" x2="512.90" y2="107.3" stroke="#333" stroke-width="0.85"/>
<line x1="508.50" y1="163.2" x2="512.90" y2="163.2" stroke="#333" stroke-width="0.85"/>
<line x1="559.40" y1="120.5" x2="559.40" y2="164.8" stroke="#000" stroke-opacity="0.75" stroke-width="1.0"/>
<line x1="557.20" y1="120.5" x2="561.60" y2="120.5" stroke="#333" stroke-width="0.85"/>
<line x1="557.20" y1="164.8" x2="561.60" y2="164.8" stroke="#333" stroke-width="0.85"/>
<line x1="580.20" y1="122.75" x2="580.20" y2="183.4" stroke="#000" stroke-opacity="0.75" stroke-width="1.0"/>
<line x1="578.00" y1="122.75" x2="582.40" y2="122.75" stroke="#333" stroke-width="0.85"/>
<line x1="578.00" y1="183.4" x2="582.40" y2="183.4" stroke="#333" stroke-width="0.85"/>
<line x1="600.90" y1="108.25" x2="600.90" y2="158.75" stroke="#000" stroke-opacity="0.75" stroke-width="1.0"/>
<line x1="598.70" y1="108.25" x2="603.10" y2="108.25" stroke="#333" stroke-width="0.85"/>
<line x1="598.70" y1="158.75" x2="603.10" y2="158.75" stroke="#333" stroke-width="0.85"/>
<polyline points="43.00,135.45 63.70,109.70 84.50,134.50 105.20,122.40" fill="none" stroke="#000" stroke-width="0.8"/>
<circle cx="43.00" cy="135.45" r="1.6" fill="#000"/>
<circle cx="63.70" cy="109.70" r="1.6" fill="#000"/>
<circle cx="84.50" cy="134.50" r="1.6" fill="#000"/>
<circle cx="105.20" cy="122.40" r="1.6" fill="#000"/>
<polyline points="133.40,135.45 154.10,123.75 174.90,145.30 195.60,136.20" fill="none" stroke="#000" stroke-width="0.8"/>
<circle cx="133.40" cy="135.45" r="1.6" fill="#000"/>
<circle cx="154.10" cy="123.75" r="1.6" fill="#000"/>
<circle cx="174.90" cy="145.30" r="1.6" fill="#000"/>
<circle cx="195.60" cy="136.20" r="1.6" fill="#000"/>
<polyline points="223.75,135.45 244.45,126.30 265.25,142.80 285.95,141.25" fill="none" stroke="#000" stroke-width="0.8"/>
<circle cx="223.75" cy="135.45" r="1.6" fill="#000"/>
<circle cx="244.45" cy="126.30" r="1.6" fill="#000"/>
<circle cx="265.25" cy="142.80" r="1.6" fill="#000"/>
<circle cx="285.95" cy="141.25" r="1.6" fill="#000"/>
<polyline points="358.60,135.45 379.30,133.00 400.10,146.30 420.80,137.80" fill="none" stroke="#000" stroke-width="0.8"/>
<circle cx="358.60" cy="135.45" r="1.6" fill="#000"/>
<circle cx="379.30" cy="133.00" r="1.6" fill="#000"/>
<circle cx="400.10" cy="146.30" r="1.6" fill="#000"/>
<circle cx="420.80" cy="137.80" r="1.6" fill="#000"/>
<polyline points="448.50,135.45 469.20,146.30 490.00,159.70 510.70,134.80" fill="none" stroke="#000" stroke-width="0.8"/>
<circle cx="448.50" cy="135.45" r="1.6" fill="#000"/>
<circle cx="469.20" cy="146.30" r="1.6" fill="#000"/>
<circle cx="490.00" cy="159.70" r="1.6" fill="#000"/>
<circle cx="510.70" cy="134.80" r="1.6" fill="#000"/>
<polyline points="538.70,135.45 559.40,142.80 580.20,153.30 600.90,133.25" fill="none" stroke="#000" stroke-width="0.8"/>
<circle cx="538.70" cy="135.45" r="1.6" fill="#000"/>
<circle cx="559.40" cy="142.80" r="1.6" fill="#000"/>
<circle cx="580.20" cy="153.30" r="1.6" fill="#000"/>
<circle cx="600.90" cy="133.25" r="1.6" fill="#000"/>
<line x1="30.5" y1="31.6" x2="30.5" y2="222.5" stroke="#111" stroke-width="0.8"/>
<line x1="27.2" y1="32.40" x2="30.5" y2="32.40" stroke="#111" stroke-width="0.8"/>
<line x1="27.2" y1="84.10" x2="30.5" y2="84.10" stroke="#111" stroke-width="0.8"/>
<line x1="27.2" y1="135.45" x2="30.5" y2="135.45" stroke="#111" stroke-width="0.8"/>
<line x1="27.2" y1="186.50" x2="30.5" y2="186.50" stroke="#111" stroke-width="0.8"/>
<line x1="30.2" y1="222.5" x2="117.7" y2="222.5" stroke="#111" stroke-width="0.8"/>
<line x1="43.00" y1="222.5" x2="43.00" y2="225.8" stroke="#111" stroke-width="0.8"/>
<line x1="63.70" y1="222.5" x2="63.70" y2="225.8" stroke="#111" stroke-width="0.8"/>
<line x1="84.50" y1="222.5" x2="84.50" y2="225.8" stroke="#111" stroke-width="0.8"/>
<line x1="105.20" y1="222.5" x2="105.20" y2="225.8" stroke="#111" stroke-width="0.8"/>
<line x1="120.60000000000001" y1="222.5" x2="208.10000000000002" y2="222.5" stroke="#111" stroke-width="0.8"/>
<line x1="133.40" y1="222.5" x2="133.40" y2="225.8" stroke="#111" stroke-width="0.8"/>
<line x1="154.10" y1="222.5" x2="154.10" y2="225.8" stroke="#111" stroke-width="0.8"/>
<line x1="174.90" y1="222.5" x2="174.90" y2="225.8" stroke="#111" stroke-width="0.8"/>
<line x1="195.60" y1="222.5" x2="195.60" y2="225.8" stroke="#111" stroke-width="0.8"/>
<line x1="210.6" y1="222.5" x2="298.1" y2="222.5" stroke="#111" stroke-width="0.8"/>
<line x1="223.40" y1="222.5" x2="223.40" y2="225.8" stroke="#111" stroke-width="0.8"/>
<line x1="244.10" y1="222.5" x2="244.10" y2="225.8" stroke="#111" stroke-width="0.8"/>
<line x1="264.90" y1="222.5" x2="264.90" y2="225.8" stroke="#111" stroke-width="0.8"/>
<line x1="285.60" y1="222.5" x2="285.60" y2="225.8" stroke="#111" stroke-width="0.8"/>
<line x1="346.4" y1="31.6" x2="346.4" y2="222.5" stroke="#111" stroke-width="0.8"/>
<line x1="343.09999999999997" y1="32.40" x2="346.4" y2="32.40" stroke="#111" stroke-width="0.8"/>
<line x1="343.09999999999997" y1="84.10" x2="346.4" y2="84.10" stroke="#111" stroke-width="0.8"/>
<line x1="343.09999999999997" y1="135.45" x2="346.4" y2="135.45" stroke="#111" stroke-width="0.8"/>
<line x1="343.09999999999997" y1="186.50" x2="346.4" y2="186.50" stroke="#111" stroke-width="0.8"/>
<line x1="345.8" y1="222.5" x2="433.3" y2="222.5" stroke="#111" stroke-width="0.8"/>
<line x1="358.60" y1="222.5" x2="358.60" y2="225.8" stroke="#111" stroke-width="0.8"/>
<line x1="379.30" y1="222.5" x2="379.30" y2="225.8" stroke="#111" stroke-width="0.8"/>
<line x1="400.10" y1="222.5" x2="400.10" y2="225.8" stroke="#111" stroke-width="0.8"/>
<line x1="420.80" y1="222.5" x2="420.80" y2="225.8" stroke="#111" stroke-width="0.8"/>
<line x1="435.7" y1="222.5" x2="523.2" y2="222.5" stroke="#111" stroke-width="0.8"/>
<line x1="448.50" y1="222.5" x2="448.50" y2="225.8" stroke="#111" stroke-width="0.8"/>
<line x1="469.20" y1="222.5" x2="469.20" y2="225.8" stroke="#111" stroke-width="0.8"/>
<line x1="490.00" y1="222.5" x2="490.00" y2="225.8" stroke="#111" stroke-width="0.8"/>
<line x1="510.70" y1="222.5" x2="510.70" y2="225.8" stroke="#111" stroke-width="0.8"/>
<line x1="525.7" y1="222.5" x2="613.2" y2="222.5" stroke="#111" stroke-width="0.8"/>
<line x1="538.50" y1="222.5" x2="538.50" y2="225.8" stroke="#111" stroke-width="0.8"/>
<line x1="559.20" y1="222.5" x2="559.20" y2="225.8" stroke="#111" stroke-width="0.8"/>
<line x1="580.00" y1="222.5" x2="580.00" y2="225.8" stroke="#111" stroke-width="0.8"/>
<line x1="600.70" y1="222.5" x2="600.70" y2="225.8" stroke="#111" stroke-width="0.8"/>
<text x="24.30" y="35.30" text-anchor="end" font-size="7.5">4</text>
<text x="24.30" y="87.00" text-anchor="end" font-size="7.5">2</text>
<text x="24.30" y="138.35" text-anchor="end" font-size="7.5">0</text>
<text x="24.30" y="189.40" text-anchor="end" font-size="7.5">−2</text>
<text x="43.00" y="235.1" text-anchor="middle" font-size="7.5">baseline</text>
<text x="63.70" y="235.1" text-anchor="middle" font-size="7.5">10</text>
<text x="84.50" y="235.1" text-anchor="middle" font-size="7.5">24</text>
<text x="105.20" y="235.1" text-anchor="middle" font-size="7.5">60</text>
<text x="133.40" y="235.1" text-anchor="middle" font-size="7.5">baseline</text>
<text x="154.10" y="235.1" text-anchor="middle" font-size="7.5">10</text>
<text x="174.90" y="235.1" text-anchor="middle" font-size="7.5">24</text>
<text x="195.60" y="235.1" text-anchor="middle" font-size="7.5">60</text>
<text x="223.40" y="235.1" text-anchor="middle" font-size="7.5">baseline</text>
<text x="244.10" y="235.1" text-anchor="middle" font-size="7.5">10</text>
<text x="264.90" y="235.1" text-anchor="middle" font-size="7.5">24</text>
<text x="285.60" y="235.1" text-anchor="middle" font-size="7.5">60</text>
<text x="164.5" y="245.3" text-anchor="middle" font-size="7.65">Time before baseline (days)</text>
<text x="339.50" y="35.30" text-anchor="end" font-size="7.5">4</text>
<text x="339.50" y="87.00" text-anchor="end" font-size="7.5">2</text>
<text x="339.50" y="138.35" text-anchor="end" font-size="7.5">0</text>
<text x="339.50" y="189.40" text-anchor="end" font-size="7.5">−2</text>
<text x="358.60" y="235.1" text-anchor="middle" font-size="7.5">baseline</text>
<text x="379.30" y="235.1" text-anchor="middle" font-size="7.5">10</text>
<text x="400.10" y="235.1" text-anchor="middle" font-size="7.5">24</text>
<text x="420.80" y="235.1" text-anchor="middle" font-size="7.5">60</text>
<text x="448.50" y="235.1" text-anchor="middle" font-size="7.5">baseline</text>
<text x="469.20" y="235.1" text-anchor="middle" font-size="7.5">10</text>
<text x="490.00" y="235.1" text-anchor="middle" font-size="7.5">24</text>
<text x="510.70" y="235.1" text-anchor="middle" font-size="7.5">60</text>
<text x="538.50" y="235.1" text-anchor="middle" font-size="7.5">baseline</text>
<text x="559.20" y="235.1" text-anchor="middle" font-size="7.5">10</text>
<text x="580.00" y="235.1" text-anchor="middle" font-size="7.5">24</text>
<text x="600.70" y="235.1" text-anchor="middle" font-size="7.5">60</text>
<text x="480.0" y="245.3" text-anchor="middle" font-size="7.65">Time before baseline (days)</text>
<text transform="translate(8.8,126.4) rotate(-90)" text-anchor="middle" font-size="7.5">Log2FC in plasma protein concentration</text>
<text x="2.2" y="15.7" font-size="15.5" font-weight="bold">a</text>
<text x="325.3" y="16.1" font-size="15.5" font-weight="bold">b</text>
<text x="23.5" y="22.4" font-size="8.8">DIC</text>
<text x="339.1" y="22.5" font-size="8.8">EIC</text>
<text x="621.6" y="110.9" font-size="7.5">Marker</text>
<rect x="622.1" y="114.20" width="9.0" height="8.93" fill="#4b4b4b"/>
<text x="635.7" y="120.60" font-size="7.5">Antiangiogenic</text>
<rect x="622.1" y="123.13" width="9.0" height="8.93" fill="#F97C70"/>
<text x="635.7" y="129.53" font-size="7.5">Proangiogenic</text>
<rect x="622.1" y="132.06" width="9.0" height="8.93" fill="#6394EA"/>
<text x="635.7" y="138.46" font-size="7.5">Other receptor</text>
</svg>
</body></html>
